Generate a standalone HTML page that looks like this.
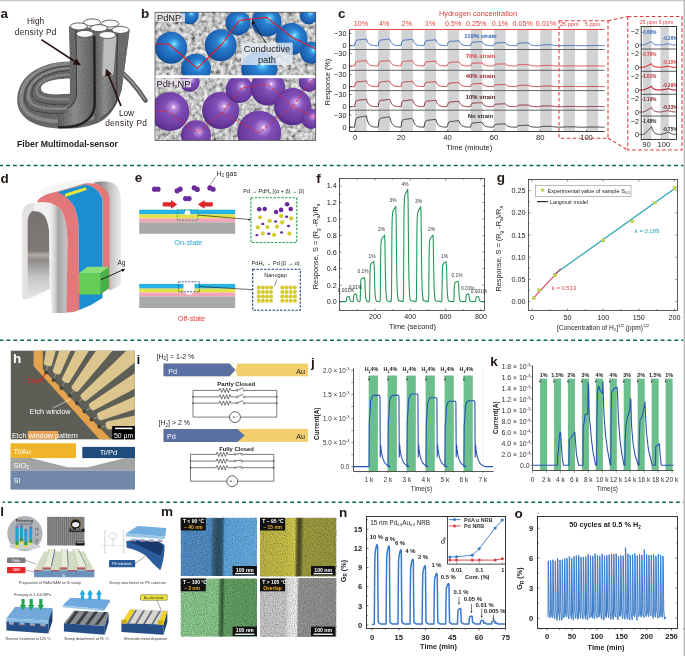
<!DOCTYPE html>
<html><head><meta charset="utf-8"><style>
html,body{margin:0;padding:0;background:#fff;}
svg{display:block;font-family:"Liberation Sans", sans-serif;will-change:transform;}
</style></head><body>
<svg width="685" height="656" viewBox="0 0 685 656" font-family='"Liberation Sans", sans-serif'>
<defs><linearGradient id="gfib" x1="0" y1="0" x2="1" y2="0">
<stop offset="0" stop-color="#5a5a5a"/><stop offset="0.45" stop-color="#8e8e8e"/><stop offset="1" stop-color="#5e5e5e"/></linearGradient>
<linearGradient id="gloop" x1="0" y1="0" x2="0" y2="1">
<stop offset="0" stop-color="#6a6a6a"/><stop offset="0.6" stop-color="#7c7c7c"/><stop offset="1" stop-color="#8a8a8a"/></linearGradient>
<marker id="ahA" viewBox="0 0 10 10" refX="8" refY="5" markerWidth="4.2" markerHeight="4.2" orient="auto"><path d="M0,0 L10,5 L0,10 z" fill="#2a1011"/></marker>
<clipPath id="csil"><path d="M70,61.4 C45,61.4 20,72 17.3,97 C15.5,118 35,128 60,128.5 C80,129 98,126 108,116 C114,110 118,102 121.7,90 L129.7,30 L120,24 L100,19 L84,22 L69.1,26 Z"/></clipPath><radialGradient id="gblue" cx="0.55" cy="0.42" r="0.6" fx="0.6" fy="0.38">
<stop offset="0" stop-color="#c8f4ff"/><stop offset="0.1" stop-color="#50c0f0"/><stop offset="0.35" stop-color="#2a7ed0"/><stop offset="0.8" stop-color="#1a60b0"/><stop offset="1" stop-color="#154a8c"/></radialGradient>
<radialGradient id="gpur" cx="0.55" cy="0.42" r="0.6" fx="0.6" fy="0.38">
<stop offset="0" stop-color="#fff4ff"/><stop offset="0.1" stop-color="#c090e0"/><stop offset="0.35" stop-color="#8050b8"/><stop offset="0.8" stop-color="#6a3aa0"/><stop offset="1" stop-color="#4e2a82"/></radialGradient>
<clipPath id="cbt"><rect x="155" y="12.2" width="160.8" height="63"/></clipPath>
<clipPath id="cbb"><rect x="155" y="78.2" width="160.8" height="62.1"/></clipPath>
<filter id="tex" x="0" y="0" width="1" height="1"><feTurbulence type="fractalNoise" baseFrequency="0.24" numOctaves="3" seed="4"/><feColorMatrix type="matrix" values="1.5 0 0 0 -0.16  1.5 0 0 0 -0.16  1.5 0 0 0 -0.16  0 0 0 0 1"/></filter>
<marker id="ahB" viewBox="0 0 10 10" refX="8" refY="5" markerWidth="5" markerHeight="5" orient="auto"><path d="M0,0 L10,5 L0,10 z" fill="#111"/></marker><linearGradient id="gsilL" x1="50" y1="0" x2="67" y2="0" gradientUnits="userSpaceOnUse">
<stop offset="0" stop-color="#f0f0f0"/><stop offset="0.25" stop-color="#d8d8d8"/><stop offset="0.5" stop-color="#a4a4a4"/><stop offset="0.75" stop-color="#b8b8b8"/><stop offset="1" stop-color="#c4c4c4"/></linearGradient>
<linearGradient id="gint" x1="0" y1="212" x2="0" y2="298" gradientUnits="userSpaceOnUse">
<stop offset="0" stop-color="#787270"/><stop offset="0.45" stop-color="#7e7876"/><stop offset="0.5" stop-color="#b4aaa6"/><stop offset="0.56" stop-color="#8e8a88"/><stop offset="0.75" stop-color="#c4c4c4"/><stop offset="1" stop-color="#e6e6e6"/></linearGradient>
<linearGradient id="gsilR" x1="100" y1="0" x2="121" y2="0" gradientUnits="userSpaceOnUse">
<stop offset="0" stop-color="#8a8a8a"/><stop offset="0.5" stop-color="#c4c4c4"/><stop offset="1" stop-color="#ececec"/></linearGradient>
<marker id="ahK" viewBox="0 0 10 10" refX="8" refY="5" markerWidth="4" markerHeight="4" orient="auto"><path d="M0,0 L10,5 L0,10 z" fill="#111"/></marker>
<clipPath id="chh"><rect x="10.8" y="350.7" width="124" height="88.6"/></clipPath>
<filter id="blur05"><feGaussianBlur stdDeviation="0.35"/></filter><filter id="noise" x="0" y="0" width="1" height="1"><feTurbulence type="fractalNoise" baseFrequency="0.9" numOctaves="1" seed="2"/><feColorMatrix type="matrix" values="0 0 0 0 0  0 0 0 0 0  0 0 0 0 0  0 0 0 -2.2 1.25"/></filter>
<filter id="noiseW" x="0" y="0" width="1" height="1"><feTurbulence type="fractalNoise" baseFrequency="0.9" numOctaves="1" seed="5"/><feColorMatrix type="matrix" values="0 0 0 0 1  0 0 0 0 1  0 0 0 0 1  0 0 0 -2.2 1.25"/></filter><linearGradient id="gm1" x1="0" y1="0" x2="1" y2="0.012"><stop offset="0" stop-color="#4c8cc6"/><stop offset="0.4" stop-color="#4a88c0"/><stop offset="0.43" stop-color="#33607e"/><stop offset="0.49" stop-color="#264a60"/><stop offset="0.55" stop-color="#2c5670"/><stop offset="0.58" stop-color="#5aa2da"/><stop offset="1" stop-color="#62aae0"/></linearGradient><linearGradient id="gm2" x1="0" y1="0" x2="1" y2="0.012"><stop offset="0" stop-color="#bcb43e"/><stop offset="0.33" stop-color="#c4bc42"/><stop offset="0.46" stop-color="#d2ca48"/><stop offset="0.49" stop-color="#6a6826"/><stop offset="0.52" stop-color="#3e3e1a"/><stop offset="0.55" stop-color="#6a6a2a"/><stop offset="0.58" stop-color="#9c9a3a"/><stop offset="1" stop-color="#969438"/></linearGradient><linearGradient id="gm3" x1="0" y1="0" x2="1" y2="0.012"><stop offset="0" stop-color="#86c888"/><stop offset="0.49" stop-color="#86c686"/><stop offset="0.52" stop-color="#4a7a4c"/><stop offset="0.55" stop-color="#2e5a32"/><stop offset="0.58" stop-color="#5e9e60"/><stop offset="1" stop-color="#5a9a5c"/></linearGradient><linearGradient id="gm4" x1="0" y1="0" x2="1" y2="0.012"><stop offset="0" stop-color="#c4c4c4"/><stop offset="0.34" stop-color="#c8c8c8"/><stop offset="0.38" stop-color="#e2e2e2"/><stop offset="0.45" stop-color="#f0f0f0"/><stop offset="0.49" stop-color="#e6e6e6"/><stop offset="0.51" stop-color="#909090"/><stop offset="1" stop-color="#8c8c8c"/></linearGradient></defs>
<rect x="0" y="0" width="685" height="1.2" fill="#c9c9c9" stroke="none" stroke-width="1" />
<rect x="683.6" y="0" width="1.4" height="656" fill="#b9b9b9" stroke="none" stroke-width="1" />
<line x1="0" y1="165.5" x2="683.4" y2="165.5" stroke="#0b6b3c" stroke-width="1.6" stroke-dasharray="3.85 3.037" stroke-dashoffset="0.787"/>
<line x1="0" y1="340.2" x2="683.4" y2="340.2" stroke="#0b6b3c" stroke-width="1.6" stroke-dasharray="3.85 3.037" stroke-dashoffset="0.487"/>
<line x1="2.5" y1="502.3" x2="683.4" y2="502.3" stroke="#0b6b3c" stroke-width="1.6" stroke-dasharray="3.85 3.037" stroke-dashoffset="1.487"/>
<text x="0.6" y="17.6" font-size="13.5" fill="#231815" font-weight="bold" text-anchor="start" >a</text>
<path d="M117,69 C126,75 134,83 145.5,100.5" fill="none" stroke="#5e5e5e" stroke-width="4.6" stroke-linecap="round"/>
<path d="M117,68.5 C126,74.5 134,82.5 145,100" fill="none" stroke="#a2a2a2" stroke-width="1.3" />
<path d="M70,61.4 C45,61.4 20,72 17.3,97 C15.5,118 35,128 60,128.5 C80,129 98,126 108,116 C114,110 118,102 121.7,90 L129.7,30 L69.1,26.4 Z" fill="#686868" stroke="none" stroke-width="1" />
<path d="M70,63.8 C47,63.8 23,74 21,97 C19.5,114 37,121 60,121.5 C80,122 97,119 106,111" fill="none" stroke="#8c8c8c" stroke-width="3.6" />
<path d="M70,68.3 C52,68.3 30,77 28.3,93.5 C27,106 40,108.8 58,108.8 C75,108.8 90,107 102,102" fill="none" stroke="#8a8a8a" stroke-width="2.6" />
<path d="M70,74.6 C56,74.6 38,79.5 36.5,90 C35.8,97 45,99.2 58,99.2 C72,99.2 86,98.5 97,95" fill="none" stroke="#888888" stroke-width="2.4" />
<path d="M70,66 C50,66 27,75 24.6,95 C23,110 38,113.4 58,113.4 C75,113.4 92,112 104,106" fill="none" stroke="#3a3a3a" stroke-width="0.9" />
<path d="M70,70.5 C54,70.5 33,78 31.9,92 C31,101 42,104.3 58,104.3 C74,104.3 90,103 100,98" fill="none" stroke="#3a3a3a" stroke-width="0.9" />
<path d="M70,78.7 C58,78.7 42,81 41,88 C40.5,93 48,94.2 58,94.2 L70,93.5 Z" fill="#fff" stroke="none" stroke-width="1" />
<g clip-path="url(#csil)">
<path d="M69.1,26.4 L76,27 L76.6,96 C74,102 71,106 67,109 L69.8,93.5 Z" fill="#6a6a6a" stroke="none" stroke-width="1" />
<path d="M76.6,33.9 L94.3,33.9 L94.6,104 C94,113 89,120 80,124 C74,126 66,127 58,127 L58,116 C66,113 73,109 76.6,98 Z" fill="url(#gfib)" stroke="none" stroke-width="1" />
<path d="M97.7,35 L117.2,35 L116,100 C113,108 106,116 97.7,121 C96,122 95,122.5 94.6,123 L94.6,104 Z" fill="url(#gfib)" stroke="none" stroke-width="1" />
<path d="M117.2,30 L129.7,30 L121.7,90 C120,96 118,100 116,103 Z" fill="#6c6c6c" stroke="none" stroke-width="1" />
<path d="M94.3,36 L94.7,104 C94.3,113 90,120 80,124.5 C74,126.5 66,127.5 58,127.5" fill="none" stroke="#1e1e1e" stroke-width="2.4" />
<path d="M76,30 L76.6,96 C75,102 72,106 67,109.5" fill="none" stroke="#3a3a3a" stroke-width="1.0" />
<path d="M117.5,33 L116.5,101 C114,108 108,114 100,119" fill="none" stroke="#3a3a3a" stroke-width="1.0" />
</g>
<g clip-path="url(#csil)">
<rect x="15" y="18" width="120" height="114" fill="#000" stroke="none" stroke-width="1" filter="url(#noise)" opacity="0.22"/>
<rect x="15" y="18" width="120" height="114" fill="#fff" stroke="none" stroke-width="1" filter="url(#noiseW)" opacity="0.12"/>
</g>
<path d="M70,78.7 C58,78.7 42,81 41,88 C40.5,93 48,94.2 58,94.2 L69.8,93.5 C69.5,88 69.5,83 70,78.7 Z" fill="#fff" stroke="none" stroke-width="1" />
<path d="M103.5,36.2 L116.5,36.2 L113.5,74.5 L102,75.8 Z" fill="#bdbdbd" stroke="none" stroke-width="1" />
<path d="M103.5,36.2 L102,75.8" fill="none" stroke="#8a8a8a" stroke-width="0.8" />
<ellipse cx="92" cy="22.4" rx="8.6" ry="3.5" fill="#fbfbfb" stroke="#555" stroke-width="0.9"/>
<ellipse cx="110.3" cy="23.6" rx="8.6" ry="3.5" fill="#fbfbfb" stroke="#555" stroke-width="0.9"/>
<ellipse cx="78.9" cy="26.4" rx="8.6" ry="3.5" fill="#fbfbfb" stroke="#555" stroke-width="0.9"/>
<ellipse cx="98.9" cy="28.1" rx="8.6" ry="3.5" fill="#fbfbfb" stroke="#555" stroke-width="0.9"/>
<ellipse cx="120.5" cy="29.9" rx="8.6" ry="3.5" fill="#fbfbfb" stroke="#555" stroke-width="0.9"/>
<ellipse cx="84.8" cy="33.9" rx="8.6" ry="3.5" fill="#fbfbfb" stroke="#555" stroke-width="0.9"/>
<ellipse cx="107.4" cy="35" rx="8.6" ry="3.5" fill="#fbfbfb" stroke="#555" stroke-width="0.9"/>
<text x="35.6" y="24.4" font-size="8.3" fill="#2e2020" font-weight="normal" text-anchor="middle" >High</text>
<text x="35.8" y="34.8" font-size="8.3" fill="#2e2020" font-weight="normal" text-anchor="middle" letter-spacing="0.33">density Pd</text>
<line x1="41.4" y1="39.6" x2="79.5" y2="64.5" stroke="#2a1011" stroke-width="1.7" marker-end="url(#ahA)"/>
<text x="126.5" y="116.2" font-size="8.3" fill="#2e2020" font-weight="normal" text-anchor="middle" >Low</text>
<text x="126.2" y="126.2" font-size="8.3" fill="#2e2020" font-weight="normal" text-anchor="middle" letter-spacing="0.33">density Pd</text>
<line x1="121" y1="106" x2="106.5" y2="70" stroke="#2a1011" stroke-width="1.7" marker-end="url(#ahA)"/>
<text x="67.5" y="146.6" font-size="8.7" fill="#231815" font-weight="bold" text-anchor="middle" >Fiber Multimodal-sensor</text>
<text x="141" y="17.6" font-size="13.5" fill="#231815" font-weight="bold" text-anchor="start" >b</text>
<rect x="155" y="12.2" width="160.8" height="128.1" fill="#9a9a9a" stroke="none" stroke-width="1" />
<rect x="155" y="12.2" width="160.8" height="128.1" fill="#000" stroke="none" stroke-width="1" filter="url(#tex)" opacity="0.85"/>
<rect x="155" y="75.2" width="160.8" height="3" fill="#fff" stroke="none" stroke-width="1" />
<g clip-path="url(#cbt)">
<circle cx="171.1" cy="47.7" r="16" fill="url(#gblue)" stroke="none" stroke-width="1" />
<circle cx="196" cy="68.8" r="15" fill="url(#gblue)" stroke="none" stroke-width="1" />
<circle cx="220.7" cy="45.2" r="16" fill="url(#gblue)" stroke="none" stroke-width="1" />
<circle cx="238" cy="22.9" r="12.5" fill="url(#gblue)" stroke="none" stroke-width="1" />
<circle cx="266.6" cy="21.7" r="15" fill="url(#gblue)" stroke="none" stroke-width="1" />
<circle cx="291.5" cy="39" r="16" fill="url(#gblue)" stroke="none" stroke-width="1" />
<circle cx="311.3" cy="52.7" r="11" fill="url(#gblue)" stroke="none" stroke-width="1" />
<circle cx="259.2" cy="68.8" r="18" fill="url(#gblue)" stroke="none" stroke-width="1" />
<circle cx="189.7" cy="15.4" r="9" fill="url(#gblue)" stroke="none" stroke-width="1" />
<circle cx="308.8" cy="15.4" r="9" fill="url(#gblue)" stroke="none" stroke-width="1" />
<polyline points="155,44 168.6,44 197.2,68.3 222,44 239.4,20.4 266.6,17.4 292.7,37.8 316,49" fill="none" stroke="#e01c2c" stroke-width="1.1" stroke-linejoin="round" />
</g>
<g clip-path="url(#cbb)">
<circle cx="169.9" cy="111.7" r="19.4" fill="url(#gpur)" stroke="none" stroke-width="1" />
<circle cx="196" cy="135.3" r="15" fill="url(#gpur)" stroke="none" stroke-width="1" />
<circle cx="220.7" cy="110.5" r="18.6" fill="url(#gpur)" stroke="none" stroke-width="1" />
<circle cx="239.4" cy="89.4" r="13.6" fill="url(#gpur)" stroke="none" stroke-width="1" />
<circle cx="267.9" cy="88.1" r="17.4" fill="url(#gpur)" stroke="none" stroke-width="1" />
<circle cx="292.7" cy="106.7" r="18.6" fill="url(#gpur)" stroke="none" stroke-width="1" />
<circle cx="259.2" cy="132.8" r="22" fill="url(#gpur)" stroke="none" stroke-width="1" />
<circle cx="311.3" cy="119" r="10" fill="url(#gpur)" stroke="none" stroke-width="1" />
<circle cx="308.8" cy="82" r="10" fill="url(#gpur)" stroke="none" stroke-width="1" />
<circle cx="189.7" cy="82" r="10" fill="url(#gpur)" stroke="none" stroke-width="1" />
<polyline points="155,111.7 168.6,111.2 197.2,132.8 222,113 241.8,88 267.9,84.4 292.7,106.7 316,118" fill="none" stroke="#e0283a" stroke-width="1.0" stroke-linejoin="round" stroke-dasharray="3 2"/>
<polyline points="222,113 259.2,132.8 292.7,106.7 313.8,78.2" fill="none" stroke="#e0283a" stroke-width="1.0" stroke-linejoin="round" stroke-dasharray="3 2"/>
</g>
<rect x="155" y="12.2" width="160.8" height="128.1" fill="none" stroke="#333" stroke-width="0.6" />
<rect x="155.5" y="13.3" width="29.5" height="8.8" fill="#e8e8e8" stroke="none" stroke-width="1" opacity="0.85"/>
<text x="157" y="21.2" font-size="9.3" fill="#222" font-weight="normal" text-anchor="start" >PdNP</text>
<rect x="155.5" y="79" width="35.5" height="8.3" fill="#e8e0ec" stroke="none" stroke-width="1" opacity="0.85"/>
<text x="156.5" y="86.9" font-size="9.3" fill="#222" font-weight="normal" text-anchor="start" >PdH<tspan font-size="6" dy="1.5">x</tspan><tspan dy="-1.5">NP</tspan></text>
<rect x="241.3" y="42.7" width="51.4" height="22.3" fill="#e6eef6" stroke="none" stroke-width="1" opacity="0.8"/>
<text x="267" y="52.4" font-size="9.3" fill="#222" font-weight="normal" text-anchor="middle" >Conductive</text>
<text x="267" y="63.1" font-size="9.3" fill="#222" font-weight="normal" text-anchor="middle" >path</text>
<line x1="266" y1="43" x2="252.3" y2="21.2" stroke="#111" stroke-width="0.8" marker-end="url(#ahB)"/>
<text x="338" y="17.6" font-size="13.5" fill="#231815" font-weight="bold" text-anchor="start" >c</text>
<text x="478" y="16" font-size="7.35" fill="#e23a3a" font-weight="normal" text-anchor="middle" >Hydrogen concentration</text>
<text x="361" y="25.6" font-size="7.2" fill="#e23a3a" font-weight="normal" text-anchor="middle" >10%</text>
<text x="384.3" y="25.6" font-size="7.2" fill="#e23a3a" font-weight="normal" text-anchor="middle" >4%</text>
<text x="407" y="25.6" font-size="7.2" fill="#e23a3a" font-weight="normal" text-anchor="middle" >2%</text>
<text x="430.3" y="25.6" font-size="7.2" fill="#e23a3a" font-weight="normal" text-anchor="middle" >1%</text>
<text x="453.3" y="25.6" font-size="7.2" fill="#e23a3a" font-weight="normal" text-anchor="middle" >0.5%</text>
<text x="476.3" y="25.6" font-size="7.2" fill="#e23a3a" font-weight="normal" text-anchor="middle" >0.25%</text>
<text x="500" y="25.6" font-size="7.2" fill="#e23a3a" font-weight="normal" text-anchor="middle" >0.1%</text>
<text x="522.8" y="25.6" font-size="7.2" fill="#e23a3a" font-weight="normal" text-anchor="middle" >0.05%</text>
<text x="546" y="25.6" font-size="7.2" fill="#e23a3a" font-weight="normal" text-anchor="middle" >0.01%</text>
<text x="569.3" y="25.9" font-size="5.6" fill="#e23a3a" font-weight="normal" text-anchor="middle" >25 ppm</text>
<text x="592.5" y="25.9" font-size="5.6" fill="#e23a3a" font-weight="normal" text-anchor="middle" >5 ppm</text>
<rect x="355" y="29.5" width="11.57" height="102" fill="#d1d3d4" stroke="none" stroke-width="1" />
<rect x="378.15" y="29.5" width="11.57" height="102" fill="#d1d3d4" stroke="none" stroke-width="1" />
<rect x="401.3" y="29.5" width="11.57" height="102" fill="#d1d3d4" stroke="none" stroke-width="1" />
<rect x="424.45" y="29.5" width="11.57" height="102" fill="#d1d3d4" stroke="none" stroke-width="1" />
<rect x="447.6" y="29.5" width="11.57" height="102" fill="#d1d3d4" stroke="none" stroke-width="1" />
<rect x="470.75" y="29.5" width="11.57" height="102" fill="#d1d3d4" stroke="none" stroke-width="1" />
<rect x="493.9" y="29.5" width="11.57" height="102" fill="#d1d3d4" stroke="none" stroke-width="1" />
<rect x="517.05" y="29.5" width="11.57" height="102" fill="#d1d3d4" stroke="none" stroke-width="1" />
<rect x="540.2" y="29.5" width="11.57" height="102" fill="#d1d3d4" stroke="none" stroke-width="1" />
<rect x="563.35" y="29.5" width="11.57" height="102" fill="#d1d3d4" stroke="none" stroke-width="1" />
<rect x="586.5" y="29.5" width="11.57" height="102" fill="#d1d3d4" stroke="none" stroke-width="1" />
<polyline points="348.98,45.7 349.68,45.7 350.37,45.7 351.06,45.7 351.76,45.7 352.45,45.7 353.15,45.7 353.84,45.7 354.54,45.7 355.23,42.67 355.93,40.89 356.62,40.31 357.31,40.08 358.01,39.96 358.7,39.88 359.4,39.8 360.09,39.72 360.79,39.65 361.48,39.58 362.18,39.51 362.87,39.43 363.57,39.36 364.26,39.29 364.95,39.22 365.65,39.15 366.34,39.07 367.04,40.95 367.73,42.3 368.43,43.26 369.12,43.95 369.82,44.45 370.51,44.8 371.2,45.06 371.9,45.24 372.59,45.37 373.29,45.46 373.98,45.53 374.68,45.58 375.37,45.61 376.07,45.64 376.76,45.66 377.46,45.67 378.15,45.68 378.84,41.82 379.54,40.6 380.23,40.19 380.93,40.01 381.62,39.91 382.32,39.82 383.01,39.75 383.71,39.68 384.4,39.6 385.09,39.53 385.79,39.46 386.48,39.39 387.18,39.31 387.87,39.24 388.57,39.17 389.26,39.1 389.96,39.75 390.65,41.44 391.35,42.64 392.04,43.51 392.73,44.13 393.43,44.58 394.12,44.89 394.82,45.12 395.51,45.29 396.21,45.4 396.9,45.49 397.6,45.55 398.29,45.59 398.99,45.62 399.68,45.64 400.37,45.66 401.07,45.67 401.76,41.95 402.46,40.78 403.15,40.37 403.85,40.2 404.54,40.1 405.24,40.02 405.93,39.95 406.62,39.88 407.32,39.81 408.01,39.74 408.71,39.67 409.4,39.6 410.1,39.53 410.79,39.46 411.49,39.39 412.18,39.32 412.88,39.95 413.57,41.58 414.26,42.75 414.96,43.58 415.65,44.18 416.35,44.61 417.04,44.92 417.74,45.14 418.43,45.3 419.13,45.41 419.82,45.49 420.51,45.55 421.21,45.59 421.9,45.62 422.6,45.65 423.29,45.66 423.99,45.67 424.68,42.97 425.38,41.39 426.07,40.87 426.77,40.67 427.46,40.56 428.15,40.48 428.85,40.42 429.54,40.35 430.24,40.28 430.93,40.22 431.63,40.15 432.32,40.09 433.02,40.02 433.71,39.96 434.4,39.9 435.1,39.83 435.79,39.77 436.49,41.45 437.18,42.65 437.88,43.52 438.57,44.14 439.27,44.58 439.96,44.9 440.66,45.12 441.35,45.29 442.04,45.4 442.74,45.49 443.43,45.55 444.13,45.59 444.82,45.62 445.52,45.64 446.21,45.66 446.91,45.67 447.6,44.33 448.29,42.39 448.99,41.77 449.68,41.55 450.38,41.44 451.07,41.37 451.77,41.31 452.46,41.26 453.16,41.2 453.85,41.15 454.55,41.1 455.24,41.04 455.93,40.99 456.63,40.93 457.32,40.88 458.02,40.83 458.71,40.77 459.41,41.74 460.1,42.86 460.8,43.67 461.49,44.24 462.18,44.66 462.88,44.95 463.57,45.16 464.27,45.32 464.96,45.42 465.66,45.5 466.35,45.56 467.05,45.6 467.74,45.63 468.44,45.65 469.13,45.66 469.82,45.67 470.52,45.68 471.21,43.27 471.91,42.52 472.6,42.26 473.3,42.15 473.99,42.08 474.69,42.03 475.38,41.99 476.07,41.94 476.77,41.89 477.46,41.85 478.16,41.8 478.85,41.76 479.55,41.71 480.24,41.67 480.94,41.62 481.63,41.58 482.33,41.98 483.02,43.04 483.71,43.79 484.41,44.33 485.1,44.72 485.8,45 486.49,45.2 487.19,45.34 487.88,45.44 488.58,45.51 489.27,45.57 489.96,45.6 490.66,45.63 491.35,45.65 492.05,45.67 492.74,45.67 493.44,45.68 494.13,44.24 494.83,43.4 495.52,43.12 496.22,43.02 496.91,42.96 497.6,42.92 498.3,42.88 498.99,42.85 499.69,42.81 500.38,42.78 501.08,42.74 501.77,42.71 502.47,42.67 503.16,42.64 503.85,42.6 504.55,42.57 505.24,42.53 505.94,43.43 506.63,44.08 507.33,44.54 508.02,44.87 508.72,45.1 509.41,45.27 510.11,45.39 510.8,45.48 511.49,45.54 512.19,45.59 512.88,45.62 513.58,45.64 514.27,45.66 514.97,45.67 515.66,45.68 516.36,45.68 517.05,44.88 517.74,43.72 518.44,43.34 519.13,43.21 519.83,43.15 520.52,43.1 521.22,43.07 521.91,43.04 522.61,43 523.3,42.97 524,42.94 524.69,42.91 525.38,42.87 526.08,42.84 526.77,42.81 527.47,42.78 528.16,42.74 528.86,43.32 529.55,44 530.25,44.48 530.94,44.83 531.63,45.07 532.33,45.25 533.02,45.38 533.72,45.47 534.41,45.53 535.11,45.58 535.8,45.62 536.5,45.64 537.19,45.66 537.88,45.67 538.58,45.68 539.27,45.68 539.97,45.69 540.66,45.24 541.36,44.98 542.05,44.89 542.75,44.86 543.44,44.84 544.14,44.83 544.83,44.82 545.52,44.8 546.22,44.79 546.91,44.78 547.61,44.77 548.3,44.76 549,44.75 549.69,44.74 550.39,44.73 551.08,44.72 551.77,44.71 552.47,44.99 553.16,45.19 553.86,45.33 554.55,45.44 555.25,45.51 555.94,45.57 556.64,45.6 557.33,45.63 558.03,45.65 558.72,45.66 559.41,45.67 560.11,45.68 560.8,45.69 561.5,45.69 562.19,45.69 562.89,45.7 563.58,45.63 564.28,45.53 564.97,45.5 565.66,45.49 566.36,45.49 567.05,45.48 567.75,45.48 568.44,45.48 569.14,45.47 569.83,45.47 570.53,45.47 571.22,45.47 571.92,45.46 572.61,45.46 573.3,45.46 574,45.46 574.69,45.45 575.39,45.5 576.08,45.56 576.78,45.6 577.47,45.63 578.17,45.65 578.86,45.66 579.55,45.67 580.25,45.68 580.94,45.69 581.64,45.69 582.33,45.69 583.03,45.69 583.72,45.7 584.42,45.7 585.11,45.7 585.81,45.7 586.5,45.7 587.19,45.58 587.89,45.55 588.58,45.54 589.28,45.53 589.97,45.53 590.67,45.52 591.36,45.52 592.06,45.52 592.75,45.52 593.44,45.52 594.14,45.51 594.83,45.51 595.53,45.51 596.22,45.51 596.92,45.51 597.61,45.5 598.31,45.52 599,45.57 599.7,45.61 600.39,45.63 601.08,45.65 601.78,45.67 602.47,45.68 603.17,45.68 603.86,45.69 604.56,45.69" fill="none" stroke="#3060b8" stroke-width="0.9" stroke-linejoin="round" />
<text x="346.5" y="48.3" font-size="7.3" fill="#222" font-weight="normal" text-anchor="end" >0</text>
<text x="346.5" y="36.1" font-size="7.3" fill="#222" font-weight="normal" text-anchor="end" >−30</text>
<line x1="349.5" y1="45.7" x2="351.5" y2="45.7" stroke="#222" stroke-width="0.6" />
<line x1="349.5" y1="33.5" x2="351.5" y2="33.5" stroke="#222" stroke-width="0.6" />
<text x="480.5" y="37.5" font-size="5.9" fill="#3060b8" font-weight="bold" text-anchor="middle" >110% strain</text>
<line x1="349.5" y1="49.5" x2="604.5" y2="49.5" stroke="#555" stroke-width="0.9" />
<polyline points="348.98,66 349.68,66 350.37,66 351.06,66 351.76,66 352.45,66 353.15,66 353.84,66 354.54,66 355.23,63.51 355.93,62.05 356.62,61.57 357.31,61.39 358.01,61.29 358.7,61.22 359.4,61.16 360.09,61.1 360.79,61.04 361.48,60.98 362.18,60.92 362.87,60.86 363.57,60.8 364.26,60.74 364.95,60.68 365.65,60.62 366.34,60.56 367.04,62.1 367.73,63.21 368.43,64 369.12,64.57 369.82,64.97 370.51,65.26 371.2,65.47 371.9,65.62 372.59,65.73 373.29,65.81 373.98,65.86 374.68,65.9 375.37,65.93 376.07,65.95 376.76,65.96 377.46,65.97 378.15,65.98 378.84,62.81 379.54,61.82 380.23,61.47 380.93,61.33 381.62,61.24 382.32,61.18 383.01,61.12 383.71,61.06 384.4,61 385.09,60.94 385.79,60.88 386.48,60.82 387.18,60.76 387.87,60.7 388.57,60.64 389.26,60.58 389.96,61.11 390.65,62.5 391.35,63.49 392.04,64.2 392.73,64.71 393.43,65.08 394.12,65.34 394.82,65.53 395.51,65.66 396.21,65.76 396.9,65.83 397.6,65.88 398.29,65.91 398.99,65.94 399.68,65.95 400.37,65.97 401.07,65.98 401.76,62.88 402.46,61.91 403.15,61.57 403.85,61.43 404.54,61.35 405.24,61.28 405.93,61.22 406.62,61.16 407.32,61.11 408.01,61.05 408.71,60.99 409.4,60.93 410.1,60.87 410.79,60.81 411.49,60.76 412.18,60.7 412.88,61.22 413.57,62.58 414.26,63.55 414.96,64.24 415.65,64.74 416.35,65.1 417.04,65.35 417.74,65.54 418.43,65.67 419.13,65.76 419.82,65.83 420.51,65.88 421.21,65.91 421.9,65.94 422.6,65.96 423.29,65.97 423.99,65.98 424.68,63.73 425.38,62.41 426.07,61.97 426.77,61.81 427.46,61.72 428.15,61.65 428.85,61.6 429.54,61.54 430.24,61.49 430.93,61.43 431.63,61.38 432.32,61.32 433.02,61.27 433.71,61.22 434.4,61.16 435.1,61.11 435.79,61.05 436.49,62.46 437.18,63.46 437.88,64.18 438.57,64.7 439.27,65.07 439.96,65.33 440.66,65.52 441.35,65.66 442.04,65.75 442.74,65.82 443.43,65.87 444.13,65.91 444.82,65.94 445.52,65.95 446.21,65.97 446.91,65.98 447.6,64.85 448.29,63.22 448.99,62.7 449.68,62.51 450.38,62.42 451.07,62.37 451.77,62.32 452.46,62.27 453.16,62.22 453.85,62.18 454.55,62.13 455.24,62.09 455.93,62.04 456.63,62 457.32,61.95 458.02,61.91 458.71,61.86 459.41,62.67 460.1,63.62 460.8,64.29 461.49,64.78 462.18,65.12 462.88,65.37 463.57,65.55 464.27,65.68 464.96,65.77 465.66,65.83 466.35,65.88 467.05,65.91 467.74,65.94 468.44,65.96 469.13,65.97 469.82,65.98 470.52,65.98 471.21,64.15 471.91,63.58 472.6,63.38 473.3,63.29 473.99,63.24 474.69,63.21 475.38,63.17 476.07,63.13 476.77,63.1 477.46,63.07 478.16,63.03 478.85,63 479.55,62.96 480.24,62.93 480.94,62.89 481.63,62.86 482.33,63.17 483.02,63.97 483.71,64.55 484.41,64.96 485.1,65.25 485.8,65.47 486.49,65.62 487.19,65.73 487.88,65.8 488.58,65.86 489.27,65.9 489.96,65.93 490.66,65.95 491.35,65.96 492.05,65.97 492.74,65.98 493.44,65.99 494.13,65 494.83,64.42 495.52,64.23 496.22,64.15 496.91,64.12 497.6,64.09 498.3,64.06 498.99,64.04 499.69,64.01 500.38,63.99 501.08,63.97 501.77,63.94 502.47,63.92 503.16,63.9 503.85,63.87 504.55,63.85 505.24,63.82 505.94,64.44 506.63,64.88 507.33,65.2 508.02,65.43 508.72,65.59 509.41,65.71 510.11,65.79 510.8,65.85 511.49,65.89 512.19,65.92 512.88,65.94 513.58,65.96 514.27,65.97 514.97,65.98 515.66,65.99 516.36,65.99 517.05,65.59 517.74,65.01 518.44,64.82 519.13,64.75 519.83,64.72 520.52,64.7 521.22,64.68 521.91,64.67 522.61,64.65 523.3,64.64 524,64.62 524.69,64.6 525.38,64.59 526.08,64.57 526.77,64.55 527.47,64.54 528.16,64.52 528.86,64.81 529.55,65.15 530.25,65.39 530.94,65.56 531.63,65.69 532.33,65.78 533.02,65.84 533.72,65.88 534.41,65.92 535.11,65.94 535.8,65.96 536.5,65.97 537.19,65.98 537.88,65.98 538.58,65.99 539.27,65.99 539.97,65.99 540.66,65.72 541.36,65.57 542.05,65.51 542.75,65.49 543.44,65.48 544.14,65.48 544.83,65.47 545.52,65.46 546.22,65.46 546.91,65.45 547.61,65.44 548.3,65.44 549,65.43 549.69,65.42 550.39,65.42 551.08,65.41 551.77,65.4 552.47,65.57 553.16,65.69 553.86,65.78 554.55,65.84 555.25,65.89 555.94,65.92 556.64,65.94 557.33,65.96 558.03,65.97 558.72,65.98 559.41,65.98 560.11,65.99 560.8,65.99 561.5,65.99 562.19,66 562.89,66 563.58,65.94 564.28,65.87 564.97,65.84 565.66,65.83 566.36,65.83 567.05,65.83 567.75,65.82 568.44,65.82 569.14,65.82 569.83,65.82 570.53,65.82 571.22,65.81 571.92,65.81 572.61,65.81 573.3,65.81 574,65.8 574.69,65.8 575.39,65.84 576.08,65.89 576.78,65.92 577.47,65.94 578.17,65.96 578.86,65.97 579.55,65.98 580.25,65.98 580.94,65.99 581.64,65.99 582.33,65.99 583.03,66 583.72,66 584.42,66 585.11,66 585.81,66 586.5,66 587.19,65.91 587.89,65.89 588.58,65.88 589.28,65.87 589.97,65.87 590.67,65.87 591.36,65.87 592.06,65.87 592.75,65.86 593.44,65.86 594.14,65.86 594.83,65.86 595.53,65.86 596.22,65.86 596.92,65.85 597.61,65.85 598.31,65.87 599,65.9 599.7,65.93 600.39,65.95 601.08,65.96 601.78,65.97 602.47,65.98 603.17,65.99 603.86,65.99 604.56,65.99" fill="none" stroke="#e03a3a" stroke-width="0.9" stroke-linejoin="round" />
<text x="346.5" y="68.6" font-size="7.3" fill="#222" font-weight="normal" text-anchor="end" >0</text>
<text x="346.5" y="56.4" font-size="7.3" fill="#222" font-weight="normal" text-anchor="end" >−30</text>
<line x1="349.5" y1="66" x2="351.5" y2="66" stroke="#222" stroke-width="0.6" />
<line x1="349.5" y1="53.8" x2="351.5" y2="53.8" stroke="#222" stroke-width="0.6" />
<text x="480.5" y="57.8" font-size="5.9" fill="#e03a3a" font-weight="bold" text-anchor="middle" >70% strain</text>
<line x1="349.5" y1="70.3" x2="604.5" y2="70.3" stroke="#555" stroke-width="0.9" />
<polyline points="348.98,86.6 349.68,86.6 350.37,86.6 351.06,86.6 351.76,86.6 352.45,86.6 353.15,86.6 353.84,86.6 354.54,86.6 355.23,84.06 355.93,82.58 356.62,82.09 357.31,81.9 358.01,81.8 358.7,81.73 359.4,81.67 360.09,81.61 360.79,81.55 361.48,81.48 362.18,81.42 362.87,81.36 363.57,81.3 364.26,81.24 364.95,81.18 365.65,81.12 366.34,81.06 367.04,82.63 367.73,83.76 368.43,84.56 369.12,85.14 369.82,85.55 370.51,85.85 371.2,86.06 371.9,86.22 372.59,86.32 373.29,86.4 373.98,86.46 374.68,86.5 375.37,86.53 376.07,86.55 376.76,86.56 377.46,86.57 378.15,86.58 378.84,83.35 379.54,82.34 380.23,81.99 380.93,81.84 381.62,81.76 382.32,81.69 383.01,81.63 383.71,81.57 384.4,81.5 385.09,81.44 385.79,81.38 386.48,81.32 387.18,81.26 387.87,81.2 388.57,81.14 389.26,81.08 389.96,81.63 390.65,83.04 391.35,84.05 392.04,84.77 392.73,85.29 393.43,85.66 394.12,85.93 394.82,86.12 395.51,86.25 396.21,86.35 396.9,86.42 397.6,86.47 398.29,86.51 398.99,86.53 399.68,86.55 400.37,86.57 401.07,86.58 401.76,83.48 402.46,82.51 403.15,82.17 403.85,82.03 404.54,81.95 405.24,81.88 405.93,81.82 406.62,81.76 407.32,81.71 408.01,81.65 408.71,81.59 409.4,81.53 410.1,81.47 410.79,81.41 411.49,81.36 412.18,81.3 412.88,81.82 413.57,83.18 414.26,84.15 414.96,84.84 415.65,85.34 416.35,85.7 417.04,85.95 417.74,86.14 418.43,86.27 419.13,86.36 419.82,86.43 420.51,86.48 421.21,86.51 421.9,86.54 422.6,86.56 423.29,86.57 423.99,86.58 424.68,84.33 425.38,83.01 426.07,82.57 426.77,82.41 427.46,82.32 428.15,82.25 428.85,82.2 429.54,82.14 430.24,82.09 430.93,82.03 431.63,81.98 432.32,81.92 433.02,81.87 433.71,81.82 434.4,81.76 435.1,81.71 435.79,81.65 436.49,83.06 437.18,84.06 437.88,84.78 438.57,85.3 439.27,85.67 439.96,85.93 440.66,86.12 441.35,86.26 442.04,86.35 442.74,86.42 443.43,86.47 444.13,86.51 444.82,86.54 445.52,86.55 446.21,86.57 446.91,86.58 447.6,85.45 448.29,83.82 448.99,83.3 449.68,83.11 450.38,83.02 451.07,82.97 451.77,82.92 452.46,82.87 453.16,82.82 453.85,82.78 454.55,82.73 455.24,82.69 455.93,82.64 456.63,82.6 457.32,82.55 458.02,82.51 458.71,82.46 459.41,83.27 460.1,84.22 460.8,84.89 461.49,85.38 462.18,85.72 462.88,85.97 463.57,86.15 464.27,86.28 464.96,86.37 465.66,86.43 466.35,86.48 467.05,86.51 467.74,86.54 468.44,86.56 469.13,86.57 469.82,86.58 470.52,86.58 471.21,84.75 471.91,84.18 472.6,83.98 473.3,83.89 473.99,83.84 474.69,83.81 475.38,83.77 476.07,83.73 476.77,83.7 477.46,83.67 478.16,83.63 478.85,83.6 479.55,83.56 480.24,83.53 480.94,83.49 481.63,83.46 482.33,83.77 483.02,84.57 483.71,85.15 484.41,85.56 485.1,85.85 485.8,86.07 486.49,86.22 487.19,86.33 487.88,86.4 488.58,86.46 489.27,86.5 489.96,86.53 490.66,86.55 491.35,86.56 492.05,86.57 492.74,86.58 493.44,86.59 494.13,85.6 494.83,85.02 495.52,84.83 496.22,84.75 496.91,84.72 497.6,84.69 498.3,84.66 498.99,84.64 499.69,84.61 500.38,84.59 501.08,84.57 501.77,84.54 502.47,84.52 503.16,84.5 503.85,84.47 504.55,84.45 505.24,84.42 505.94,85.04 506.63,85.48 507.33,85.8 508.02,86.03 508.72,86.19 509.41,86.31 510.11,86.39 510.8,86.45 511.49,86.49 512.19,86.52 512.88,86.54 513.58,86.56 514.27,86.57 514.97,86.58 515.66,86.59 516.36,86.59 517.05,86.22 517.74,85.67 518.44,85.5 519.13,85.44 519.83,85.41 520.52,85.39 521.22,85.37 521.91,85.36 522.61,85.34 523.3,85.33 524,85.31 524.69,85.3 525.38,85.28 526.08,85.27 526.77,85.25 527.47,85.24 528.16,85.22 528.86,85.49 529.55,85.81 530.25,86.03 530.94,86.19 531.63,86.31 532.33,86.39 533.02,86.45 533.72,86.49 534.41,86.52 535.11,86.54 535.8,86.56 536.5,86.57 537.19,86.58 537.88,86.59 538.58,86.59 539.27,86.59 539.97,86.59 540.66,86.33 541.36,86.17 542.05,86.11 542.75,86.09 543.44,86.08 544.14,86.08 544.83,86.07 545.52,86.06 546.22,86.06 546.91,86.05 547.61,86.04 548.3,86.04 549,86.03 549.69,86.02 550.39,86.02 551.08,86.01 551.77,86 552.47,86.17 553.16,86.29 553.86,86.38 554.55,86.44 555.25,86.49 555.94,86.52 556.64,86.54 557.33,86.56 558.03,86.57 558.72,86.58 559.41,86.58 560.11,86.59 560.8,86.59 561.5,86.59 562.19,86.6 562.89,86.6 563.58,86.54 564.28,86.47 564.97,86.44 565.66,86.43 566.36,86.43 567.05,86.43 567.75,86.42 568.44,86.42 569.14,86.42 569.83,86.42 570.53,86.42 571.22,86.41 571.92,86.41 572.61,86.41 573.3,86.41 574,86.4 574.69,86.4 575.39,86.44 576.08,86.49 576.78,86.52 577.47,86.54 578.17,86.56 578.86,86.57 579.55,86.58 580.25,86.58 580.94,86.59 581.64,86.59 582.33,86.59 583.03,86.6 583.72,86.6 584.42,86.6 585.11,86.6 585.81,86.6 586.5,86.6 587.19,86.51 587.89,86.49 588.58,86.48 589.28,86.47 589.97,86.47 590.67,86.47 591.36,86.47 592.06,86.47 592.75,86.46 593.44,86.46 594.14,86.46 594.83,86.46 595.53,86.46 596.22,86.46 596.92,86.45 597.61,86.45 598.31,86.47 599,86.5 599.7,86.53 600.39,86.55 601.08,86.56 601.78,86.57 602.47,86.58 603.17,86.59 603.86,86.59 604.56,86.59" fill="none" stroke="#c82a30" stroke-width="0.9" stroke-linejoin="round" />
<text x="346.5" y="89.2" font-size="7.3" fill="#222" font-weight="normal" text-anchor="end" >0</text>
<text x="346.5" y="77" font-size="7.3" fill="#222" font-weight="normal" text-anchor="end" >−30</text>
<line x1="349.5" y1="86.6" x2="351.5" y2="86.6" stroke="#222" stroke-width="0.6" />
<line x1="349.5" y1="74.4" x2="351.5" y2="74.4" stroke="#222" stroke-width="0.6" />
<text x="480.5" y="78.4" font-size="5.9" fill="#a02030" font-weight="bold" text-anchor="middle" >40% strain</text>
<line x1="349.5" y1="90.6" x2="604.5" y2="90.6" stroke="#555" stroke-width="0.9" />
<polyline points="348.98,106.7 349.68,106.7 350.37,106.7 351.06,106.7 351.76,106.7 352.45,106.7 353.15,106.7 353.84,106.7 354.54,106.7 355.23,103.3 355.93,101.32 356.62,100.66 357.31,100.41 358.01,100.28 358.7,100.18 359.4,100.09 360.09,100.01 360.79,99.93 361.48,99.85 362.18,99.77 362.87,99.69 363.57,99.61 364.26,99.52 364.95,99.44 365.65,99.36 366.34,99.28 367.04,101.38 367.73,102.89 368.43,103.97 369.12,104.74 369.82,105.3 370.51,105.7 371.2,105.98 371.9,106.18 372.59,106.33 373.29,106.44 373.98,106.51 374.68,106.56 375.37,106.6 376.07,106.63 376.76,106.65 377.46,106.66 378.15,106.67 378.84,102.41 379.54,101.07 380.23,100.61 380.93,100.42 381.62,100.3 382.32,100.21 383.01,100.13 383.71,100.05 384.4,99.97 385.09,99.89 385.79,99.81 386.48,99.73 387.18,99.65 387.87,99.57 388.57,99.49 389.26,99.41 389.96,100.13 390.65,101.99 391.35,103.33 392.04,104.28 392.73,104.97 393.43,105.46 394.12,105.81 394.82,106.06 395.51,106.24 396.21,106.37 396.9,106.47 397.6,106.53 398.29,106.58 398.99,106.61 399.68,106.64 400.37,106.66 401.07,106.67 401.76,102.66 402.46,101.4 403.15,100.96 403.85,100.78 404.54,100.67 405.24,100.59 405.93,100.51 406.62,100.43 407.32,100.36 408.01,100.28 408.71,100.2 409.4,100.13 410.1,100.05 410.79,99.98 411.49,99.9 412.18,99.83 412.88,100.5 413.57,102.26 414.26,103.52 414.96,104.42 415.65,105.07 416.35,105.53 417.04,105.86 417.74,106.1 418.43,106.27 419.13,106.39 419.82,106.48 420.51,106.54 421.21,106.59 421.9,106.62 422.6,106.64 423.29,106.66 423.99,106.67 424.68,103.75 425.38,102.03 426.07,101.47 426.77,101.25 427.46,101.13 428.15,101.05 428.85,100.97 429.54,100.9 430.24,100.83 430.93,100.76 431.63,100.69 432.32,100.62 433.02,100.55 433.71,100.48 434.4,100.41 435.1,100.34 435.79,100.27 436.49,102.09 437.18,103.4 437.88,104.33 438.57,105.01 439.27,105.49 439.96,105.83 440.66,106.08 441.35,106.25 442.04,106.38 442.74,106.47 443.43,106.54 444.13,106.58 444.82,106.62 445.52,106.64 446.21,106.66 446.91,106.67 447.6,105.2 448.29,103.06 448.99,102.38 449.68,102.13 450.38,102.02 451.07,101.94 451.77,101.88 452.46,101.82 453.16,101.76 453.85,101.7 454.55,101.64 455.24,101.58 455.93,101.52 456.63,101.46 457.32,101.4 458.02,101.34 458.71,101.28 459.41,102.34 460.1,103.58 460.8,104.46 461.49,105.1 462.18,105.55 462.88,105.88 463.57,106.11 464.27,106.28 464.96,106.4 465.66,106.48 466.35,106.54 467.05,106.59 467.74,106.62 468.44,106.64 469.13,106.66 469.82,106.67 470.52,106.68 471.21,104.27 471.91,103.52 472.6,103.26 473.3,103.15 473.99,103.08 474.69,103.03 475.38,102.99 476.07,102.94 476.77,102.89 477.46,102.85 478.16,102.8 478.85,102.76 479.55,102.71 480.24,102.67 480.94,102.62 481.63,102.58 482.33,102.98 483.02,104.04 483.71,104.79 484.41,105.33 485.1,105.72 485.8,106 486.49,106.2 487.19,106.34 487.88,106.44 488.58,106.51 489.27,106.57 489.96,106.6 490.66,106.63 491.35,106.65 492.05,106.67 492.74,106.67 493.44,106.68 494.13,105.33 494.83,104.55 495.52,104.28 496.22,104.18 496.91,104.13 497.6,104.09 498.3,104.06 498.99,104.02 499.69,103.99 500.38,103.96 501.08,103.93 501.77,103.89 502.47,103.86 503.16,103.83 503.85,103.8 504.55,103.77 505.24,103.73 505.94,104.57 506.63,105.18 507.33,105.61 508.02,105.92 508.72,106.14 509.41,106.3 510.11,106.41 510.8,106.49 511.49,106.55 512.19,106.59 512.88,106.62 513.58,106.65 514.27,106.66 514.97,106.67 515.66,106.68 516.36,106.69 517.05,106.21 517.74,105.51 518.44,105.29 519.13,105.21 519.83,105.17 520.52,105.14 521.22,105.12 521.91,105.1 522.61,105.08 523.3,105.06 524,105.04 524.69,105.02 525.38,105 526.08,104.98 526.77,104.97 527.47,104.95 528.16,104.93 528.86,105.27 529.55,105.68 530.25,105.97 530.94,106.18 531.63,106.32 532.33,106.43 533.02,106.51 533.72,106.56 534.41,106.6 535.11,106.63 535.8,106.65 536.5,106.66 537.19,106.67 537.88,106.68 538.58,106.69 539.27,106.69 539.97,106.69 540.66,106.33 541.36,106.12 542.05,106.05 542.75,106.03 543.44,106.01 544.14,106 544.83,105.99 545.52,105.98 546.22,105.97 546.91,105.97 547.61,105.96 548.3,105.95 549,105.94 549.69,105.93 550.39,105.92 551.08,105.91 551.77,105.91 552.47,106.13 553.16,106.29 553.86,106.41 554.55,106.49 555.25,106.55 555.94,106.59 556.64,106.62 557.33,106.64 558.03,106.66 558.72,106.67 559.41,106.68 560.11,106.69 560.8,106.69 561.5,106.69 562.19,106.69 562.89,106.7 563.58,106.62 564.28,106.5 564.97,106.46 565.66,106.45 566.36,106.44 567.05,106.44 567.75,106.44 568.44,106.43 569.14,106.43 569.83,106.43 570.53,106.42 571.22,106.42 571.92,106.42 572.61,106.41 573.3,106.41 574,106.41 574.69,106.4 575.39,106.46 576.08,106.53 576.78,106.58 577.47,106.61 578.17,106.64 578.86,106.65 579.55,106.67 580.25,106.68 580.94,106.68 581.64,106.69 582.33,106.69 583.03,106.69 583.72,106.7 584.42,106.7 585.11,106.7 585.81,106.7 586.5,106.7 587.19,106.58 587.89,106.55 588.58,106.54 589.28,106.53 589.97,106.53 590.67,106.52 591.36,106.52 592.06,106.52 592.75,106.52 593.44,106.52 594.14,106.51 594.83,106.51 595.53,106.51 596.22,106.51 596.92,106.51 597.61,106.5 598.31,106.52 599,106.57 599.7,106.61 600.39,106.63 601.08,106.65 601.78,106.67 602.47,106.68 603.17,106.68 603.86,106.69 604.56,106.69" fill="none" stroke="#8a1a22" stroke-width="0.9" stroke-linejoin="round" />
<text x="346.5" y="109.3" font-size="7.3" fill="#222" font-weight="normal" text-anchor="end" >0</text>
<text x="346.5" y="97.1" font-size="7.3" fill="#222" font-weight="normal" text-anchor="end" >−30</text>
<line x1="349.5" y1="106.7" x2="351.5" y2="106.7" stroke="#222" stroke-width="0.6" />
<line x1="349.5" y1="94.5" x2="351.5" y2="94.5" stroke="#222" stroke-width="0.6" />
<text x="480.5" y="98.5" font-size="5.9" fill="#4a1a1a" font-weight="bold" text-anchor="middle" >10% strain</text>
<line x1="349.5" y1="110.2" x2="604.5" y2="110.2" stroke="#555" stroke-width="0.9" />
<polyline points="348.98,127.2 349.68,127.2 350.37,127.2 351.06,127.2 351.76,127.2 352.45,127.2 353.15,127.2 353.84,127.2 354.54,127.2 355.23,122.04 355.93,119.02 356.62,118.02 357.31,117.64 358.01,117.44 358.7,117.29 359.4,117.16 360.09,117.03 360.79,116.91 361.48,116.79 362.18,116.66 362.87,116.54 363.57,116.42 364.26,116.29 364.95,116.17 365.65,116.05 366.34,115.92 367.04,119.12 367.73,121.41 368.43,123.05 369.12,124.23 369.82,125.07 370.51,125.67 371.2,126.11 371.9,126.42 372.59,126.64 373.29,126.8 373.98,126.91 374.68,126.99 375.37,127.05 376.07,127.09 376.76,127.12 377.46,127.15 378.15,127.16 378.84,121.05 379.54,119.13 380.23,118.48 380.93,118.2 381.62,118.03 382.32,117.91 383.01,117.79 383.71,117.67 384.4,117.56 385.09,117.44 385.79,117.33 386.48,117.21 387.18,117.1 387.87,116.98 388.57,116.87 389.26,116.75 389.96,117.78 390.65,120.45 391.35,122.37 392.04,123.74 392.73,124.72 393.43,125.42 394.12,125.93 394.82,126.29 395.51,126.55 396.21,126.73 396.9,126.86 397.6,126.96 398.29,127.03 398.99,127.08 399.68,127.11 400.37,127.14 401.07,127.15 401.76,122 402.46,120.38 403.15,119.82 403.85,119.59 404.54,119.45 405.24,119.34 405.93,119.24 406.62,119.14 407.32,119.04 408.01,118.95 408.71,118.85 409.4,118.75 410.1,118.65 410.79,118.56 411.49,118.46 412.18,118.36 412.88,119.23 413.57,121.49 414.26,123.11 414.96,124.27 415.65,125.1 416.35,125.7 417.04,126.12 417.74,126.43 418.43,126.65 419.13,126.8 419.82,126.92 420.51,127 421.21,127.05 421.9,127.1 422.6,127.13 423.29,127.15 423.99,127.16 424.68,123.56 425.38,121.45 426.07,120.76 426.77,120.49 427.46,120.35 428.15,120.24 428.85,120.15 429.54,120.07 430.24,119.98 430.93,119.89 431.63,119.81 432.32,119.72 433.02,119.63 433.71,119.55 434.4,119.46 435.1,119.37 435.79,119.29 436.49,121.53 437.18,123.14 437.88,124.29 438.57,125.11 439.27,125.71 439.96,126.13 440.66,126.43 441.35,126.65 442.04,126.81 442.74,126.92 443.43,127 444.13,127.06 444.82,127.1 445.52,127.13 446.21,127.15 446.91,127.16 447.6,125.4 448.29,122.84 448.99,122.02 449.68,121.72 450.38,121.58 451.07,121.49 451.77,121.41 452.46,121.34 453.16,121.27 453.85,121.19 454.55,121.12 455.24,121.05 455.93,120.98 456.63,120.91 457.32,120.84 458.02,120.77 458.71,120.7 459.41,121.97 460.1,123.45 460.8,124.52 461.49,125.28 462.18,125.82 462.88,126.21 463.57,126.49 464.27,126.69 464.96,126.84 465.66,126.94 466.35,127.01 467.05,127.07 467.74,127.1 468.44,127.13 469.13,127.15 469.82,127.16 470.52,127.17 471.21,124.31 471.91,123.41 472.6,123.1 473.3,122.97 473.99,122.89 474.69,122.83 475.38,122.78 476.07,122.72 476.77,122.67 477.46,122.61 478.16,122.56 478.85,122.51 479.55,122.45 480.24,122.4 480.94,122.34 481.63,122.29 482.33,122.77 483.02,124.03 483.71,124.93 484.41,125.57 485.1,126.03 485.8,126.36 486.49,126.6 487.19,126.77 487.88,126.89 488.58,126.98 489.27,127.04 489.96,127.09 490.66,127.12 491.35,127.14 492.05,127.16 492.74,127.17 493.44,127.18 494.13,125.65 494.83,124.76 495.52,124.46 496.22,124.35 496.91,124.29 497.6,124.24 498.3,124.21 498.99,124.17 499.69,124.13 500.38,124.09 501.08,124.06 501.77,124.02 502.47,123.98 503.16,123.95 503.85,123.91 504.55,123.87 505.24,123.84 505.94,124.79 506.63,125.47 507.33,125.96 508.02,126.31 508.72,126.56 509.41,126.74 510.11,126.87 510.8,126.97 511.49,127.03 512.19,127.08 512.88,127.11 513.58,127.14 514.27,127.16 514.97,127.17 515.66,127.18 516.36,127.18 517.05,126.65 517.74,125.88 518.44,125.63 519.13,125.54 519.83,125.5 520.52,125.47 521.22,125.45 521.91,125.42 522.61,125.4 523.3,125.38 524,125.36 524.69,125.34 525.38,125.32 526.08,125.29 526.77,125.27 527.47,125.25 528.16,125.23 528.86,125.62 529.55,126.07 530.25,126.39 530.94,126.62 531.63,126.78 532.33,126.9 533.02,126.99 533.72,127.05 534.41,127.09 535.11,127.12 535.8,127.14 536.5,127.16 537.19,127.17 537.88,127.18 538.58,127.19 539.27,127.19 539.97,127.19 540.66,126.79 541.36,126.55 542.05,126.47 542.75,126.44 543.44,126.43 544.14,126.41 544.83,126.4 545.52,126.39 546.22,126.38 546.91,126.37 547.61,126.36 548.3,126.36 549,126.35 549.69,126.34 550.39,126.33 551.08,126.32 551.77,126.31 552.47,126.56 553.16,126.74 553.86,126.87 554.55,126.96 555.25,127.03 555.94,127.08 556.64,127.11 557.33,127.14 558.03,127.16 558.72,127.17 559.41,127.18 560.11,127.18 560.8,127.19 561.5,127.19 562.19,127.19 562.89,127.2 563.58,127.09 564.28,126.93 564.97,126.88 565.66,126.87 566.36,126.86 567.05,126.85 567.75,126.85 568.44,126.84 569.14,126.84 569.83,126.83 570.53,126.83 571.22,126.83 571.92,126.82 572.61,126.82 573.3,126.81 574,126.81 574.69,126.8 575.39,126.88 576.08,126.97 576.78,127.04 577.47,127.08 578.17,127.12 578.86,127.14 579.55,127.16 580.25,127.17 580.94,127.18 581.64,127.18 582.33,127.19 583.03,127.19 583.72,127.19 584.42,127.2 585.11,127.2 585.81,127.2 586.5,127.2 587.19,127.08 587.89,127.05 588.58,127.04 589.28,127.03 589.97,127.03 590.67,127.02 591.36,127.02 592.06,127.02 592.75,127.02 593.44,127.02 594.14,127.01 594.83,127.01 595.53,127.01 596.22,127.01 596.92,127.01 597.61,127 598.31,127.02 599,127.07 599.7,127.11 600.39,127.13 601.08,127.15 601.78,127.17 602.47,127.18 603.17,127.18 603.86,127.19 604.56,127.19" fill="none" stroke="#2a2a2a" stroke-width="0.9" stroke-linejoin="round" />
<text x="346.5" y="129.8" font-size="7.3" fill="#222" font-weight="normal" text-anchor="end" >0</text>
<text x="346.5" y="117.6" font-size="7.3" fill="#222" font-weight="normal" text-anchor="end" >−30</text>
<line x1="349.5" y1="127.2" x2="351.5" y2="127.2" stroke="#222" stroke-width="0.6" />
<line x1="349.5" y1="115" x2="351.5" y2="115" stroke="#222" stroke-width="0.6" />
<text x="480.5" y="118.2" font-size="5.9" fill="#2a2a2a" font-weight="bold" text-anchor="middle" >No strain</text>
<line x1="349.5" y1="29.5" x2="604.5" y2="29.5" stroke="#e23a3a" stroke-width="0.9" />
<line x1="349.5" y1="29.5" x2="349.5" y2="131.5" stroke="#222" stroke-width="0.9" />
<line x1="349.5" y1="131.5" x2="604.5" y2="131.5" stroke="#222" stroke-width="0.9" />
<text x="355" y="140.3" font-size="7.6" fill="#222" font-weight="normal" text-anchor="middle" >0</text>
<line x1="355" y1="131.5" x2="355" y2="129.7" stroke="#222" stroke-width="0.6" />
<text x="401.3" y="140.3" font-size="7.6" fill="#222" font-weight="normal" text-anchor="middle" >20</text>
<line x1="401.3" y1="131.5" x2="401.3" y2="129.7" stroke="#222" stroke-width="0.6" />
<text x="447.6" y="140.3" font-size="7.6" fill="#222" font-weight="normal" text-anchor="middle" >40</text>
<line x1="447.6" y1="131.5" x2="447.6" y2="129.7" stroke="#222" stroke-width="0.6" />
<text x="493.9" y="140.3" font-size="7.6" fill="#222" font-weight="normal" text-anchor="middle" >60</text>
<line x1="493.9" y1="131.5" x2="493.9" y2="129.7" stroke="#222" stroke-width="0.6" />
<text x="540.2" y="140.3" font-size="7.6" fill="#222" font-weight="normal" text-anchor="middle" >80</text>
<line x1="540.2" y1="131.5" x2="540.2" y2="129.7" stroke="#222" stroke-width="0.6" />
<text x="586.5" y="140.3" font-size="7.6" fill="#222" font-weight="normal" text-anchor="middle" >100</text>
<line x1="586.5" y1="131.5" x2="586.5" y2="129.7" stroke="#222" stroke-width="0.6" />
<text x="446.3" y="149.6" font-size="7.5" fill="#222" font-weight="normal" text-anchor="start" >Time (minute)</text>
<text x="329.6" y="82" font-size="7.3" fill="#222" font-weight="normal" text-anchor="middle" transform="rotate(-90 329.6 82)">Response (%)</text>
<rect x="559" y="20.8" width="49" height="117.4" fill="none" stroke="#e23a3a" stroke-width="1.1" stroke-dasharray="3.6 2.4"/>
<rect x="627.8" y="16.5" width="54.2" height="133.5" fill="none" stroke="#e23a3a" stroke-width="1.1" stroke-dasharray="3.6 2.4"/>
<line x1="608" y1="20.8" x2="627.8" y2="16.5" stroke="#e23a3a" stroke-width="1.1" stroke-dasharray="3.6 2.4"/>
<line x1="608" y1="138.2" x2="627.8" y2="150" stroke="#e23a3a" stroke-width="1.1" stroke-dasharray="3.6 2.4"/>
<text x="656.5" y="23.8" font-size="5.3" fill="#e23a3a" font-weight="normal" text-anchor="middle" >25 ppm 5 ppm</text>
<rect x="643.09" y="26.5" width="8.35" height="112.9" fill="#d1d3d4" stroke="none" stroke-width="1" />
<rect x="660.49" y="26.5" width="8.35" height="112.9" fill="#d1d3d4" stroke="none" stroke-width="1" />
<polyline points="639.09,45 639.27,45 639.44,45 639.61,45 639.79,45 639.96,45 640.14,45 640.31,45 640.48,45 640.66,45 640.83,45 641.01,45 641.18,45 641.35,45 641.53,45 641.7,45 641.88,45 642.05,45 642.22,45 642.4,45 642.57,45 642.75,45 642.92,45 643.09,45 643.27,44.98 643.44,44.94 643.62,44.9 643.79,44.86 643.96,44.82 644.14,44.77 644.31,44.71 644.49,44.66 644.66,44.6 644.83,44.54 645.01,44.48 645.18,44.42 645.36,44.36 645.53,44.29 645.7,44.23 645.88,44.16 646.05,44.09 646.23,44.02 646.4,43.95 646.57,43.88 646.75,43.81 646.92,43.73 647.1,43.66 647.27,43.58 647.44,43.5 647.62,43.42 647.79,43.34 647.97,43.26 648.14,43.18 648.31,43.1 648.49,43.02 648.66,42.93 648.84,42.85 649.01,42.76 649.18,42.68 649.36,42.59 649.53,42.5 649.71,42.42 649.88,42.33 650.05,42.24 650.23,42.15 650.4,42.06 650.58,41.97 650.75,41.87 650.92,41.78 651.1,41.69 651.27,41.59 651.45,41.5 651.62,41.8 651.79,42.08 651.97,42.34 652.14,42.57 652.32,42.78 652.49,42.97 652.66,43.15 652.84,43.31 653.01,43.46 653.19,43.59 653.36,43.71 653.53,43.82 653.71,43.93 653.88,44.02 654.06,44.1 654.23,44.18 654.4,44.25 654.58,44.32 654.75,44.38 654.93,44.43 655.1,44.48 655.27,44.53 655.45,44.57 655.62,44.61 655.8,44.64 655.97,44.67 656.14,44.7 656.32,44.73 656.49,44.75 656.67,44.77 656.84,44.79 657.01,44.81 657.19,44.83 657.36,44.84 657.54,44.85 657.71,44.87 657.88,44.88 658.06,44.89 658.23,44.9 658.41,44.91 658.58,44.92 658.75,44.92 658.93,44.93 659.1,44.94 659.28,44.94 659.45,44.95 659.62,44.95 659.8,44.96 659.97,44.96 660.15,44.96 660.32,44.97 660.49,44.97 660.67,44.98 660.84,44.96 661.02,44.94 661.19,44.92 661.36,44.89 661.54,44.87 661.71,44.84 661.89,44.82 662.06,44.79 662.23,44.77 662.41,44.74 662.58,44.72 662.76,44.69 662.93,44.66 663.1,44.64 663.28,44.61 663.45,44.58 663.63,44.56 663.8,44.53 663.97,44.5 664.15,44.48 664.32,44.45 664.5,44.42 664.67,44.39 664.84,44.37 665.02,44.34 665.19,44.31 665.37,44.28 665.54,44.25 665.71,44.22 665.89,44.2 666.06,44.17 666.24,44.14 666.41,44.11 666.58,44.08 666.76,44.05 666.93,44.02 667.11,43.99 667.28,43.97 667.45,43.94 667.63,43.91 667.8,43.88 667.98,43.85 668.15,43.82 668.32,43.79 668.5,43.76 668.67,43.73 668.85,43.7 669.02,43.81 669.19,43.92 669.37,44.01 669.54,44.1 669.72,44.17 669.89,44.25 670.06,44.31 670.24,44.37 670.41,44.43 670.59,44.48 670.76,44.52 670.93,44.56 671.11,44.6 671.28,44.64 671.46,44.67 671.63,44.7 671.8,44.72 671.98,44.75 672.15,44.77 672.33,44.79 672.5,44.81 672.67,44.82 672.85,44.84 673.02,44.85 673.2,44.87 673.37,44.88 673.54,44.89 673.72,44.9 673.89,44.91 674.07,44.91 674.24,44.92 674.41,44.93 674.59,44.94 674.76,44.94 674.94,44.95 675.11,44.95 675.28,44.96 675.46,44.96 675.63,44.96 675.81,44.97 675.98,44.97 676.15,44.97 676.33,44.97 676.5,44.98" fill="none" stroke="#3060b8" stroke-width="0.9" stroke-linejoin="round" />
<text x="639" y="47.6" font-size="7.3" fill="#222" font-weight="normal" text-anchor="end" >0</text>
<text x="639" y="34" font-size="7.3" fill="#222" font-weight="normal" text-anchor="end" >−2</text>
<text x="649" y="33.5" font-size="4.6" fill="#3060b8" font-weight="bold" text-anchor="middle" >-0.68%</text>
<text x="670" y="39.5" font-size="4.6" fill="#3060b8" font-weight="bold" text-anchor="middle" >-0.26%</text>
<line x1="641.2" y1="49" x2="676.5" y2="49" stroke="#333" stroke-width="0.8" />
<polyline points="639.09,67.3 639.27,67.3 639.44,67.3 639.61,67.3 639.79,67.3 639.96,67.3 640.14,67.3 640.31,67.3 640.48,67.3 640.66,67.3 640.83,67.3 641.01,67.3 641.18,67.3 641.35,67.3 641.53,67.3 641.7,67.3 641.88,67.3 642.05,67.3 642.22,67.3 642.4,67.3 642.57,67.3 642.75,67.3 642.92,67.3 643.09,67.3 643.27,67.28 643.44,67.24 643.62,67.2 643.79,67.16 643.96,67.11 644.14,67.06 644.31,67.01 644.49,66.95 644.66,66.89 644.83,66.83 645.01,66.77 645.18,66.71 645.36,66.64 645.53,66.57 645.7,66.51 645.88,66.44 646.05,66.37 646.23,66.29 646.4,66.22 646.57,66.15 646.75,66.07 646.92,65.99 647.1,65.92 647.27,65.84 647.44,65.76 647.62,65.68 647.79,65.6 647.97,65.51 648.14,65.43 648.31,65.35 648.49,65.26 648.66,65.17 648.84,65.09 649.01,65 649.18,64.91 649.36,64.82 649.53,64.73 649.71,64.64 649.88,64.55 650.05,64.46 650.23,64.37 650.4,64.27 650.58,64.18 650.75,64.09 650.92,63.99 651.1,63.89 651.27,63.8 651.45,63.7 651.62,64.01 651.79,64.3 651.97,64.56 652.14,64.8 652.32,65.01 652.49,65.21 652.66,65.39 652.84,65.56 653.01,65.71 653.19,65.85 653.36,65.98 653.53,66.09 653.71,66.2 653.88,66.29 654.06,66.38 654.23,66.46 654.4,66.53 654.58,66.6 654.75,66.66 654.93,66.72 655.1,66.77 655.27,66.81 655.45,66.86 655.62,66.89 655.8,66.93 655.97,66.96 656.14,66.99 656.32,67.02 656.49,67.04 656.67,67.06 656.84,67.09 657.01,67.1 657.19,67.12 657.36,67.14 657.54,67.15 657.71,67.16 657.88,67.18 658.06,67.19 658.23,67.2 658.41,67.21 658.58,67.21 658.75,67.22 658.93,67.23 659.1,67.23 659.28,67.24 659.45,67.25 659.62,67.25 659.8,67.25 659.97,67.26 660.15,67.26 660.32,67.27 660.49,67.27 660.67,67.28 660.84,67.27 661.02,67.25 661.19,67.23 661.36,67.21 661.54,67.19 661.71,67.17 661.89,67.15 662.06,67.13 662.23,67.1 662.41,67.08 662.58,67.06 662.76,67.04 662.93,67.02 663.1,66.99 663.28,66.97 663.45,66.95 663.63,66.93 663.8,66.9 663.97,66.88 664.15,66.86 664.32,66.83 664.5,66.81 664.67,66.79 664.84,66.76 665.02,66.74 665.19,66.72 665.37,66.69 665.54,66.67 665.71,66.64 665.89,66.62 666.06,66.6 666.24,66.57 666.41,66.55 666.58,66.52 666.76,66.5 666.93,66.47 667.11,66.45 667.28,66.42 667.45,66.4 667.63,66.38 667.8,66.35 667.98,66.33 668.15,66.3 668.32,66.28 668.5,66.25 668.67,66.23 668.85,66.2 669.02,66.3 669.19,66.38 669.37,66.46 669.54,66.54 669.72,66.6 669.89,66.66 670.06,66.72 670.24,66.77 670.41,66.81 670.59,66.86 670.76,66.9 670.93,66.93 671.11,66.96 671.28,66.99 671.46,67.02 671.63,67.04 671.8,67.07 671.98,67.09 672.15,67.1 672.33,67.12 672.5,67.14 672.67,67.15 672.85,67.16 673.02,67.18 673.2,67.19 673.37,67.2 673.54,67.21 673.72,67.21 673.89,67.22 674.07,67.23 674.24,67.23 674.41,67.24 674.59,67.25 674.76,67.25 674.94,67.25 675.11,67.26 675.28,67.26 675.46,67.27 675.63,67.27 675.81,67.27 675.98,67.27 676.15,67.28 676.33,67.28 676.5,67.28" fill="none" stroke="#e03a3a" stroke-width="1.1" stroke-linejoin="round" />
<text x="639" y="69.9" font-size="7.3" fill="#222" font-weight="normal" text-anchor="end" >0</text>
<text x="639" y="56.3" font-size="7.3" fill="#222" font-weight="normal" text-anchor="end" >−2</text>
<text x="649" y="56" font-size="4.6" fill="#e03a3a" font-weight="bold" text-anchor="middle" >-0.78%</text>
<text x="670" y="63.8" font-size="4.6" fill="#e03a3a" font-weight="bold" text-anchor="middle" >-0.15%</text>
<line x1="641.2" y1="71.3" x2="676.5" y2="71.3" stroke="#333" stroke-width="0.8" />
<polyline points="639.09,90 639.27,90 639.44,90 639.61,90 639.79,90 639.96,90 640.14,90 640.31,90 640.48,90 640.66,90 640.83,90 641.01,90 641.18,90 641.35,90 641.53,90 641.7,90 641.88,90 642.05,90 642.22,90 642.4,90 642.57,90 642.75,90 642.92,90 643.09,90 643.27,89.98 643.44,89.94 643.62,89.9 643.79,89.85 643.96,89.8 644.14,89.75 644.31,89.69 644.49,89.63 644.66,89.57 644.83,89.51 645.01,89.44 645.18,89.37 645.36,89.3 645.53,89.23 645.7,89.16 645.88,89.09 646.05,89.01 646.23,88.94 646.4,88.86 646.57,88.78 646.75,88.7 646.92,88.62 647.1,88.54 647.27,88.46 647.44,88.37 647.62,88.29 647.79,88.2 647.97,88.11 648.14,88.03 648.31,87.94 648.49,87.85 648.66,87.76 648.84,87.67 649.01,87.57 649.18,87.48 649.36,87.39 649.53,87.29 649.71,87.2 649.88,87.1 650.05,87 650.23,86.9 650.4,86.81 650.58,86.71 650.75,86.61 650.92,86.51 651.1,86.4 651.27,86.3 651.45,86.2 651.62,86.53 651.79,86.83 651.97,87.11 652.14,87.36 652.32,87.59 652.49,87.8 652.66,87.99 652.84,88.16 653.01,88.32 653.19,88.47 653.36,88.6 653.53,88.72 653.71,88.83 653.88,88.94 654.06,89.03 654.23,89.11 654.4,89.19 654.58,89.26 654.75,89.32 654.93,89.38 655.1,89.44 655.27,89.49 655.45,89.53 655.62,89.57 655.8,89.61 655.97,89.64 656.14,89.67 656.32,89.7 656.49,89.73 656.67,89.75 656.84,89.77 657.01,89.79 657.19,89.81 657.36,89.83 657.54,89.84 657.71,89.86 657.88,89.87 658.06,89.88 658.23,89.89 658.41,89.9 658.58,89.91 658.75,89.92 658.93,89.92 659.1,89.93 659.28,89.94 659.45,89.94 659.62,89.95 659.8,89.95 659.97,89.96 660.15,89.96 660.32,89.96 660.49,89.97 660.67,89.98 660.84,89.96 661.02,89.94 661.19,89.92 661.36,89.89 661.54,89.87 661.71,89.84 661.89,89.82 662.06,89.79 662.23,89.77 662.41,89.74 662.58,89.72 662.76,89.69 662.93,89.66 663.1,89.64 663.28,89.61 663.45,89.58 663.63,89.56 663.8,89.53 663.97,89.5 664.15,89.48 664.32,89.45 664.5,89.42 664.67,89.39 664.84,89.37 665.02,89.34 665.19,89.31 665.37,89.28 665.54,89.25 665.71,89.22 665.89,89.2 666.06,89.17 666.24,89.14 666.41,89.11 666.58,89.08 666.76,89.05 666.93,89.02 667.11,88.99 667.28,88.97 667.45,88.94 667.63,88.91 667.8,88.88 667.98,88.85 668.15,88.82 668.32,88.79 668.5,88.76 668.67,88.73 668.85,88.7 669.02,88.81 669.19,88.92 669.37,89.01 669.54,89.1 669.72,89.17 669.89,89.25 670.06,89.31 670.24,89.37 670.41,89.43 670.59,89.48 670.76,89.52 670.93,89.56 671.11,89.6 671.28,89.64 671.46,89.67 671.63,89.7 671.8,89.72 671.98,89.75 672.15,89.77 672.33,89.79 672.5,89.81 672.67,89.82 672.85,89.84 673.02,89.85 673.2,89.87 673.37,89.88 673.54,89.89 673.72,89.9 673.89,89.91 674.07,89.91 674.24,89.92 674.41,89.93 674.59,89.94 674.76,89.94 674.94,89.95 675.11,89.95 675.28,89.96 675.46,89.96 675.63,89.96 675.81,89.97 675.98,89.97 676.15,89.97 676.33,89.97 676.5,89.98" fill="none" stroke="#b82030" stroke-width="1.1" stroke-linejoin="round" />
<text x="639" y="92.6" font-size="7.3" fill="#222" font-weight="normal" text-anchor="end" >0</text>
<text x="639" y="79" font-size="7.3" fill="#222" font-weight="normal" text-anchor="end" >−2</text>
<text x="649" y="78.3" font-size="4.6" fill="#b82030" font-weight="bold" text-anchor="middle" >-1.01%</text>
<text x="670" y="86.5" font-size="4.6" fill="#b82030" font-weight="bold" text-anchor="middle" >-0.29%</text>
<line x1="641.2" y1="94.3" x2="676.5" y2="94.3" stroke="#333" stroke-width="0.8" />
<polyline points="639.09,112 639.27,112 639.44,112 639.61,112 639.79,112 639.96,112 640.14,112 640.31,112 640.48,112 640.66,112 640.83,112 641.01,112 641.18,112 641.35,112 641.53,112 641.7,112 641.88,112 642.05,112 642.22,112 642.4,112 642.57,112 642.75,112 642.92,112 643.09,112 643.27,111.97 643.44,111.93 643.62,111.88 643.79,111.82 643.96,111.76 644.14,111.7 644.31,111.63 644.49,111.56 644.66,111.49 644.83,111.41 645.01,111.34 645.18,111.26 645.36,111.18 645.53,111.09 645.7,111.01 645.88,110.92 646.05,110.83 646.23,110.74 646.4,110.65 646.57,110.56 646.75,110.46 646.92,110.37 647.1,110.27 647.27,110.17 647.44,110.07 647.62,109.97 647.79,109.87 647.97,109.77 648.14,109.66 648.31,109.56 648.49,109.45 648.66,109.34 648.84,109.24 649.01,109.13 649.18,109.02 649.36,108.9 649.53,108.79 649.71,108.68 649.88,108.56 650.05,108.45 650.23,108.33 650.4,108.22 650.58,108.1 650.75,107.98 650.92,107.86 651.1,107.74 651.27,107.62 651.45,107.5 651.62,107.89 651.79,108.25 651.97,108.57 652.14,108.87 652.32,109.14 652.49,109.39 652.66,109.62 652.84,109.83 653.01,110.01 653.19,110.19 653.36,110.34 653.53,110.49 653.71,110.62 653.88,110.74 654.06,110.85 654.23,110.95 654.4,111.04 654.58,111.12 654.75,111.2 654.93,111.27 655.1,111.33 655.27,111.39 655.45,111.44 655.62,111.49 655.8,111.54 655.97,111.58 656.14,111.61 656.32,111.65 656.49,111.68 656.67,111.71 656.84,111.73 657.01,111.75 657.19,111.78 657.36,111.8 657.54,111.81 657.71,111.83 657.88,111.84 658.06,111.86 658.23,111.87 658.41,111.88 658.58,111.89 658.75,111.9 658.93,111.91 659.1,111.92 659.28,111.92 659.45,111.93 659.62,111.94 659.8,111.94 659.97,111.95 660.15,111.95 660.32,111.96 660.49,111.96 660.67,111.98 660.84,111.95 661.02,111.93 661.19,111.9 661.36,111.88 661.54,111.85 661.71,111.82 661.89,111.79 662.06,111.76 662.23,111.73 662.41,111.7 662.58,111.67 662.76,111.64 662.93,111.61 663.1,111.58 663.28,111.55 663.45,111.52 663.63,111.49 663.8,111.46 663.97,111.43 664.15,111.4 664.32,111.36 664.5,111.33 664.67,111.3 664.84,111.27 665.02,111.24 665.19,111.2 665.37,111.17 665.54,111.14 665.71,111.11 665.89,111.07 666.06,111.04 666.24,111.01 666.41,110.97 666.58,110.94 666.76,110.91 666.93,110.87 667.11,110.84 667.28,110.81 667.45,110.77 667.63,110.74 667.8,110.7 667.98,110.67 668.15,110.64 668.32,110.6 668.5,110.57 668.67,110.53 668.85,110.5 669.02,110.63 669.19,110.75 669.37,110.86 669.54,110.96 669.72,111.05 669.89,111.13 670.06,111.21 670.24,111.28 670.41,111.34 670.59,111.4 670.76,111.45 670.93,111.5 671.11,111.54 671.28,111.58 671.46,111.62 671.63,111.65 671.8,111.68 671.98,111.71 672.15,111.73 672.33,111.76 672.5,111.78 672.67,111.8 672.85,111.81 673.02,111.83 673.2,111.85 673.37,111.86 673.54,111.87 673.72,111.88 673.89,111.89 674.07,111.9 674.24,111.91 674.41,111.92 674.59,111.93 674.76,111.93 674.94,111.94 675.11,111.94 675.28,111.95 675.46,111.95 675.63,111.96 675.81,111.96 675.98,111.96 676.15,111.97 676.33,111.97 676.5,111.97" fill="none" stroke="#7a1a22" stroke-width="0.9" stroke-linejoin="round" />
<text x="639" y="114.6" font-size="7.3" fill="#222" font-weight="normal" text-anchor="end" >0</text>
<text x="639" y="101" font-size="7.3" fill="#222" font-weight="normal" text-anchor="end" >−2</text>
<text x="649" y="101.3" font-size="4.6" fill="#7a1a22" font-weight="bold" text-anchor="middle" >-1.19%</text>
<text x="670" y="108.5" font-size="4.6" fill="#7a1a22" font-weight="bold" text-anchor="middle" >-0.33%</text>
<line x1="641.2" y1="116" x2="676.5" y2="116" stroke="#333" stroke-width="0.8" />
<polyline points="639.09,134.5 639.27,134.5 639.44,134.5 639.61,134.5 639.79,134.5 639.96,134.5 640.14,134.5 640.31,134.5 640.48,134.5 640.66,134.5 640.83,134.5 641.01,134.5 641.18,134.5 641.35,134.5 641.53,134.5 641.7,134.5 641.88,134.5 642.05,134.5 642.22,134.5 642.4,134.5 642.57,134.5 642.75,134.5 642.92,134.5 643.09,134.5 643.27,134.45 643.44,134.37 643.62,134.28 643.79,134.18 643.96,134.08 644.14,133.96 644.31,133.85 644.49,133.72 644.66,133.59 644.83,133.46 645.01,133.32 645.18,133.18 645.36,133.04 645.53,132.89 645.7,132.74 645.88,132.58 646.05,132.42 646.23,132.26 646.4,132.1 646.57,131.94 646.75,131.77 646.92,131.6 647.1,131.43 647.27,131.25 647.44,131.07 647.62,130.89 647.79,130.71 647.97,130.53 648.14,130.34 648.31,130.16 648.49,129.97 648.66,129.78 648.84,129.58 649.01,129.39 649.18,129.19 649.36,129 649.53,128.8 649.71,128.6 649.88,128.39 650.05,128.19 650.23,127.98 650.4,127.77 650.58,127.57 650.75,127.36 650.92,127.14 651.1,126.93 651.27,126.72 651.45,126.5 651.62,127.2 651.79,127.83 651.97,128.41 652.14,128.94 652.32,129.42 652.49,129.86 652.66,130.27 652.84,130.63 653.01,130.97 653.19,131.28 653.36,131.56 653.53,131.81 653.71,132.05 653.88,132.26 654.06,132.45 654.23,132.63 654.4,132.79 654.58,132.94 654.75,133.08 654.93,133.2 655.1,133.31 655.27,133.42 655.45,133.51 655.62,133.6 655.8,133.68 655.97,133.75 656.14,133.81 656.32,133.87 656.49,133.93 656.67,133.98 656.84,134.02 657.01,134.06 657.19,134.1 657.36,134.14 657.54,134.17 657.71,134.2 657.88,134.22 658.06,134.25 658.23,134.27 658.41,134.29 658.58,134.31 658.75,134.32 658.93,134.34 659.1,134.35 659.28,134.37 659.45,134.38 659.62,134.39 659.8,134.4 659.97,134.41 660.15,134.42 660.32,134.42 660.49,134.43 660.67,134.47 660.84,134.43 661.02,134.39 661.19,134.34 661.36,134.3 661.54,134.26 661.71,134.21 661.89,134.17 662.06,134.12 662.23,134.07 662.41,134.03 662.58,133.98 662.76,133.93 662.93,133.88 663.1,133.83 663.28,133.78 663.45,133.73 663.63,133.68 663.8,133.63 663.97,133.58 664.15,133.53 664.32,133.48 664.5,133.43 664.67,133.38 664.84,133.33 665.02,133.28 665.19,133.23 665.37,133.17 665.54,133.12 665.71,133.07 665.89,133.02 666.06,132.96 666.24,132.91 666.41,132.86 666.58,132.8 666.76,132.75 666.93,132.7 667.11,132.64 667.28,132.59 667.45,132.54 667.63,132.48 667.8,132.43 667.98,132.37 668.15,132.32 668.32,132.26 668.5,132.21 668.67,132.15 668.85,132.1 669.02,132.31 669.19,132.5 669.37,132.67 669.54,132.83 669.72,132.98 669.89,133.11 670.06,133.23 670.24,133.34 670.41,133.44 670.59,133.53 670.76,133.62 670.93,133.69 671.11,133.76 671.28,133.83 671.46,133.89 671.63,133.94 671.8,133.99 671.98,134.03 672.15,134.07 672.33,134.11 672.5,134.14 672.67,134.18 672.85,134.2 673.02,134.23 673.2,134.25 673.37,134.27 673.54,134.29 673.72,134.31 673.89,134.33 674.07,134.34 674.24,134.36 674.41,134.37 674.59,134.38 674.76,134.39 674.94,134.4 675.11,134.41 675.28,134.42 675.46,134.42 675.63,134.43 675.81,134.44 675.98,134.44 676.15,134.45 676.33,134.45 676.5,134.46" fill="none" stroke="#222" stroke-width="0.9" stroke-linejoin="round" />
<text x="639" y="137.1" font-size="7.3" fill="#222" font-weight="normal" text-anchor="end" >0</text>
<text x="639" y="123.5" font-size="7.3" fill="#222" font-weight="normal" text-anchor="end" >−2</text>
<text x="649" y="123" font-size="4.6" fill="#222" font-weight="bold" text-anchor="middle" >-1.48%</text>
<text x="670" y="131" font-size="4.6" fill="#222" font-weight="bold" text-anchor="middle" >-0.75%</text>
<rect x="641.2" y="26.5" width="35.3" height="112.9" fill="none" stroke="#222" stroke-width="0.9" />
<text x="646.4" y="147.1" font-size="7.6" fill="#222" font-weight="normal" text-anchor="middle" >90</text>
<text x="663.8" y="147.1" font-size="7.6" fill="#222" font-weight="normal" text-anchor="middle" >100</text>
<text x="0.6" y="182.6" font-size="13.5" fill="#231815" font-weight="bold" text-anchor="start" >d</text>
<path d="M40,190 C55,182 80,179 100,179 C110,180 116,184 118,190 L104,192 C90,186 62,188 46,200 Z" fill="#f5f5f5" stroke="none" stroke-width="1" />
<path d="M93,183 C104,180 113,182 117,186 C120,190 121,195 121,201 L121,285 L109,291 L109,200 C109,192 104,186 93,183 Z" fill="url(#gsilR)" stroke="none" stroke-width="1" />
<path d="M22.3,299 L22.3,214 C22.5,208 26,204.3 31,203.6 L38,202.4 C48,200.5 56,204 61,210 C65,216 67,226 67.5,240 L68,313 L52,313 L50.5,289 L28,299.5 Z" fill="url(#gsilL)" stroke="none" stroke-width="1" />
<path d="M22.3,299 L22.3,214 C22.5,208 26,204.3 31,203.6 L34,203.3 L34,212 C30,213 28,216 27.6,222 L27.6,299.3 Z" fill="#e2e2e2" stroke="none" stroke-width="1" />
<path d="M27.6,299 L27.6,222 C27.9,215.5 30.5,211.2 34,210.7 C38.5,210.2 41.5,212 44.6,215 C47,218.5 48.6,223 49.7,230.3 L50.2,288.6 Z" fill="url(#gint)" stroke="none" stroke-width="1" />
<path d="M34,210.7 C38.5,210.2 41.5,212 44.6,215 C47,218.5 48.6,223 49.7,230.3 L50.2,288.6" fill="none" stroke="#f4f4f4" stroke-width="1.3" />
<path d="M37.3,202.4 C37,199.5 42,196 48.3,193.7 L57.4,191.4 L85.5,183.3 L95,183.5 C104,186 109.5,192 109.5,200 L109.5,288 L102.5,293 L102.5,200 C100,190 92,186 85.5,184.6 L57.4,191.9 C62,194 70,199 73,204.7 C76,209 78,218 78.5,225.7 L79.2,310 L72,312.5 L66.5,312 L67.5,240 C67,226 65,216 61,210 C56,204 48,200.5 37.3,202.4 Z" fill="#e2787a" stroke="none" stroke-width="1" />
<path d="M57.4,191.9 C62,194 70,199 73,204.7" fill="none" stroke="#c65a5e" stroke-width="0.5" />
<path d="M57.4,191.9 L85.5,184.6 C92,186 100,190 102.5,200 L102.5,298 L91,305 L79.2,310 L78.5,225.7 C78,218 76,209 73,204.7 C70,199 62,194 57.4,191.9 Z" fill="#1b8ed0" stroke="none" stroke-width="1" />
<path d="M64.8,193.7 L85.8,187.3 L86.7,190 L65.2,197 Z" fill="#e6e83a" stroke="none" stroke-width="1" />
<path d="M79,273.2 L87.6,266.8 L109,266.8 L100.4,273.2 Z" fill="#8ae07a" stroke="none" stroke-width="1" />
<path d="M100.4,273.2 L109,266.8 L109,288 L100.4,294.6 Z" fill="#4cb048" stroke="none" stroke-width="1" />
<rect x="79" y="273.2" width="21.4" height="21.4" fill="#66cc55" stroke="none" stroke-width="1" />
<line x1="101" y1="279.6" x2="124.5" y2="269.2" stroke="#111" stroke-width="0.9" marker-end="url(#ahK)"/>
<text x="121.5" y="265" font-size="6.6" fill="#222" font-weight="normal" text-anchor="middle" >Ag</text>
<text x="134.7" y="182.3" font-size="13.5" fill="#231815" font-weight="bold" text-anchor="start" >e</text>
<text x="216.5" y="175.5" font-size="6.8" fill="#222" font-weight="normal" text-anchor="start" >H<tspan font-size="4.5" dy="1.5">2</tspan><tspan dy="-1.5"> gas</tspan></text>
<line x1="216" y1="176.5" x2="209" y2="186" stroke="#333" stroke-width="0.5" />
<circle cx="154.6" cy="189.2" r="2.6" fill="#6a2c9c" stroke="none" stroke-width="1" />
<circle cx="158" cy="189.2" r="2.6" fill="#6a2c9c" stroke="none" stroke-width="1" />
<circle cx="177.11" cy="190.82" r="2.6" fill="#6a2c9c" stroke="none" stroke-width="1" />
<circle cx="180.09" cy="189.18" r="2.6" fill="#6a2c9c" stroke="none" stroke-width="1" />
<circle cx="194.21" cy="187.78" r="2.6" fill="#6a2c9c" stroke="none" stroke-width="1" />
<circle cx="197.19" cy="189.42" r="2.6" fill="#6a2c9c" stroke="none" stroke-width="1" />
<circle cx="209.93" cy="187.94" r="2.6" fill="#6a2c9c" stroke="none" stroke-width="1" />
<circle cx="213.07" cy="189.26" r="2.6" fill="#6a2c9c" stroke="none" stroke-width="1" />
<circle cx="185.6" cy="198.6" r="2.6" fill="#6a2c9c" stroke="none" stroke-width="1" />
<circle cx="189" cy="198.6" r="2.6" fill="#6a2c9c" stroke="none" stroke-width="1" />
<path d="M162.8,202.3 L171,202.3 L171,200 L177.3,204.4 L171,208.8 L171,206.5 L162.8,206.5 Z" fill="#e0262a" stroke="none" stroke-width="1" />
<path d="M212.8,202.3 L204.6,202.3 L204.6,200 L197.8,204.4 L204.6,208.8 L204.6,206.5 L212.8,206.5 Z" fill="#e0262a" stroke="none" stroke-width="1" />
<rect x="139.2" y="209.7" width="96" height="4.7" fill="#27b2e6" stroke="none" stroke-width="1" />
<rect x="139.2" y="214.4" width="96" height="3.9" fill="#e4e246" stroke="none" stroke-width="1" />
<rect x="139.2" y="218.3" width="96" height="4" fill="#f0a6b6" stroke="none" stroke-width="1" />
<rect x="139.2" y="222.3" width="96" height="11.5" fill="#a9a9a9" stroke="none" stroke-width="1" />
<path d="M184.5,214.4 C184.5,211 186,209.9 187.5,209.9 C189,209.9 190.5,211 190.5,214.4 Z" fill="#fff" stroke="none" stroke-width="1" />
<rect x="177.3" y="209.7" width="20.5" height="10.5" fill="none" stroke="#22a050" stroke-width="0.8" stroke-dasharray="2 1.2"/>
<line x1="197.8" y1="215" x2="250.4" y2="219.6" stroke="#111" stroke-width="0.6" marker-end="url(#ahK)"/>
<rect x="250.9" y="197.8" width="45.9" height="44.7" fill="none" stroke="#22a050" stroke-width="1.1" stroke-dasharray="2.4 1.4"/>
<text x="273.5" y="193.2" font-size="5.5" fill="#222" font-weight="normal" text-anchor="middle" >Pd → PdH<tspan font-size="3.6" dy="1">x</tspan><tspan dy="-1"> [(α + β) → β]</tspan></text>
<circle cx="259.2" cy="209.2" r="2.3" fill="#6a2c9c" stroke="none" stroke-width="1" />
<circle cx="264.7" cy="209" r="2.3" fill="#6a2c9c" stroke="none" stroke-width="1" />
<circle cx="276.1" cy="212" r="2.3" fill="#6a2c9c" stroke="none" stroke-width="1" />
<circle cx="281.1" cy="209.9" r="2.3" fill="#6a2c9c" stroke="none" stroke-width="1" />
<circle cx="287.1" cy="204.2" r="2.3" fill="#6a2c9c" stroke="none" stroke-width="1" />
<circle cx="290.7" cy="209" r="2.3" fill="#6a2c9c" stroke="none" stroke-width="1" />
<circle cx="260.1" cy="217.5" r="2.1" fill="#d2cc2c" stroke="none" stroke-width="1" />
<circle cx="281.1" cy="215.9" r="2.1" fill="#d2cc2c" stroke="none" stroke-width="1" />
<circle cx="291.2" cy="218.4" r="2.1" fill="#d2cc2c" stroke="none" stroke-width="1" />
<circle cx="269.7" cy="220.9" r="2.1" fill="#d2cc2c" stroke="none" stroke-width="1" />
<circle cx="282.1" cy="222.3" r="2.1" fill="#d2cc2c" stroke="none" stroke-width="1" />
<circle cx="257.8" cy="227.3" r="2.1" fill="#d2cc2c" stroke="none" stroke-width="1" />
<circle cx="267.4" cy="227.1" r="2.1" fill="#d2cc2c" stroke="none" stroke-width="1" />
<circle cx="277" cy="226.6" r="2.1" fill="#d2cc2c" stroke="none" stroke-width="1" />
<circle cx="262.8" cy="233.5" r="2.1" fill="#d2cc2c" stroke="none" stroke-width="1" />
<circle cx="274.1" cy="234.9" r="2.1" fill="#d2cc2c" stroke="none" stroke-width="1" />
<circle cx="289.4" cy="233.7" r="2.1" fill="#d2cc2c" stroke="none" stroke-width="1" />
<ellipse cx="286.6" cy="216.8" rx="1.6" ry="1.2" fill="#6a2c9c"/>
<ellipse cx="275.6" cy="221.4" rx="1.6" ry="1.2" fill="#6a2c9c"/>
<ellipse cx="262.8" cy="223.9" rx="1.6" ry="1.2" fill="#6a2c9c"/>
<ellipse cx="288.5" cy="226" rx="1.6" ry="1.2" fill="#6a2c9c"/>
<ellipse cx="256.9" cy="235.1" rx="1.6" ry="1.2" fill="#6a2c9c"/>
<ellipse cx="268.8" cy="233.7" rx="1.6" ry="1.2" fill="#6a2c9c"/>
<ellipse cx="281.6" cy="232.4" rx="1.6" ry="1.2" fill="#6a2c9c"/>
<text x="188.3" y="245.1" font-size="7.3" fill="#2aa2d6" font-weight="normal" text-anchor="middle" >On-state</text>
<text x="275.6" y="264.6" font-size="5.6" fill="#222" font-weight="normal" text-anchor="middle" >PdH<tspan font-size="3.6" dy="1">x</tspan><tspan dy="-1"> → Pd [β → α]</tspan></text>
<rect x="139.2" y="283.9" width="96" height="4.7" fill="#27b2e6" stroke="none" stroke-width="1" />
<rect x="139.2" y="288.6" width="96" height="3.9" fill="#e4e246" stroke="none" stroke-width="1" />
<rect x="139.2" y="292.5" width="96" height="4" fill="#f0a6b6" stroke="none" stroke-width="1" />
<rect x="139.2" y="296.5" width="96" height="11.5" fill="#a9a9a9" stroke="none" stroke-width="1" />
<path d="M183.5,284 L183.5,289 C183.5,293 186,294.5 189,294.5 C192,294.5 194.5,293 194.5,289 L194.5,284 Z" fill="#fff" stroke="none" stroke-width="1" />
<path d="M183,284 C183,281.5 185,281 189,281 C193,281 195,281.5 195,284 Z" fill="#fff" stroke="none" stroke-width="1" />
<rect x="178.6" y="281.8" width="21" height="10" fill="none" stroke="#1e3a78" stroke-width="0.8" stroke-dasharray="2 1.2"/>
<line x1="199.6" y1="286.5" x2="252.7" y2="289.7" stroke="#111" stroke-width="0.6" />
<rect x="252.7" y="269.2" width="47.6" height="41" fill="none" stroke="#1e3a78" stroke-width="1.1" stroke-dasharray="2.4 1.4"/>
<text x="275.5" y="277.2" font-size="5.6" fill="#222" font-weight="normal" text-anchor="middle" >Nanogap</text>
<line x1="277" y1="279.5" x2="274.5" y2="286" stroke="#333" stroke-width="0.5" />
<circle cx="258.8" cy="287.6" r="2" fill="#d4cc2a" stroke="none" stroke-width="1" />
<circle cx="282.3" cy="287.6" r="2" fill="#d4cc2a" stroke="none" stroke-width="1" />
<circle cx="258.8" cy="292" r="2" fill="#d4cc2a" stroke="none" stroke-width="1" />
<circle cx="282.3" cy="292" r="2" fill="#d4cc2a" stroke="none" stroke-width="1" />
<circle cx="258.8" cy="296.4" r="2" fill="#d4cc2a" stroke="none" stroke-width="1" />
<circle cx="282.3" cy="296.4" r="2" fill="#d4cc2a" stroke="none" stroke-width="1" />
<circle cx="258.8" cy="300.8" r="2" fill="#d4cc2a" stroke="none" stroke-width="1" />
<circle cx="282.3" cy="300.8" r="2" fill="#d4cc2a" stroke="none" stroke-width="1" />
<circle cx="262.9" cy="287.6" r="2" fill="#d4cc2a" stroke="none" stroke-width="1" />
<circle cx="286.5" cy="287.6" r="2" fill="#d4cc2a" stroke="none" stroke-width="1" />
<circle cx="262.9" cy="292" r="2" fill="#d4cc2a" stroke="none" stroke-width="1" />
<circle cx="286.5" cy="292" r="2" fill="#d4cc2a" stroke="none" stroke-width="1" />
<circle cx="262.9" cy="296.4" r="2" fill="#d4cc2a" stroke="none" stroke-width="1" />
<circle cx="286.5" cy="296.4" r="2" fill="#d4cc2a" stroke="none" stroke-width="1" />
<circle cx="262.9" cy="300.8" r="2" fill="#d4cc2a" stroke="none" stroke-width="1" />
<circle cx="286.5" cy="300.8" r="2" fill="#d4cc2a" stroke="none" stroke-width="1" />
<circle cx="267" cy="287.6" r="2" fill="#d4cc2a" stroke="none" stroke-width="1" />
<circle cx="290.7" cy="287.6" r="2" fill="#d4cc2a" stroke="none" stroke-width="1" />
<circle cx="267" cy="292" r="2" fill="#d4cc2a" stroke="none" stroke-width="1" />
<circle cx="290.7" cy="292" r="2" fill="#d4cc2a" stroke="none" stroke-width="1" />
<circle cx="267" cy="296.4" r="2" fill="#d4cc2a" stroke="none" stroke-width="1" />
<circle cx="290.7" cy="296.4" r="2" fill="#d4cc2a" stroke="none" stroke-width="1" />
<circle cx="267" cy="300.8" r="2" fill="#d4cc2a" stroke="none" stroke-width="1" />
<circle cx="290.7" cy="300.8" r="2" fill="#d4cc2a" stroke="none" stroke-width="1" />
<circle cx="271.1" cy="287.6" r="2" fill="#d4cc2a" stroke="none" stroke-width="1" />
<circle cx="294.9" cy="287.6" r="2" fill="#d4cc2a" stroke="none" stroke-width="1" />
<circle cx="271.1" cy="292" r="2" fill="#d4cc2a" stroke="none" stroke-width="1" />
<circle cx="294.9" cy="292" r="2" fill="#d4cc2a" stroke="none" stroke-width="1" />
<circle cx="271.1" cy="296.4" r="2" fill="#d4cc2a" stroke="none" stroke-width="1" />
<circle cx="294.9" cy="296.4" r="2" fill="#d4cc2a" stroke="none" stroke-width="1" />
<circle cx="271.1" cy="300.8" r="2" fill="#d4cc2a" stroke="none" stroke-width="1" />
<circle cx="294.9" cy="300.8" r="2" fill="#d4cc2a" stroke="none" stroke-width="1" />
<text x="191.5" y="321" font-size="7.1" fill="#e8383c" font-weight="normal" text-anchor="middle" >Off-state</text>
<text x="316.2" y="182.6" font-size="13.5" fill="#231815" font-weight="bold" text-anchor="start" >f</text>
<polyline points="339.5,301.6 345.9,301.6 346.3,301.35 346.5,299.81 346.7,297.93 346.95,297.21 347.3,296.91 347.8,296.75 348.6,296.55 349.1,296.5 349.5,297.01 349.8,298.54 350.1,299.92 350.5,300.84 351,301.29 351.7,301.55 352.9,301.6 353.3,301.22 353.5,298.91 353.7,296.06 353.95,294.98 354.3,294.52 354.8,294.28 355.6,293.98 356.1,293.9 356.5,294.67 356.8,296.98 357.1,299.06 357.5,300.44 358,301.14 358.7,301.52 359.8,301.6 360.2,300.39 360.4,293.13 360.6,284.18 360.85,280.79 361.2,279.34 361.7,278.61 363.9,277.64 364.4,277.4 364.8,279.82 365.1,287.08 365.4,293.61 365.8,297.97 366.3,300.15 367,301.36 369.2,301.6 369.6,299.6 369.8,287.56 370,272.73 370.25,267.11 370.6,264.71 371.1,263.5 373.3,261.9 373.8,261.5 374.2,265.51 374.5,277.54 374.8,288.37 375.2,295.59 375.7,299.19 376.4,301.2 379.9,301.6 380.3,298.28 380.5,278.36 380.7,253.79 380.95,244.5 381.3,240.51 381.8,238.52 384,235.86 384.5,235.2 384.9,241.84 385.2,261.76 385.5,279.69 385.9,291.64 386.4,297.62 387.1,300.94 391.1,301.6 391.5,296.84 391.7,268.25 391.9,232.98 392.15,219.64 392.5,213.92 393,211.06 395.2,207.25 395.7,206.3 396.1,215.83 396.4,244.42 396.7,270.15 397.1,287.31 397.6,295.88 398.3,300.65 403.1,301.6 403.5,295.98 403.7,262.26 403.9,220.67 404.15,204.94 404.5,198.19 405,194.82 407.2,190.32 407.7,189.2 408.1,200.44 408.4,234.16 408.7,264.51 409.1,284.74 409.6,294.86 410.3,300.48 416.1,301.6 416.5,296.86 416.7,268.38 416.9,233.27 417.15,219.99 417.5,214.29 418,211.44 420.2,207.65 420.7,206.7 421.1,216.19 421.4,244.66 421.7,270.28 422.1,287.37 422.6,295.91 423.3,300.65 428.3,301.6 428.7,298.28 428.9,278.36 429.1,253.79 429.35,244.5 429.7,240.51 430.2,238.52 432.4,235.86 432.9,235.2 433.3,241.84 433.6,261.76 433.9,279.69 434.3,291.64 434.8,297.62 435.5,300.94 441.5,301.6 441.9,299.6 442.1,287.56 442.3,272.73 442.55,267.11 442.9,264.71 443.4,263.5 445.6,261.9 446.1,261.5 446.5,265.51 446.8,277.54 447.1,288.37 447.5,295.59 448,299.19 448.7,301.2 453.5,301.6 453.9,300.58 454.1,294.46 454.3,286.91 454.55,284.06 454.9,282.83 455.4,282.22 457.6,281.4 458.1,281.2 458.5,283.24 458.8,289.36 459.1,294.87 459.5,298.54 460,300.38 460.7,301.4 465.3,301.6 465.7,301.22 465.9,298.91 466.1,296.06 466.35,294.98 466.7,294.52 467.2,294.28 468,293.98 468.5,293.9 468.9,294.67 469.2,296.98 469.5,299.06 469.9,300.44 470.4,301.14 471.1,301.52 475.1,301.6 475.5,301.35 475.7,299.81 475.9,297.93 476.15,297.21 476.5,296.91 477,296.75 477.8,296.55 478.3,296.5 478.7,297.01 479,298.54 479.3,299.92 479.7,300.84 480.2,301.29 480.9,301.55 484,301.6" fill="none" stroke="#25985a" stroke-width="1.1" stroke-linejoin="round" />
<rect x="339.5" y="178.5" width="145" height="132" fill="none" stroke="#333" stroke-width="0.8" />
<line x1="339.5" y1="301.6" x2="341.5" y2="301.6" stroke="#333" stroke-width="0.6" />
<line x1="484.5" y1="301.6" x2="482.5" y2="301.6" stroke="#333" stroke-width="0.6" />
<text x="336.8" y="304.1" font-size="7.2" fill="#222" font-weight="normal" text-anchor="end" >0.0</text>
<line x1="339.5" y1="293.34" x2="340.7" y2="293.34" stroke="#333" stroke-width="0.6" />
<line x1="484.5" y1="293.34" x2="483.3" y2="293.34" stroke="#333" stroke-width="0.6" />
<line x1="339.5" y1="285.08" x2="341.5" y2="285.08" stroke="#333" stroke-width="0.6" />
<line x1="484.5" y1="285.08" x2="482.5" y2="285.08" stroke="#333" stroke-width="0.6" />
<text x="336.8" y="287.58" font-size="7.2" fill="#222" font-weight="normal" text-anchor="end" >0.2</text>
<line x1="339.5" y1="276.82" x2="340.7" y2="276.82" stroke="#333" stroke-width="0.6" />
<line x1="484.5" y1="276.82" x2="483.3" y2="276.82" stroke="#333" stroke-width="0.6" />
<line x1="339.5" y1="268.56" x2="341.5" y2="268.56" stroke="#333" stroke-width="0.6" />
<line x1="484.5" y1="268.56" x2="482.5" y2="268.56" stroke="#333" stroke-width="0.6" />
<text x="336.8" y="271.06" font-size="7.2" fill="#222" font-weight="normal" text-anchor="end" >0.4</text>
<line x1="339.5" y1="260.3" x2="340.7" y2="260.3" stroke="#333" stroke-width="0.6" />
<line x1="484.5" y1="260.3" x2="483.3" y2="260.3" stroke="#333" stroke-width="0.6" />
<line x1="339.5" y1="252.04" x2="341.5" y2="252.04" stroke="#333" stroke-width="0.6" />
<line x1="484.5" y1="252.04" x2="482.5" y2="252.04" stroke="#333" stroke-width="0.6" />
<text x="336.8" y="254.54" font-size="7.2" fill="#222" font-weight="normal" text-anchor="end" >0.6</text>
<line x1="339.5" y1="243.78" x2="340.7" y2="243.78" stroke="#333" stroke-width="0.6" />
<line x1="484.5" y1="243.78" x2="483.3" y2="243.78" stroke="#333" stroke-width="0.6" />
<line x1="339.5" y1="235.52" x2="341.5" y2="235.52" stroke="#333" stroke-width="0.6" />
<line x1="484.5" y1="235.52" x2="482.5" y2="235.52" stroke="#333" stroke-width="0.6" />
<text x="336.8" y="238.02" font-size="7.2" fill="#222" font-weight="normal" text-anchor="end" >0.8</text>
<line x1="339.5" y1="227.26" x2="340.7" y2="227.26" stroke="#333" stroke-width="0.6" />
<line x1="484.5" y1="227.26" x2="483.3" y2="227.26" stroke="#333" stroke-width="0.6" />
<line x1="339.5" y1="219" x2="341.5" y2="219" stroke="#333" stroke-width="0.6" />
<line x1="484.5" y1="219" x2="482.5" y2="219" stroke="#333" stroke-width="0.6" />
<text x="336.8" y="221.5" font-size="7.2" fill="#222" font-weight="normal" text-anchor="end" >1.0</text>
<line x1="339.5" y1="210.74" x2="340.7" y2="210.74" stroke="#333" stroke-width="0.6" />
<line x1="484.5" y1="210.74" x2="483.3" y2="210.74" stroke="#333" stroke-width="0.6" />
<line x1="339.5" y1="202.48" x2="341.5" y2="202.48" stroke="#333" stroke-width="0.6" />
<line x1="484.5" y1="202.48" x2="482.5" y2="202.48" stroke="#333" stroke-width="0.6" />
<text x="336.8" y="204.98" font-size="7.2" fill="#222" font-weight="normal" text-anchor="end" >1.2</text>
<line x1="339.5" y1="194.22" x2="340.7" y2="194.22" stroke="#333" stroke-width="0.6" />
<line x1="484.5" y1="194.22" x2="483.3" y2="194.22" stroke="#333" stroke-width="0.6" />
<line x1="339.5" y1="185.96" x2="341.5" y2="185.96" stroke="#333" stroke-width="0.6" />
<line x1="484.5" y1="185.96" x2="482.5" y2="185.96" stroke="#333" stroke-width="0.6" />
<text x="336.8" y="188.46" font-size="7.2" fill="#222" font-weight="normal" text-anchor="end" >1.4</text>
<line x1="339.7" y1="310.5" x2="339.7" y2="308.5" stroke="#333" stroke-width="0.6" />
<line x1="339.7" y1="178.5" x2="339.7" y2="180.5" stroke="#333" stroke-width="0.6" />
<line x1="357.35" y1="310.5" x2="357.35" y2="309.3" stroke="#333" stroke-width="0.6" />
<line x1="357.35" y1="178.5" x2="357.35" y2="179.7" stroke="#333" stroke-width="0.6" />
<line x1="375" y1="310.5" x2="375" y2="308.5" stroke="#333" stroke-width="0.6" />
<line x1="375" y1="178.5" x2="375" y2="180.5" stroke="#333" stroke-width="0.6" />
<text x="375" y="319.2" font-size="7.2" fill="#222" font-weight="normal" text-anchor="middle" >200</text>
<line x1="392.65" y1="310.5" x2="392.65" y2="309.3" stroke="#333" stroke-width="0.6" />
<line x1="392.65" y1="178.5" x2="392.65" y2="179.7" stroke="#333" stroke-width="0.6" />
<line x1="410.3" y1="310.5" x2="410.3" y2="308.5" stroke="#333" stroke-width="0.6" />
<line x1="410.3" y1="178.5" x2="410.3" y2="180.5" stroke="#333" stroke-width="0.6" />
<text x="410.3" y="319.2" font-size="7.2" fill="#222" font-weight="normal" text-anchor="middle" >400</text>
<line x1="427.95" y1="310.5" x2="427.95" y2="309.3" stroke="#333" stroke-width="0.6" />
<line x1="427.95" y1="178.5" x2="427.95" y2="179.7" stroke="#333" stroke-width="0.6" />
<line x1="445.6" y1="310.5" x2="445.6" y2="308.5" stroke="#333" stroke-width="0.6" />
<line x1="445.6" y1="178.5" x2="445.6" y2="180.5" stroke="#333" stroke-width="0.6" />
<text x="445.6" y="319.2" font-size="7.2" fill="#222" font-weight="normal" text-anchor="middle" >600</text>
<line x1="463.25" y1="310.5" x2="463.25" y2="309.3" stroke="#333" stroke-width="0.6" />
<line x1="463.25" y1="178.5" x2="463.25" y2="179.7" stroke="#333" stroke-width="0.6" />
<line x1="480.9" y1="310.5" x2="480.9" y2="308.5" stroke="#333" stroke-width="0.6" />
<line x1="480.9" y1="178.5" x2="480.9" y2="180.5" stroke="#333" stroke-width="0.6" />
<text x="480.9" y="319.2" font-size="7.2" fill="#222" font-weight="normal" text-anchor="middle" >800</text>
<text x="412.5" y="328.5" font-size="7.4" fill="#222" font-weight="normal" text-anchor="middle" >Time (second)</text>
<text x="318.5" y="246.4" font-size="7.35" fill="#222" font-weight="normal" text-anchor="middle" transform="rotate(-90 318.5 246.4)">Response, S = (R<tspan font-size="4.7" dy="1.5">g</tspan><tspan dy="-1.5"> -R</tspan><tspan font-size="4.7" dy="1.5">a</tspan><tspan dy="-1.5">)/R</tspan><tspan font-size="4.7" dy="1.5">a</tspan></text>
<text x="346" y="292" font-size="4.8" fill="#333" font-weight="normal" text-anchor="middle" >0.001%</text>
<text x="355.5" y="288.5" font-size="4.8" fill="#333" font-weight="normal" text-anchor="middle" >0.01%</text>
<text x="363" y="272.5" font-size="4.8" fill="#333" font-weight="normal" text-anchor="middle" >0.1%</text>
<text x="372" y="257.5" font-size="4.8" fill="#333" font-weight="normal" text-anchor="middle" >1%</text>
<text x="381.5" y="231" font-size="4.8" fill="#333" font-weight="normal" text-anchor="middle" >2%</text>
<text x="393" y="202.3" font-size="4.8" fill="#333" font-weight="normal" text-anchor="middle" >3%</text>
<text x="405" y="185.5" font-size="4.8" fill="#333" font-weight="normal" text-anchor="middle" >4%</text>
<text x="418.5" y="202.5" font-size="4.8" fill="#333" font-weight="normal" text-anchor="middle" >3%</text>
<text x="431.5" y="231" font-size="4.8" fill="#333" font-weight="normal" text-anchor="middle" >2%</text>
<text x="444.5" y="257.5" font-size="4.8" fill="#333" font-weight="normal" text-anchor="middle" >1%</text>
<text x="457" y="277.3" font-size="4.8" fill="#333" font-weight="normal" text-anchor="middle" >0.1%</text>
<text x="467.8" y="290" font-size="4.8" fill="#333" font-weight="normal" text-anchor="middle" >0.01%</text>
<text x="479" y="293.3" font-size="4.8" fill="#333" font-weight="normal" text-anchor="middle" >0.001%</text>
<text x="496.8" y="182.4" font-size="13.5" fill="#231815" font-weight="bold" text-anchor="start" >g</text>
<rect x="528.5" y="179.5" width="149" height="131" fill="none" stroke="#333" stroke-width="0.8" />
<line x1="528.5" y1="301.6" x2="530.5" y2="301.6" stroke="#333" stroke-width="0.6" />
<line x1="677.5" y1="301.6" x2="675.5" y2="301.6" stroke="#333" stroke-width="0.6" />
<line x1="528.5" y1="290.5" x2="529.7" y2="290.5" stroke="#333" stroke-width="0.6" />
<text x="525.6" y="304.1" font-size="7.2" fill="#222" font-weight="normal" text-anchor="end" >0.00</text>
<line x1="528.5" y1="279.4" x2="530.5" y2="279.4" stroke="#333" stroke-width="0.6" />
<line x1="677.5" y1="279.4" x2="675.5" y2="279.4" stroke="#333" stroke-width="0.6" />
<line x1="528.5" y1="268.3" x2="529.7" y2="268.3" stroke="#333" stroke-width="0.6" />
<text x="525.6" y="281.9" font-size="7.2" fill="#222" font-weight="normal" text-anchor="end" >0.05</text>
<line x1="528.5" y1="257.2" x2="530.5" y2="257.2" stroke="#333" stroke-width="0.6" />
<line x1="677.5" y1="257.2" x2="675.5" y2="257.2" stroke="#333" stroke-width="0.6" />
<line x1="528.5" y1="246.1" x2="529.7" y2="246.1" stroke="#333" stroke-width="0.6" />
<text x="525.6" y="259.7" font-size="7.2" fill="#222" font-weight="normal" text-anchor="end" >0.10</text>
<line x1="528.5" y1="235" x2="530.5" y2="235" stroke="#333" stroke-width="0.6" />
<line x1="677.5" y1="235" x2="675.5" y2="235" stroke="#333" stroke-width="0.6" />
<line x1="528.5" y1="223.9" x2="529.7" y2="223.9" stroke="#333" stroke-width="0.6" />
<text x="525.6" y="237.5" font-size="7.2" fill="#222" font-weight="normal" text-anchor="end" >0.15</text>
<line x1="528.5" y1="212.8" x2="530.5" y2="212.8" stroke="#333" stroke-width="0.6" />
<line x1="677.5" y1="212.8" x2="675.5" y2="212.8" stroke="#333" stroke-width="0.6" />
<line x1="528.5" y1="201.7" x2="529.7" y2="201.7" stroke="#333" stroke-width="0.6" />
<text x="525.6" y="215.3" font-size="7.2" fill="#222" font-weight="normal" text-anchor="end" >0.20</text>
<line x1="528.5" y1="190.6" x2="530.5" y2="190.6" stroke="#333" stroke-width="0.6" />
<line x1="677.5" y1="190.6" x2="675.5" y2="190.6" stroke="#333" stroke-width="0.6" />
<line x1="528.5" y1="179.5" x2="529.7" y2="179.5" stroke="#333" stroke-width="0.6" />
<text x="525.6" y="193.1" font-size="7.2" fill="#222" font-weight="normal" text-anchor="end" >0.25</text>
<line x1="532" y1="310.5" x2="532" y2="308.5" stroke="#333" stroke-width="0.6" />
<line x1="532" y1="179.5" x2="532" y2="181.5" stroke="#333" stroke-width="0.6" />
<line x1="549.8" y1="310.5" x2="549.8" y2="309.3" stroke="#333" stroke-width="0.6" />
<text x="532" y="319.6" font-size="7.2" fill="#222" font-weight="normal" text-anchor="middle" >0</text>
<line x1="567.6" y1="310.5" x2="567.6" y2="308.5" stroke="#333" stroke-width="0.6" />
<line x1="567.6" y1="179.5" x2="567.6" y2="181.5" stroke="#333" stroke-width="0.6" />
<line x1="585.4" y1="310.5" x2="585.4" y2="309.3" stroke="#333" stroke-width="0.6" />
<text x="567.6" y="319.6" font-size="7.2" fill="#222" font-weight="normal" text-anchor="middle" >50</text>
<line x1="603.2" y1="310.5" x2="603.2" y2="308.5" stroke="#333" stroke-width="0.6" />
<line x1="603.2" y1="179.5" x2="603.2" y2="181.5" stroke="#333" stroke-width="0.6" />
<line x1="621" y1="310.5" x2="621" y2="309.3" stroke="#333" stroke-width="0.6" />
<text x="603.2" y="319.6" font-size="7.2" fill="#222" font-weight="normal" text-anchor="middle" >100</text>
<line x1="638.8" y1="310.5" x2="638.8" y2="308.5" stroke="#333" stroke-width="0.6" />
<line x1="638.8" y1="179.5" x2="638.8" y2="181.5" stroke="#333" stroke-width="0.6" />
<line x1="656.6" y1="310.5" x2="656.6" y2="309.3" stroke="#333" stroke-width="0.6" />
<text x="638.8" y="319.6" font-size="7.2" fill="#222" font-weight="normal" text-anchor="middle" >150</text>
<line x1="674.4" y1="310.5" x2="674.4" y2="308.5" stroke="#333" stroke-width="0.6" />
<line x1="674.4" y1="179.5" x2="674.4" y2="181.5" stroke="#333" stroke-width="0.6" />
<line x1="692.2" y1="310.5" x2="692.2" y2="309.3" stroke="#333" stroke-width="0.6" />
<text x="674.4" y="319.6" font-size="7.2" fill="#222" font-weight="normal" text-anchor="middle" >200</text>
<line x1="554" y1="274.6" x2="676.5" y2="187.2" stroke="#23a3b6" stroke-width="1.2" />
<line x1="532.7" y1="298.8" x2="560.6" y2="268.9" stroke="#e2404e" stroke-width="1.1" />
<rect x="532.5" y="296.7" width="3" height="3" fill="#c4d64a" stroke="#a8b83a" stroke-width="0.3" />
<rect x="537.5" y="288.7" width="3" height="3" fill="#c4d64a" stroke="#a8b83a" stroke-width="0.3" />
<rect x="553.5" y="273.9" width="3" height="3" fill="#c4d64a" stroke="#a8b83a" stroke-width="0.3" />
<rect x="601.8" y="238.9" width="3" height="3" fill="#c4d64a" stroke="#a8b83a" stroke-width="0.3" />
<rect x="630.8" y="219.9" width="3" height="3" fill="#c4d64a" stroke="#a8b83a" stroke-width="0.3" />
<rect x="653.5" y="201.1" width="3" height="3" fill="#c4d64a" stroke="#a8b83a" stroke-width="0.3" />
<rect x="673" y="186.3" width="3" height="3" fill="#c4d64a" stroke="#a8b83a" stroke-width="0.3" />
<rect x="535.5" y="185.5" width="95.5" height="10.8" fill="#fff" stroke="#777" stroke-width="0.5" />
<rect x="541" y="188.6" width="3" height="3" fill="#c4d64a" stroke="none" stroke-width="1" />
<text x="547.5" y="193" font-size="5.5" fill="#222" font-weight="normal" text-anchor="start" >Experimental value of sample S<tspan font-size="3.4" dy="1">0.5</tspan></text>
<line x1="537" y1="201.6" x2="548" y2="201.6" stroke="#222" stroke-width="1.1" />
<text x="550" y="203.5" font-size="5.3" fill="#222" font-weight="normal" text-anchor="start" >Langmuir model</text>
<text x="647" y="232.6" font-size="5.9" fill="#23a3b6" font-weight="normal" text-anchor="middle" >k = 0.189</text>
<text x="564" y="289.5" font-size="5.9" fill="#e2404e" font-weight="normal" text-anchor="middle" >k = 0.513</text>
<text x="501.5" y="248.8" font-size="7.35" fill="#222" font-weight="normal" text-anchor="middle" transform="rotate(-90 501.5 248.8)">Response, S = (R<tspan font-size="4.7" dy="1.5">g</tspan><tspan dy="-1.5"> -R</tspan><tspan font-size="4.7" dy="1.5">a</tspan><tspan dy="-1.5">)/R</tspan><tspan font-size="4.7" dy="1.5">a</tspan></text>
<text x="603" y="329.5" font-size="6.6" fill="#222" font-weight="normal" text-anchor="middle" >[Concentration of H<tspan font-size="4.3" dy="1.3">2</tspan><tspan dy="-1.3">]</tspan><tspan font-size="4.3" dy="-2.5">1/2</tspan><tspan dy="2.5"> (ppm)</tspan><tspan font-size="4.3" dy="-2.5">1/2</tspan></text>
<rect x="10.8" y="350.7" width="124" height="88.6" fill="#5d5e56" stroke="none" stroke-width="1" />
<g clip-path="url(#chh)">
<path d="M33.6,340 L42.8,340 L42.8,369.2 L111.6,440 L100,440 L33.6,366 Z" fill="#e3a24e" stroke="none" stroke-width="1" />
<path d="M49.89,366.39 L51.8,365.17 L74.54,281.49 L57.93,277.87 L43.78,363.42 L45.01,365.32 Z" fill="#dcc68e" stroke="none" stroke-width="1" />
<line x1="46.26" y1="371.33" x2="47.45" y2="365.86" stroke="#d8d0b8" stroke-width="0.5" />
<circle cx="46" cy="372.5" r="1.5" fill="#50524a" stroke="#1e1e1a" stroke-width="0.6" />
<path d="M58.27,374.65 L60.34,373.73 L95.48,294.46 L79.61,288.36 L52.68,370.79 L53.6,372.86 Z" fill="#dcc68e" stroke="none" stroke-width="1" />
<line x1="53.93" y1="378.98" x2="55.94" y2="373.75" stroke="#d8d0b8" stroke-width="0.5" />
<circle cx="53.5" cy="380.1" r="1.5" fill="#50524a" stroke="#1e1e1a" stroke-width="0.6" />
<path d="M66.88,383.26 L69.06,382.64 L114.89,309.03 L100.02,300.79 L61.89,378.67 L62.51,380.84 Z" fill="#dcc68e" stroke="none" stroke-width="1" />
<line x1="61.98" y1="386.95" x2="64.7" y2="382.05" stroke="#d8d0b8" stroke-width="0.5" />
<circle cx="61.4" cy="388" r="1.5" fill="#50524a" stroke="#1e1e1a" stroke-width="0.6" />
<path d="M75.81,391.71 L78.05,391.4 L134.03,325.18 L120.51,314.88 L71.53,386.43 L71.83,388.68 Z" fill="#dcc68e" stroke="none" stroke-width="1" />
<line x1="70.43" y1="394.65" x2="73.82" y2="390.19" stroke="#d8d0b8" stroke-width="0.5" />
<circle cx="69.7" cy="395.6" r="1.5" fill="#50524a" stroke="#1e1e1a" stroke-width="0.6" />
<path d="M83.77,400.73 L86.03,400.88 L154.27,347.39 L143.12,334.56 L80.65,394.69 L80.49,396.95 Z" fill="#dcc68e" stroke="none" stroke-width="1" />
<line x1="77.91" y1="402.51" x2="82.13" y2="398.84" stroke="#d8d0b8" stroke-width="0.5" />
<circle cx="77" cy="403.3" r="1.5" fill="#50524a" stroke="#1e1e1a" stroke-width="0.6" />
<path d="M91.42,410.04 L93.61,410.59 L170.11,369.76 L161.35,355.19 L89.39,403.56 L88.84,405.75 Z" fill="#dcc68e" stroke="none" stroke-width="1" />
<line x1="85.33" y1="410.78" x2="90.13" y2="407.9" stroke="#d8d0b8" stroke-width="0.5" />
<circle cx="84.3" cy="411.4" r="1.5" fill="#50524a" stroke="#1e1e1a" stroke-width="0.6" />
<path d="M98.74,419.5 L100.81,420.42 L183.24,393.49 L177.14,377.62 L97.87,412.76 L96.95,414.83 Z" fill="#dcc68e" stroke="none" stroke-width="1" />
<line x1="92.62" y1="419.17" x2="97.85" y2="417.16" stroke="#d8d0b8" stroke-width="0.5" />
<circle cx="91.5" cy="419.6" r="1.5" fill="#50524a" stroke="#1e1e1a" stroke-width="0.6" />
<path d="M106.41,428.21 L108.24,429.54 L194.46,420.33 L191.8,403.54 L106.96,421.44 L105.63,423.27 Z" fill="#dcc68e" stroke="none" stroke-width="1" />
<line x1="100.49" y1="426.61" x2="106.02" y2="425.74" stroke="#d8d0b8" stroke-width="0.5" />
<circle cx="99.3" cy="426.8" r="1.5" fill="#50524a" stroke="#1e1e1a" stroke-width="0.6" />
</g>
<text x="13" y="362.7" font-size="13.5" fill="#ffffff" font-weight="bold" text-anchor="start" >h</text>
<text x="35" y="383" font-size="6.9" fill="#e02020" font-weight="normal" text-anchor="middle" >15μm</text>
<line x1="41" y1="380" x2="45.5" y2="373.5" stroke="#e02020" stroke-width="1.1" />
<line x1="70" y1="399.5" x2="53" y2="408" stroke="#ffffff" stroke-width="0.6" />
<text x="50" y="414.2" font-size="7.3" fill="#ffffff" font-weight="normal" text-anchor="middle" >Etch window</text>
<rect x="27.7" y="431" width="30.5" height="8.3" fill="#e8a456" stroke="none" stroke-width="1" />
<text x="12" y="438.2" font-size="7.3" fill="#ffffff" font-weight="normal" text-anchor="start" >Etch window pattern</text>
<rect x="112.2" y="426" width="22.6" height="13.3" fill="#000" stroke="none" stroke-width="1" />
<rect x="115" y="427.6" width="17.5" height="1.6" fill="#fff" stroke="none" stroke-width="1" />
<text x="123.6" y="437.8" font-size="6.9" fill="#fff" font-weight="normal" text-anchor="middle" >50 μm</text>
<rect x="10.5" y="443.3" width="65.5" height="14.8" fill="#f0b428" stroke="none" stroke-width="1" />
<rect x="82.3" y="446.9" width="52.7" height="11.2" fill="#1e4c7c" stroke="none" stroke-width="1" />
<path d="M10.5,458.1 L30.6,458.1 L68,467.2 L87.8,467.2 L125.2,458.1 L135,458.1 L135,470.5 L10.5,470.5 Z" fill="#a2a4a4" stroke="none" stroke-width="1" />
<rect x="10.5" y="470.5" width="124.5" height="19.1" fill="#7288aa" stroke="none" stroke-width="1" />
<text x="13.6" y="453.8" font-size="7.6" fill="#fff" font-weight="normal" text-anchor="start" >Ti/Au</text>
<text x="108.5" y="455.3" font-size="7.6" fill="#fff" font-weight="normal" text-anchor="middle" >Ti/Pd</text>
<text x="13.6" y="467.5" font-size="7.6" fill="#fff" font-weight="normal" text-anchor="start" >SiO<tspan font-size="4.8" dy="1.6">2</tspan></text>
<text x="13.6" y="483" font-size="7.6" fill="#fff" font-weight="normal" text-anchor="start" >Si</text>
<text x="136.4" y="364.3" font-size="13.5" fill="#231815" font-weight="bold" text-anchor="start" >i</text>
<text x="156.6" y="358.8" font-size="7.0" fill="#222" font-weight="normal" text-anchor="start" >[H<tspan font-size="4.5" dy="1.5">2</tspan><tspan dy="-1.5">] = 1-2 %</tspan></text>
<rect x="163.5" y="363.6" width="144.5" height="12.7" fill="#f0cf6c" stroke="none" stroke-width="1" />
<path d="M229.5,363.6 L237.5,363.6 L235.70000000000002,369.95000000000005 Z M229.5,376.3 L237.5,376.3 L235.70000000000002,369.95000000000005 Z" fill="#fff" stroke="none" stroke-width="1" />
<path d="M163.5,363.6 L229.5,363.6 L235.4,369.95000000000005 L229.5,376.3 L163.5,376.3 Z" fill="#5b70a2" stroke="none" stroke-width="1" />
<text x="168.2" y="373.5" font-size="7.2" fill="#fff" font-weight="normal" text-anchor="start" >Pd</text>
<text x="305" y="373.5" font-size="7.2" fill="#222" font-weight="normal" text-anchor="end" >Au</text>
<text x="236.2" y="385.5" font-size="5.9" fill="#222" font-weight="bold" text-anchor="middle" >Partly Closed</text>
<line x1="193" y1="390.4" x2="276.8" y2="390.4" stroke="#222" stroke-width="0.6" />
<rect x="219" y="389.4" width="12.2" height="2" fill="#fff" stroke="none" stroke-width="1" />
<polyline points="219.2,390.4 220.1,388.2 221.75,392.6 223.4,388.2 225.05,392.6 226.7,388.2 228.35,392.6 230,388.2 231,390.4" fill="none" stroke="#222" stroke-width="0.6" stroke-linejoin="round" />
<rect x="236.1" y="388.9" width="9" height="3" fill="#fff" stroke="none" stroke-width="1" />
<circle cx="237.1" cy="390.4" r="0.9" fill="#fff" stroke="#222" stroke-width="0.5" />
<circle cx="244.1" cy="390.4" r="0.9" fill="#fff" stroke="#222" stroke-width="0.5" />
<line x1="237.8" y1="390" x2="243.2" y2="387.8" stroke="#222" stroke-width="0.6" />
<line x1="193" y1="396.9" x2="276.8" y2="396.9" stroke="#222" stroke-width="0.6" />
<circle cx="193" cy="396.9" r="0.7" fill="#111" stroke="none" stroke-width="1" />
<circle cx="276.8" cy="396.9" r="0.7" fill="#111" stroke="none" stroke-width="1" />
<rect x="219" y="395.9" width="12.2" height="2" fill="#fff" stroke="none" stroke-width="1" />
<polyline points="219.2,396.9 220.1,394.7 221.75,399.1 223.4,394.7 225.05,399.1 226.7,394.7 228.35,399.1 230,394.7 231,396.9" fill="none" stroke="#222" stroke-width="0.6" stroke-linejoin="round" />
<rect x="236.1" y="395.4" width="9" height="3" fill="#fff" stroke="none" stroke-width="1" />
<circle cx="237.1" cy="396.9" r="0.9" fill="#fff" stroke="#222" stroke-width="0.5" />
<circle cx="244.1" cy="396.9" r="0.9" fill="#fff" stroke="#222" stroke-width="0.5" />
<line x1="237.8" y1="396.5" x2="243.2" y2="394.3" stroke="#222" stroke-width="0.6" />
<line x1="193" y1="403.1" x2="276.8" y2="403.1" stroke="#222" stroke-width="0.6" />
<circle cx="193" cy="403.1" r="0.7" fill="#111" stroke="none" stroke-width="1" />
<circle cx="276.8" cy="403.1" r="0.7" fill="#111" stroke="none" stroke-width="1" />
<rect x="219" y="402.1" width="12.2" height="2" fill="#fff" stroke="none" stroke-width="1" />
<polyline points="219.2,403.1 220.1,400.9 221.75,405.3 223.4,400.9 225.05,405.3 226.7,400.9 228.35,405.3 230,400.9 231,403.1" fill="none" stroke="#222" stroke-width="0.6" stroke-linejoin="round" />
<rect x="236.1" y="401.6" width="9" height="3" fill="#fff" stroke="none" stroke-width="1" />
<circle cx="237.1" cy="403.1" r="0.9" fill="#fff" stroke="#222" stroke-width="0.5" />
<circle cx="244.1" cy="403.1" r="0.9" fill="#fff" stroke="#222" stroke-width="0.5" />
<line x1="237.8" y1="402.7" x2="243.2" y2="400.5" stroke="#222" stroke-width="0.6" />
<line x1="193" y1="390.4" x2="193" y2="417.1" stroke="#222" stroke-width="0.6" />
<line x1="276.8" y1="390.4" x2="276.8" y2="417.1" stroke="#222" stroke-width="0.6" />
<line x1="193" y1="417.1" x2="276.8" y2="417.1" stroke="#222" stroke-width="0.6" />
<circle cx="235" cy="417.1" r="5.4" fill="#fff" stroke="#222" stroke-width="0.7" />
<circle cx="233.7" cy="417.1" r="0.6" fill="#222" stroke="none" stroke-width="1" />
<line x1="232.7" y1="417.1" x2="234.7" y2="417.1" stroke="#222" stroke-width="0.4" />
<line x1="236.2" y1="417.1" x2="237.6" y2="417.1" stroke="#222" stroke-width="0.4" />
<text x="158.6" y="425.3" font-size="7.0" fill="#222" font-weight="normal" text-anchor="start" >[H<tspan font-size="4.5" dy="1.5">2</tspan><tspan dy="-1.5">] &gt; 2 %</tspan></text>
<rect x="163.5" y="428.9" width="144.5" height="13" fill="#f0cf6c" stroke="none" stroke-width="1" />
<path d="M163.5,428.9 L237.5,428.9 L244.6,435.4 L237.5,441.9 L163.5,441.9 Z" fill="#5b70a2" stroke="none" stroke-width="1" />
<text x="167" y="438.8" font-size="7.2" fill="#fff" font-weight="normal" text-anchor="start" >Pd</text>
<text x="305" y="438.8" font-size="7.2" fill="#222" font-weight="normal" text-anchor="end" >Au</text>
<text x="236.5" y="450.6" font-size="5.8" fill="#222" font-weight="bold" text-anchor="middle" >Fully Closed</text>
<line x1="190.5" y1="454.4" x2="273.8" y2="454.4" stroke="#222" stroke-width="0.6" />
<rect x="216" y="453.4" width="12.2" height="2" fill="#fff" stroke="none" stroke-width="1" />
<polyline points="216.2,454.4 217.1,452.2 218.75,456.6 220.4,452.2 222.05,456.6 223.7,452.2 225.35,456.6 227,452.2 228,454.4" fill="none" stroke="#222" stroke-width="0.6" stroke-linejoin="round" />
<rect x="233.9" y="452.9" width="9" height="3" fill="#fff" stroke="none" stroke-width="1" />
<circle cx="234.9" cy="454.4" r="0.9" fill="#fff" stroke="#222" stroke-width="0.5" />
<circle cx="241.9" cy="454.4" r="0.9" fill="#fff" stroke="#222" stroke-width="0.5" />
<line x1="235.6" y1="454.2" x2="241.2" y2="453.4" stroke="#222" stroke-width="0.6" />
<line x1="190.5" y1="461.1" x2="273.8" y2="461.1" stroke="#222" stroke-width="0.6" />
<circle cx="190.5" cy="461.1" r="0.7" fill="#111" stroke="none" stroke-width="1" />
<circle cx="273.8" cy="461.1" r="0.7" fill="#111" stroke="none" stroke-width="1" />
<rect x="216" y="460.1" width="12.2" height="2" fill="#fff" stroke="none" stroke-width="1" />
<polyline points="216.2,461.1 217.1,458.9 218.75,463.3 220.4,458.9 222.05,463.3 223.7,458.9 225.35,463.3 227,458.9 228,461.1" fill="none" stroke="#222" stroke-width="0.6" stroke-linejoin="round" />
<rect x="233.9" y="459.6" width="9" height="3" fill="#fff" stroke="none" stroke-width="1" />
<circle cx="234.9" cy="461.1" r="0.9" fill="#fff" stroke="#222" stroke-width="0.5" />
<circle cx="241.9" cy="461.1" r="0.9" fill="#fff" stroke="#222" stroke-width="0.5" />
<line x1="235.6" y1="460.9" x2="241.2" y2="460.1" stroke="#222" stroke-width="0.6" />
<line x1="190.5" y1="467.7" x2="273.8" y2="467.7" stroke="#222" stroke-width="0.6" />
<circle cx="190.5" cy="467.7" r="0.7" fill="#111" stroke="none" stroke-width="1" />
<circle cx="273.8" cy="467.7" r="0.7" fill="#111" stroke="none" stroke-width="1" />
<rect x="216" y="466.7" width="12.2" height="2" fill="#fff" stroke="none" stroke-width="1" />
<polyline points="216.2,467.7 217.1,465.5 218.75,469.9 220.4,465.5 222.05,469.9 223.7,465.5 225.35,469.9 227,465.5 228,467.7" fill="none" stroke="#222" stroke-width="0.6" stroke-linejoin="round" />
<rect x="233.9" y="466.2" width="9" height="3" fill="#fff" stroke="none" stroke-width="1" />
<circle cx="234.9" cy="467.7" r="0.9" fill="#fff" stroke="#222" stroke-width="0.5" />
<circle cx="241.9" cy="467.7" r="0.9" fill="#fff" stroke="#222" stroke-width="0.5" />
<line x1="235.6" y1="467.5" x2="241.2" y2="466.7" stroke="#222" stroke-width="0.6" />
<line x1="190.5" y1="454.4" x2="190.5" y2="481.2" stroke="#222" stroke-width="0.6" />
<line x1="273.8" y1="454.4" x2="273.8" y2="481.2" stroke="#222" stroke-width="0.6" />
<line x1="190.5" y1="481.2" x2="273.8" y2="481.2" stroke="#222" stroke-width="0.6" />
<circle cx="232.2" cy="481.2" r="5.4" fill="#fff" stroke="#222" stroke-width="0.7" />
<circle cx="230.9" cy="481.2" r="0.6" fill="#222" stroke="none" stroke-width="1" />
<line x1="229.9" y1="481.2" x2="231.9" y2="481.2" stroke="#222" stroke-width="0.4" />
<line x1="233.4" y1="481.2" x2="234.8" y2="481.2" stroke="#222" stroke-width="0.4" />
<text x="311" y="367" font-size="13.5" fill="#231815" font-weight="bold" text-anchor="start" >j</text>
<rect x="368.68" y="375.5" width="9.2" height="96" fill="#6bbf8d" stroke="none" stroke-width="1" />
<rect x="387.66" y="375.5" width="9.2" height="96" fill="#6bbf8d" stroke="none" stroke-width="1" />
<rect x="406.64" y="375.5" width="9.2" height="96" fill="#6bbf8d" stroke="none" stroke-width="1" />
<rect x="425.62" y="375.5" width="9.2" height="96" fill="#6bbf8d" stroke="none" stroke-width="1" />
<rect x="444.6" y="375.5" width="9.2" height="96" fill="#6bbf8d" stroke="none" stroke-width="1" />
<rect x="463.58" y="375.5" width="9.2" height="96" fill="#6bbf8d" stroke="none" stroke-width="1" />
<line x1="359.5" y1="369" x2="359.5" y2="471" stroke="#bbb" stroke-width="0.5" stroke-dasharray="0.8 1"/>
<line x1="482.8" y1="369" x2="482.8" y2="471" stroke="#bbb" stroke-width="0.5" stroke-dasharray="0.8 1"/>
<polyline points="352.7,466.6 368.98,466.6 369.28,422.46 369.98,413.21 370.58,401.11 372.18,396.48 373.48,395.41 379.48,395.41 379.98,396.84 380.28,456.98 380.78,444.96 381.08,449.77 381.68,453.36 382.28,456.18 382.88,458.41 383.48,460.15 384.08,461.53 384.68,462.61 385.28,463.46 385.88,464.13 386.48,464.66 387.08,465.07 387.68,465.4 388.28,465.65 388.88,465.86 390.08,466.6 387.96,466.6 388.26,422.46 388.96,413.21 389.56,401.11 391.16,396.48 392.46,395.41 398.46,395.41 398.96,396.84 399.26,456.98 399.76,444.96 400.06,449.77 400.66,453.36 401.26,456.18 401.86,458.41 402.46,460.15 403.06,461.53 403.66,462.61 404.26,463.46 404.86,464.13 405.46,464.66 406.06,465.07 406.66,465.4 407.26,465.65 407.86,465.86 409.06,466.6 406.94,466.6 407.24,421.57 407.94,412.13 408.54,399.78 410.14,395.06 411.44,393.97 417.44,393.97 417.94,395.42 418.24,456.98 418.74,444.96 419.04,449.77 419.64,453.36 420.24,456.18 420.84,458.41 421.44,460.15 422.04,461.53 422.64,462.61 423.24,463.46 423.84,464.13 424.44,464.66 425.04,465.07 425.64,465.4 426.24,465.65 426.84,465.86 428.04,466.6 425.92,466.6 426.22,423.95 426.92,415.01 427.52,403.32 429.12,398.85 430.42,397.82 436.42,397.82 436.92,399.19 437.22,456.98 437.72,444.96 438.02,449.77 438.62,453.36 439.22,456.18 439.82,458.41 440.42,460.15 441.02,461.53 441.62,462.61 442.22,463.46 442.82,464.13 443.42,464.66 444.02,465.07 444.62,465.4 445.22,465.65 445.82,465.86 447.02,466.6 444.9,466.6 445.2,426.04 445.9,417.54 446.5,406.42 448.1,402.17 449.4,401.18 455.4,401.18 455.9,402.49 456.2,456.98 456.7,444.96 457,449.77 457.6,453.36 458.2,456.18 458.8,458.41 459.4,460.15 460,461.53 460.6,462.61 461.2,463.46 461.8,464.13 462.4,464.66 463,465.07 463.6,465.4 464.2,465.65 464.8,465.86 466,466.6 463.88,466.6 464.18,425.74 464.88,417.18 465.48,405.97 467.08,401.69 468.38,400.7 474.38,400.7 474.88,402.02 475.18,456.98 475.68,444.96 475.98,449.77 476.58,453.36 477.18,456.18 477.78,458.41 478.38,460.15 478.98,461.53 479.58,462.61 480.18,463.46 480.78,464.13 481.38,464.66 481.98,465.07 482.58,465.4 483.18,465.65 483.78,465.86 484.98,466.6 493,466.6" fill="none" stroke="#2a54b4" stroke-width="1.1" stroke-linejoin="round" />
<line x1="353.5" y1="368.4" x2="353.5" y2="471.5" stroke="#444" stroke-width="0.9" />
<line x1="353.5" y1="471.5" x2="493.6" y2="471.5" stroke="#444" stroke-width="0.9" />
<line x1="353.2" y1="466.6" x2="351.2" y2="466.6" stroke="#444" stroke-width="0.5" />
<line x1="353.2" y1="454.58" x2="351.2" y2="454.58" stroke="#444" stroke-width="0.5" />
<line x1="353.2" y1="442.55" x2="351.2" y2="442.55" stroke="#444" stroke-width="0.5" />
<line x1="353.2" y1="430.53" x2="351.2" y2="430.53" stroke="#444" stroke-width="0.5" />
<line x1="353.2" y1="418.5" x2="351.2" y2="418.5" stroke="#444" stroke-width="0.5" />
<line x1="353.2" y1="406.48" x2="351.2" y2="406.48" stroke="#444" stroke-width="0.5" />
<line x1="353.2" y1="394.45" x2="351.2" y2="394.45" stroke="#444" stroke-width="0.5" />
<line x1="353.2" y1="382.43" x2="351.2" y2="382.43" stroke="#444" stroke-width="0.5" />
<line x1="353.2" y1="370.4" x2="351.2" y2="370.4" stroke="#444" stroke-width="0.5" />
<text x="349.3" y="468.8" font-size="6.3" fill="#333" font-weight="normal" text-anchor="end" >0.0</text>
<text x="349.4" y="444.75" font-size="6.3" fill="#333" font-weight="normal" text-anchor="end" >5.0 × 10<tspan font-size="4" dy="-2.6">-4</tspan></text>
<text x="349.4" y="420.7" font-size="6.3" fill="#333" font-weight="normal" text-anchor="end" >1.0 × 10<tspan font-size="4" dy="-2.6">-3</tspan></text>
<text x="349.4" y="396.65" font-size="6.3" fill="#333" font-weight="normal" text-anchor="end" >1.5 × 10<tspan font-size="4" dy="-2.6">-3</tspan></text>
<text x="349.4" y="372.6" font-size="6.3" fill="#333" font-weight="normal" text-anchor="end" >2.0 × 10<tspan font-size="4" dy="-2.6">-3</tspan></text>
<line x1="368.98" y1="471.2" x2="368.98" y2="473.2" stroke="#444" stroke-width="0.5" />
<line x1="359.49" y1="471.2" x2="359.49" y2="472.4" stroke="#444" stroke-width="0.5" />
<text x="368.98" y="481.5" font-size="6.5" fill="#333" font-weight="normal" text-anchor="middle" >1 k</text>
<line x1="387.96" y1="471.2" x2="387.96" y2="473.2" stroke="#444" stroke-width="0.5" />
<line x1="378.47" y1="471.2" x2="378.47" y2="472.4" stroke="#444" stroke-width="0.5" />
<text x="387.96" y="481.5" font-size="6.5" fill="#333" font-weight="normal" text-anchor="middle" >2 k</text>
<line x1="406.94" y1="471.2" x2="406.94" y2="473.2" stroke="#444" stroke-width="0.5" />
<line x1="397.45" y1="471.2" x2="397.45" y2="472.4" stroke="#444" stroke-width="0.5" />
<text x="406.94" y="481.5" font-size="6.5" fill="#333" font-weight="normal" text-anchor="middle" >3 k</text>
<line x1="425.92" y1="471.2" x2="425.92" y2="473.2" stroke="#444" stroke-width="0.5" />
<line x1="416.43" y1="471.2" x2="416.43" y2="472.4" stroke="#444" stroke-width="0.5" />
<text x="425.92" y="481.5" font-size="6.5" fill="#333" font-weight="normal" text-anchor="middle" >4 k</text>
<line x1="444.9" y1="471.2" x2="444.9" y2="473.2" stroke="#444" stroke-width="0.5" />
<line x1="435.41" y1="471.2" x2="435.41" y2="472.4" stroke="#444" stroke-width="0.5" />
<text x="444.9" y="481.5" font-size="6.5" fill="#333" font-weight="normal" text-anchor="middle" >5 k</text>
<line x1="463.88" y1="471.2" x2="463.88" y2="473.2" stroke="#444" stroke-width="0.5" />
<line x1="454.39" y1="471.2" x2="454.39" y2="472.4" stroke="#444" stroke-width="0.5" />
<text x="463.88" y="481.5" font-size="6.5" fill="#333" font-weight="normal" text-anchor="middle" >6 k</text>
<line x1="482.86" y1="471.2" x2="482.86" y2="473.2" stroke="#444" stroke-width="0.5" />
<line x1="473.37" y1="471.2" x2="473.37" y2="472.4" stroke="#444" stroke-width="0.5" />
<text x="482.86" y="481.5" font-size="6.5" fill="#333" font-weight="normal" text-anchor="middle" >7 k</text>
<text x="421.5" y="490.5" font-size="6.4" fill="#333" font-weight="normal" text-anchor="middle" >Time(s)</text>
<text x="319.2" y="423.7" font-size="6.5" fill="#222" font-weight="bold" text-anchor="middle" transform="rotate(-90 319.2 423.7)">Current(A)</text>
<text x="371.48" y="371.3" font-size="5.4" fill="#222" font-weight="bold" text-anchor="middle" >H<tspan font-size="3.6" dy="1.2">2</tspan><tspan dy="-1.2">4%</tspan></text>
<line x1="368.98" y1="376" x2="368.98" y2="380" stroke="#222" stroke-width="0.4" />
<path d="M368.18,379 L369.78,379 L368.98,381 Z" fill="#222" stroke="none" stroke-width="1" />
<text x="390.46" y="371.3" font-size="5.4" fill="#222" font-weight="bold" text-anchor="middle" >H<tspan font-size="3.6" dy="1.2">2</tspan><tspan dy="-1.2">4%</tspan></text>
<line x1="387.96" y1="376" x2="387.96" y2="380" stroke="#222" stroke-width="0.4" />
<path d="M387.16,379 L388.76,379 L387.96,381 Z" fill="#222" stroke="none" stroke-width="1" />
<text x="409.44" y="371.3" font-size="5.4" fill="#222" font-weight="bold" text-anchor="middle" >H<tspan font-size="3.6" dy="1.2">2</tspan><tspan dy="-1.2">4%</tspan></text>
<line x1="406.94" y1="376" x2="406.94" y2="380" stroke="#222" stroke-width="0.4" />
<path d="M406.14,379 L407.74,379 L406.94,381 Z" fill="#222" stroke="none" stroke-width="1" />
<text x="428.42" y="371.3" font-size="5.4" fill="#222" font-weight="bold" text-anchor="middle" >H<tspan font-size="3.6" dy="1.2">2</tspan><tspan dy="-1.2">4%</tspan></text>
<line x1="425.92" y1="376" x2="425.92" y2="380" stroke="#222" stroke-width="0.4" />
<path d="M425.12,379 L426.72,379 L425.92,381 Z" fill="#222" stroke="none" stroke-width="1" />
<text x="447.4" y="371.3" font-size="5.4" fill="#222" font-weight="bold" text-anchor="middle" >H<tspan font-size="3.6" dy="1.2">2</tspan><tspan dy="-1.2">4%</tspan></text>
<line x1="444.9" y1="376" x2="444.9" y2="380" stroke="#222" stroke-width="0.4" />
<path d="M444.1,379 L445.7,379 L444.9,381 Z" fill="#222" stroke="none" stroke-width="1" />
<text x="466.38" y="371.3" font-size="5.4" fill="#222" font-weight="bold" text-anchor="middle" >H<tspan font-size="3.6" dy="1.2">2</tspan><tspan dy="-1.2">4%</tspan></text>
<line x1="463.88" y1="376" x2="463.88" y2="380" stroke="#222" stroke-width="0.4" />
<path d="M463.08,379 L464.68,379 L463.88,381 Z" fill="#222" stroke="none" stroke-width="1" />
<text x="490.2" y="366.2" font-size="13.5" fill="#231815" font-weight="bold" text-anchor="start" >k</text>
<rect x="540.08" y="378.6" width="7" height="92.3" fill="#6bbf8d" stroke="none" stroke-width="1" />
<line x1="540.08" y1="375" x2="540.08" y2="470.9" stroke="#bbb" stroke-width="0.4" stroke-dasharray="0.8 1"/>
<rect x="554.02" y="378.6" width="7" height="92.3" fill="#6bbf8d" stroke="none" stroke-width="1" />
<line x1="554.02" y1="375" x2="554.02" y2="470.9" stroke="#bbb" stroke-width="0.4" stroke-dasharray="0.8 1"/>
<rect x="567.98" y="378.6" width="7" height="92.3" fill="#6bbf8d" stroke="none" stroke-width="1" />
<line x1="567.98" y1="375" x2="567.98" y2="470.9" stroke="#bbb" stroke-width="0.4" stroke-dasharray="0.8 1"/>
<rect x="581.93" y="378.6" width="7" height="92.3" fill="#6bbf8d" stroke="none" stroke-width="1" />
<line x1="581.93" y1="375" x2="581.93" y2="470.9" stroke="#bbb" stroke-width="0.4" stroke-dasharray="0.8 1"/>
<rect x="595.88" y="378.6" width="7" height="92.3" fill="#6bbf8d" stroke="none" stroke-width="1" />
<line x1="595.88" y1="375" x2="595.88" y2="470.9" stroke="#bbb" stroke-width="0.4" stroke-dasharray="0.8 1"/>
<rect x="609.83" y="378.6" width="7" height="92.3" fill="#6bbf8d" stroke="none" stroke-width="1" />
<line x1="609.83" y1="375" x2="609.83" y2="470.9" stroke="#bbb" stroke-width="0.4" stroke-dasharray="0.8 1"/>
<rect x="623.77" y="378.6" width="7" height="92.3" fill="#6bbf8d" stroke="none" stroke-width="1" />
<line x1="623.77" y1="375" x2="623.77" y2="470.9" stroke="#bbb" stroke-width="0.4" stroke-dasharray="0.8 1"/>
<rect x="637.73" y="378.6" width="7" height="92.3" fill="#6bbf8d" stroke="none" stroke-width="1" />
<line x1="637.73" y1="375" x2="637.73" y2="470.9" stroke="#bbb" stroke-width="0.4" stroke-dasharray="0.8 1"/>
<rect x="651.68" y="378.6" width="7" height="92.3" fill="#6bbf8d" stroke="none" stroke-width="1" />
<line x1="651.68" y1="375" x2="651.68" y2="470.9" stroke="#bbb" stroke-width="0.4" stroke-dasharray="0.8 1"/>
<rect x="665.62" y="378.6" width="7" height="92.3" fill="#6bbf8d" stroke="none" stroke-width="1" />
<line x1="665.62" y1="375" x2="665.62" y2="470.9" stroke="#bbb" stroke-width="0.4" stroke-dasharray="0.8 1"/>
<text x="543.58" y="376.8" font-size="5.4" fill="#222" font-weight="bold" text-anchor="middle" >1%</text>
<path d="M539.28,381 L540.88,381 L540.08,383 Z" fill="#222" stroke="none" stroke-width="1" />
<line x1="540.08" y1="378.6" x2="540.08" y2="382" stroke="#222" stroke-width="0.4" />
<text x="557.52" y="376.8" font-size="5.4" fill="#222" font-weight="bold" text-anchor="middle" >1.5%</text>
<path d="M553.23,381 L554.82,381 L554.02,383 Z" fill="#222" stroke="none" stroke-width="1" />
<line x1="554.02" y1="378.6" x2="554.02" y2="382" stroke="#222" stroke-width="0.4" />
<text x="571.48" y="376.8" font-size="5.4" fill="#222" font-weight="bold" text-anchor="middle" >2%</text>
<path d="M567.18,381 L568.77,381 L567.98,383 Z" fill="#222" stroke="none" stroke-width="1" />
<line x1="567.98" y1="378.6" x2="567.98" y2="382" stroke="#222" stroke-width="0.4" />
<text x="585.43" y="376.8" font-size="5.4" fill="#222" font-weight="bold" text-anchor="middle" >3%</text>
<path d="M581.13,381 L582.73,381 L581.93,383 Z" fill="#222" stroke="none" stroke-width="1" />
<line x1="581.93" y1="378.6" x2="581.93" y2="382" stroke="#222" stroke-width="0.4" />
<text x="599.38" y="376.8" font-size="5.4" fill="#222" font-weight="bold" text-anchor="middle" >4%</text>
<path d="M595.08,381 L596.67,381 L595.88,383 Z" fill="#222" stroke="none" stroke-width="1" />
<line x1="595.88" y1="378.6" x2="595.88" y2="382" stroke="#222" stroke-width="0.4" />
<text x="613.33" y="376.8" font-size="5.4" fill="#222" font-weight="bold" text-anchor="middle" >4%</text>
<path d="M609.03,381 L610.62,381 L609.83,383 Z" fill="#222" stroke="none" stroke-width="1" />
<line x1="609.83" y1="378.6" x2="609.83" y2="382" stroke="#222" stroke-width="0.4" />
<text x="627.27" y="376.8" font-size="5.4" fill="#222" font-weight="bold" text-anchor="middle" >3%</text>
<path d="M622.98,381 L624.57,381 L623.77,383 Z" fill="#222" stroke="none" stroke-width="1" />
<line x1="623.77" y1="378.6" x2="623.77" y2="382" stroke="#222" stroke-width="0.4" />
<text x="641.23" y="376.8" font-size="5.4" fill="#222" font-weight="bold" text-anchor="middle" >2%</text>
<path d="M636.93,381 L638.52,381 L637.73,383 Z" fill="#222" stroke="none" stroke-width="1" />
<line x1="637.73" y1="378.6" x2="637.73" y2="382" stroke="#222" stroke-width="0.4" />
<text x="655.18" y="376.8" font-size="5.4" fill="#222" font-weight="bold" text-anchor="middle" >1.5%</text>
<path d="M650.88,381 L652.48,381 L651.68,383 Z" fill="#222" stroke="none" stroke-width="1" />
<line x1="651.68" y1="378.6" x2="651.68" y2="382" stroke="#222" stroke-width="0.4" />
<text x="669.12" y="376.8" font-size="5.4" fill="#222" font-weight="bold" text-anchor="middle" >1%</text>
<path d="M664.83,381 L666.42,381 L665.62,383 Z" fill="#222" stroke="none" stroke-width="1" />
<line x1="665.62" y1="378.6" x2="665.62" y2="382" stroke="#222" stroke-width="0.4" />
<polyline points="532.3,465.2 557.4,465.2 557.6,455 558.3,452.8 559,440 560,432 560.7,433 561.3,444 562.3,458 563.5,465.2 569,465.2 569.2,440 571,437.5 573,435 574.8,432 575.4,440 576.5,455 578.7,465.2 583,465.2 583.2,428 584.2,422 585.2,414.3 587.7,414.3 588.1,382.6 588.6,385 589.3,418 590.3,426 591.5,440 593,452 595.6,465.2 596.6,465.2 596.9,420 597.5,392 598.5,386 600,390 602,393 602.4,393.5 602.9,381.5 603.3,395 604,415 605.5,435 607.5,450 610.3,465.2 610.8,465.2 611.1,420 611.6,392 613,390 615,388 617.1,387.2 617.6,395 618.5,420 620,440 622,455 624,465.2 624.8,465.2 625.2,440 626,425 627.5,417 629.6,411 630.4,398.5 630.9,400 631.5,425 633,443 635,455 638.2,465.2 638.8,465.2 639.2,440 640,420 641.5,418 643,413.2 644.5,405 645,401.9 645.5,415 646.5,433 648.5,450 652.2,465.2 655.4,465.2 655.7,447 656.5,446 658,445 659.4,443.7 660.2,455 661.2,465.2 673.5,465.2" fill="none" stroke="#2a54b4" stroke-width="1.1" stroke-linejoin="round" />
<line x1="532.5" y1="365.6" x2="532.5" y2="470.5" stroke="#444" stroke-width="0.9" />
<line x1="532.5" y1="470.5" x2="673.8" y2="470.5" stroke="#444" stroke-width="0.9" />
<line x1="532.3" y1="465.2" x2="530.3" y2="465.2" stroke="#444" stroke-width="0.5" />
<text x="529.5" y="467.6" font-size="6.9" fill="#333" font-weight="normal" text-anchor="end" >0.0</text>
<line x1="532.3" y1="454.2" x2="530.3" y2="454.2" stroke="#444" stroke-width="0.5" />
<text x="530.4" y="456.6" font-size="6.9" fill="#333" font-weight="normal" text-anchor="end" >2.0 × 10<tspan font-size="4.3" dy="-2.8">-4</tspan></text>
<line x1="532.3" y1="443.2" x2="530.3" y2="443.2" stroke="#444" stroke-width="0.5" />
<text x="530.4" y="445.6" font-size="6.9" fill="#333" font-weight="normal" text-anchor="end" >4.0 × 10<tspan font-size="4.3" dy="-2.8">-4</tspan></text>
<line x1="532.3" y1="432.2" x2="530.3" y2="432.2" stroke="#444" stroke-width="0.5" />
<text x="530.4" y="434.6" font-size="6.9" fill="#333" font-weight="normal" text-anchor="end" >6.0 × 10<tspan font-size="4.3" dy="-2.8">-4</tspan></text>
<line x1="532.3" y1="421.2" x2="530.3" y2="421.2" stroke="#444" stroke-width="0.5" />
<text x="530.4" y="423.6" font-size="6.9" fill="#333" font-weight="normal" text-anchor="end" >8.0 × 10<tspan font-size="4.3" dy="-2.8">-4</tspan></text>
<line x1="532.3" y1="410.2" x2="530.3" y2="410.2" stroke="#444" stroke-width="0.5" />
<text x="530.4" y="412.6" font-size="6.9" fill="#333" font-weight="normal" text-anchor="end" >1.0 × 10<tspan font-size="4.3" dy="-2.8">-3</tspan></text>
<line x1="532.3" y1="399.2" x2="530.3" y2="399.2" stroke="#444" stroke-width="0.5" />
<text x="530.4" y="401.6" font-size="6.9" fill="#333" font-weight="normal" text-anchor="end" >1.2 × 10<tspan font-size="4.3" dy="-2.8">-3</tspan></text>
<line x1="532.3" y1="388.2" x2="530.3" y2="388.2" stroke="#444" stroke-width="0.5" />
<text x="530.4" y="390.6" font-size="6.9" fill="#333" font-weight="normal" text-anchor="end" >1.4 × 10<tspan font-size="4.3" dy="-2.8">-3</tspan></text>
<line x1="532.3" y1="377.2" x2="530.3" y2="377.2" stroke="#444" stroke-width="0.5" />
<text x="530.4" y="379.6" font-size="6.9" fill="#333" font-weight="normal" text-anchor="end" >1.6 × 10<tspan font-size="4.3" dy="-2.8">-3</tspan></text>
<line x1="532.3" y1="366.2" x2="530.3" y2="366.2" stroke="#444" stroke-width="0.5" />
<text x="530.4" y="368.6" font-size="6.9" fill="#333" font-weight="normal" text-anchor="end" >1.8 × 10<tspan font-size="4.3" dy="-2.8">-3</tspan></text>
<line x1="532.5" y1="470.9" x2="532.5" y2="472.9" stroke="#444" stroke-width="0.5" />
<text x="532.5" y="482" font-size="6.5" fill="#333" font-weight="normal" text-anchor="middle" >0</text>
<line x1="546.45" y1="470.9" x2="546.45" y2="472.9" stroke="#444" stroke-width="0.5" />
<text x="546.45" y="482" font-size="6.5" fill="#333" font-weight="normal" text-anchor="middle" >2 k</text>
<line x1="560.4" y1="470.9" x2="560.4" y2="472.9" stroke="#444" stroke-width="0.5" />
<text x="560.4" y="482" font-size="6.5" fill="#333" font-weight="normal" text-anchor="middle" >4 k</text>
<line x1="574.35" y1="470.9" x2="574.35" y2="472.9" stroke="#444" stroke-width="0.5" />
<text x="574.35" y="482" font-size="6.5" fill="#333" font-weight="normal" text-anchor="middle" >6 k</text>
<line x1="588.3" y1="470.9" x2="588.3" y2="472.9" stroke="#444" stroke-width="0.5" />
<text x="588.3" y="482" font-size="6.5" fill="#333" font-weight="normal" text-anchor="middle" >8 k</text>
<line x1="602.25" y1="470.9" x2="602.25" y2="472.9" stroke="#444" stroke-width="0.5" />
<text x="602.25" y="482" font-size="6.5" fill="#333" font-weight="normal" text-anchor="middle" >10 k</text>
<line x1="616.2" y1="470.9" x2="616.2" y2="472.9" stroke="#444" stroke-width="0.5" />
<text x="616.2" y="482" font-size="6.5" fill="#333" font-weight="normal" text-anchor="middle" >12 k</text>
<line x1="630.15" y1="470.9" x2="630.15" y2="472.9" stroke="#444" stroke-width="0.5" />
<text x="630.15" y="482" font-size="6.5" fill="#333" font-weight="normal" text-anchor="middle" >14 k</text>
<line x1="644.1" y1="470.9" x2="644.1" y2="472.9" stroke="#444" stroke-width="0.5" />
<text x="644.1" y="482" font-size="6.5" fill="#333" font-weight="normal" text-anchor="middle" >16 k</text>
<line x1="658.05" y1="470.9" x2="658.05" y2="472.9" stroke="#444" stroke-width="0.5" />
<text x="658.05" y="482" font-size="6.5" fill="#333" font-weight="normal" text-anchor="middle" >18 k</text>
<line x1="672" y1="470.9" x2="672" y2="472.9" stroke="#444" stroke-width="0.5" />
<text x="672" y="482" font-size="6.5" fill="#333" font-weight="normal" text-anchor="middle" >20 k</text>
<text x="607.3" y="490.5" font-size="6.4" fill="#333" font-weight="normal" text-anchor="middle" >Time(s)</text>
<text x="497.6" y="417.7" font-size="6.5" fill="#222" font-weight="bold" text-anchor="middle" transform="rotate(-90 497.6 417.7)">Current(A)</text>
<text x="0.3" y="516.2" font-size="13.5" fill="#231815" font-weight="bold" text-anchor="start" >l</text>
<circle cx="24.9" cy="533.6" r="17.6" fill="#afb3b8" stroke="none" stroke-width="1" />
<ellipse cx="24.9" cy="546.3" rx="15.5" ry="3.2" fill="#cdd1d6"/>
<text x="24.5" y="521.6" font-size="3.6" fill="#333" font-weight="bold" text-anchor="middle" >Releasing</text>
<text x="24.5" y="525" font-size="2.8" fill="#555" font-weight="normal" text-anchor="middle" >nanomagnet</text>
<rect x="15.5" y="527.5" width="3" height="13.46" fill="#2aa6e0" stroke="none" stroke-width="1" />
<rect x="15.5" y="540.96" width="3" height="3.96" fill="#2e9e46" stroke="none" stroke-width="1" />
<rect x="15.5" y="544.92" width="3" height="2.38" fill="#e8e03a" stroke="none" stroke-width="1" />
<line x1="15.5" y1="528.3" x2="18.5" y2="528.3" stroke="#1a86c0" stroke-width="0.3" />
<line x1="15.5" y1="529.9" x2="18.5" y2="529.9" stroke="#1a86c0" stroke-width="0.3" />
<line x1="15.5" y1="531.5" x2="18.5" y2="531.5" stroke="#1a86c0" stroke-width="0.3" />
<line x1="15.5" y1="533.1" x2="18.5" y2="533.1" stroke="#1a86c0" stroke-width="0.3" />
<line x1="15.5" y1="534.7" x2="18.5" y2="534.7" stroke="#1a86c0" stroke-width="0.3" />
<line x1="15.5" y1="536.3" x2="18.5" y2="536.3" stroke="#1a86c0" stroke-width="0.3" />
<line x1="15.5" y1="537.9" x2="18.5" y2="537.9" stroke="#1a86c0" stroke-width="0.3" />
<line x1="15.5" y1="539.5" x2="18.5" y2="539.5" stroke="#1a86c0" stroke-width="0.3" />
<circle cx="17" cy="526.9" r="1.6" fill="#2aa6e0" stroke="none" stroke-width="1" />
<circle cx="17" cy="526.9" r="0.9" fill="#e03a5a" stroke="none" stroke-width="1" />
<rect x="20" y="526.8" width="3" height="11.36" fill="#2aa6e0" stroke="none" stroke-width="1" />
<rect x="20" y="538.16" width="3" height="3.34" fill="#2e9e46" stroke="none" stroke-width="1" />
<rect x="20" y="541.5" width="3" height="2" fill="#e8e03a" stroke="none" stroke-width="1" />
<line x1="20" y1="527.6" x2="23" y2="527.6" stroke="#1a86c0" stroke-width="0.3" />
<line x1="20" y1="529.2" x2="23" y2="529.2" stroke="#1a86c0" stroke-width="0.3" />
<line x1="20" y1="530.8" x2="23" y2="530.8" stroke="#1a86c0" stroke-width="0.3" />
<line x1="20" y1="532.4" x2="23" y2="532.4" stroke="#1a86c0" stroke-width="0.3" />
<line x1="20" y1="534" x2="23" y2="534" stroke="#1a86c0" stroke-width="0.3" />
<line x1="20" y1="535.6" x2="23" y2="535.6" stroke="#1a86c0" stroke-width="0.3" />
<line x1="20" y1="537.2" x2="23" y2="537.2" stroke="#1a86c0" stroke-width="0.3" />
<circle cx="21.5" cy="526.2" r="1.6" fill="#2aa6e0" stroke="none" stroke-width="1" />
<circle cx="21.5" cy="526.2" r="0.9" fill="#e03a5a" stroke="none" stroke-width="1" />
<rect x="24.3" y="530.5" width="3" height="11.42" fill="#2aa6e0" stroke="none" stroke-width="1" />
<rect x="24.3" y="541.92" width="3" height="3.36" fill="#2e9e46" stroke="none" stroke-width="1" />
<rect x="24.3" y="545.28" width="3" height="2.02" fill="#e8e03a" stroke="none" stroke-width="1" />
<line x1="24.3" y1="531.3" x2="27.3" y2="531.3" stroke="#1a86c0" stroke-width="0.3" />
<line x1="24.3" y1="532.9" x2="27.3" y2="532.9" stroke="#1a86c0" stroke-width="0.3" />
<line x1="24.3" y1="534.5" x2="27.3" y2="534.5" stroke="#1a86c0" stroke-width="0.3" />
<line x1="24.3" y1="536.1" x2="27.3" y2="536.1" stroke="#1a86c0" stroke-width="0.3" />
<line x1="24.3" y1="537.7" x2="27.3" y2="537.7" stroke="#1a86c0" stroke-width="0.3" />
<line x1="24.3" y1="539.3" x2="27.3" y2="539.3" stroke="#1a86c0" stroke-width="0.3" />
<line x1="24.3" y1="540.9" x2="27.3" y2="540.9" stroke="#1a86c0" stroke-width="0.3" />
<circle cx="25.8" cy="529.9" r="1.6" fill="#2aa6e0" stroke="none" stroke-width="1" />
<circle cx="25.8" cy="529.9" r="0.9" fill="#e03a5a" stroke="none" stroke-width="1" />
<rect x="29.2" y="528" width="3" height="11.42" fill="#2aa6e0" stroke="none" stroke-width="1" />
<rect x="29.2" y="539.42" width="3" height="3.36" fill="#2e9e46" stroke="none" stroke-width="1" />
<rect x="29.2" y="542.78" width="3" height="2.02" fill="#e8e03a" stroke="none" stroke-width="1" />
<line x1="29.2" y1="528.8" x2="32.2" y2="528.8" stroke="#1a86c0" stroke-width="0.3" />
<line x1="29.2" y1="530.4" x2="32.2" y2="530.4" stroke="#1a86c0" stroke-width="0.3" />
<line x1="29.2" y1="532" x2="32.2" y2="532" stroke="#1a86c0" stroke-width="0.3" />
<line x1="29.2" y1="533.6" x2="32.2" y2="533.6" stroke="#1a86c0" stroke-width="0.3" />
<line x1="29.2" y1="535.2" x2="32.2" y2="535.2" stroke="#1a86c0" stroke-width="0.3" />
<line x1="29.2" y1="536.8" x2="32.2" y2="536.8" stroke="#1a86c0" stroke-width="0.3" />
<line x1="29.2" y1="538.4" x2="32.2" y2="538.4" stroke="#1a86c0" stroke-width="0.3" />
<circle cx="30.7" cy="527.4" r="1.6" fill="#2aa6e0" stroke="none" stroke-width="1" />
<circle cx="30.7" cy="527.4" r="0.9" fill="#e03a5a" stroke="none" stroke-width="1" />
<text x="35" y="530.6" font-size="2.6" fill="#444" font-weight="normal" text-anchor="start" >PS</text>
<text x="35" y="536.2" font-size="2.6" fill="#444" font-weight="normal" text-anchor="start" >CP</text>
<text x="35" y="542.2" font-size="2.6" fill="#444" font-weight="normal" text-anchor="start" >CP</text>
<text x="35" y="545.4" font-size="2.6" fill="#444" font-weight="normal" text-anchor="start" >Si</text>
<rect x="47.2" y="516.9" width="37.2" height="28.5" fill="#707070" stroke="none" stroke-width="1" />
<rect x="47.6" y="516.9" width="0.8" height="28.5" fill="#969696" stroke="none" stroke-width="1" />
<rect x="49.55" y="516.9" width="0.8" height="28.5" fill="#969696" stroke="none" stroke-width="1" />
<rect x="51.5" y="516.9" width="0.8" height="28.5" fill="#969696" stroke="none" stroke-width="1" />
<rect x="53.45" y="516.9" width="0.8" height="28.5" fill="#969696" stroke="none" stroke-width="1" />
<rect x="55.4" y="516.9" width="0.8" height="28.5" fill="#969696" stroke="none" stroke-width="1" />
<rect x="57.35" y="516.9" width="0.8" height="28.5" fill="#969696" stroke="none" stroke-width="1" />
<rect x="59.3" y="516.9" width="0.8" height="28.5" fill="#969696" stroke="none" stroke-width="1" />
<rect x="61.25" y="516.9" width="0.8" height="28.5" fill="#969696" stroke="none" stroke-width="1" />
<rect x="63.2" y="516.9" width="0.8" height="28.5" fill="#969696" stroke="none" stroke-width="1" />
<rect x="65.15" y="516.9" width="0.8" height="28.5" fill="#969696" stroke="none" stroke-width="1" />
<rect x="67.1" y="516.9" width="0.8" height="28.5" fill="#969696" stroke="none" stroke-width="1" />
<rect x="69.05" y="516.9" width="0.8" height="28.5" fill="#969696" stroke="none" stroke-width="1" />
<rect x="71" y="516.9" width="0.8" height="28.5" fill="#969696" stroke="none" stroke-width="1" />
<rect x="72.95" y="516.9" width="0.8" height="28.5" fill="#969696" stroke="none" stroke-width="1" />
<rect x="74.9" y="516.9" width="0.8" height="28.5" fill="#969696" stroke="none" stroke-width="1" />
<rect x="76.85" y="516.9" width="0.8" height="28.5" fill="#969696" stroke="none" stroke-width="1" />
<rect x="78.8" y="516.9" width="0.8" height="28.5" fill="#969696" stroke="none" stroke-width="1" />
<rect x="80.75" y="516.9" width="0.8" height="28.5" fill="#969696" stroke="none" stroke-width="1" />
<rect x="82.7" y="516.9" width="0.8" height="28.5" fill="#969696" stroke="none" stroke-width="1" />
<circle cx="75.7" cy="524.3" r="5.2" fill="#1a1a1a" stroke="#c8a040" stroke-width="0.5" />
<ellipse cx="75.7" cy="524.6" rx="3.6" ry="2.6" fill="#e8e8e8"/>
<rect x="69.5" y="528.6" width="14.9" height="3.2" fill="#111" stroke="none" stroke-width="1" />
<text x="77" y="531.2" font-size="2.8" fill="#fff" font-weight="normal" text-anchor="middle" >θ = 90.2°</text>
<rect x="75.7" y="541.7" width="8.7" height="3.7" fill="#111" stroke="none" stroke-width="1" />
<rect x="76.6" y="542.4" width="6.9" height="0.7" fill="#fff" stroke="none" stroke-width="1" />
<path d="M34.1,569.5 L94.4,569.5 L94.4,577.3 L34.1,577.3 Z" fill="#6a92ba" stroke="none" stroke-width="1" />
<path d="M34.1,570.5 L43.8,551.6 L84.2,551.6 L94.4,570.5 Z" fill="#d3dbc2" stroke="none" stroke-width="1" />
<path d="M42.3,566 L48.9,549 L54.5,549 L51.0,566 Z" fill="#e6ecd8" stroke="none" stroke-width="1" />
<path d="M42.3,566 L48.9,549 L50.1,549 L43.9,566 Z" fill="#c8d0b8" stroke="none" stroke-width="1" />
<path d="M51.0,566 L54.5,549 L55.4,549.6 L51.9,566.7 Z" fill="#6a7898" stroke="none" stroke-width="1" />
<rect x="42.3" y="566" width="8.7" height="1.5" fill="#dfe5d0" stroke="none" stroke-width="1" />
<rect x="42.3" y="567.5" width="8.7" height="1.3" fill="#c23846" stroke="none" stroke-width="1" />
<rect x="42.3" y="568.8" width="8.7" height="0.9" fill="#7a7a80" stroke="none" stroke-width="1" />
<path d="M59.6,566 L61.2,549 L66.8,549 L67.8,566 Z" fill="#e6ecd8" stroke="none" stroke-width="1" />
<path d="M59.6,566 L61.2,549 L62.400000000000006,549 L61.2,566 Z" fill="#c8d0b8" stroke="none" stroke-width="1" />
<path d="M67.8,566 L66.8,549 L67.7,549.6 L68.7,566.7 Z" fill="#6a7898" stroke="none" stroke-width="1" />
<rect x="59.6" y="566" width="8.2" height="1.5" fill="#dfe5d0" stroke="none" stroke-width="1" />
<rect x="59.6" y="567.5" width="8.2" height="1.3" fill="#c23846" stroke="none" stroke-width="1" />
<rect x="59.6" y="568.8" width="8.2" height="0.9" fill="#7a7a80" stroke="none" stroke-width="1" />
<path d="M77.0,566 L72.4,549 L78.0,549 L85.7,566 Z" fill="#e6ecd8" stroke="none" stroke-width="1" />
<path d="M77.0,566 L72.4,549 L73.60000000000001,549 L78.6,566 Z" fill="#c8d0b8" stroke="none" stroke-width="1" />
<path d="M85.7,566 L78.0,549 L78.9,549.6 L86.60000000000001,566.7 Z" fill="#6a7898" stroke="none" stroke-width="1" />
<rect x="77" y="566" width="8.7" height="1.5" fill="#dfe5d0" stroke="none" stroke-width="1" />
<rect x="77" y="567.5" width="8.7" height="1.3" fill="#c23846" stroke="none" stroke-width="1" />
<rect x="77" y="568.8" width="8.7" height="0.9" fill="#7a7a80" stroke="none" stroke-width="1" />
<rect x="34.1" y="569.2" width="8.2" height="1" fill="#d6dcc8" stroke="none" stroke-width="1" />
<rect x="34.1" y="570.2" width="8.2" height="1" fill="#b84050" stroke="none" stroke-width="1" />
<rect x="51" y="569.2" width="8.6" height="1" fill="#d6dcc8" stroke="none" stroke-width="1" />
<rect x="51" y="570.2" width="8.6" height="1" fill="#b84050" stroke="none" stroke-width="1" />
<rect x="67.8" y="569.2" width="9.2" height="1" fill="#d6dcc8" stroke="none" stroke-width="1" />
<rect x="67.8" y="570.2" width="9.2" height="1" fill="#b84050" stroke="none" stroke-width="1" />
<rect x="85.7" y="569.2" width="8.7" height="1" fill="#d6dcc8" stroke="none" stroke-width="1" />
<rect x="85.7" y="570.2" width="8.7" height="1" fill="#b84050" stroke="none" stroke-width="1" />
<text x="63.8" y="576.5" font-size="3.6" fill="#fff" font-weight="normal" text-anchor="middle" >Si</text>
<rect x="7" y="557.6" width="18.5" height="5.4" fill="#7c7c7c" stroke="none" stroke-width="1" rx="0.8"/>
<text x="16.2" y="561.5" font-size="3.4" fill="#fff" font-weight="normal" text-anchor="middle" >PdAu</text>
<rect x="7" y="567" width="18.5" height="6.2" fill="#e6282a" stroke="none" stroke-width="1" rx="0.8"/>
<text x="16.2" y="571.2" font-size="3.4" fill="#fff" font-weight="normal" text-anchor="middle" >SAM</text>
<line x1="25.5" y1="560.3" x2="36" y2="564" stroke="#222" stroke-width="0.4" />
<line x1="25.5" y1="570" x2="34" y2="572" stroke="#222" stroke-width="0.4" />
<text x="50" y="583.6" font-size="3.65" fill="#444" font-weight="normal" text-anchor="middle" >Preparation of PdAu/SAM on Si stamp</text>
<path d="M104.8,530.7 L104.8,552.7 M106,530.7 L104.8,530.7 M106,552.7 L104.8,552.7 M122.5,530.7 L123.7,530.7 L123.7,552.7 L122.5,552.7" fill="none" stroke="#999" stroke-width="0.4" />
<path d="M108,536 L111,533 L115,533 L117,536 L115,539 L111,539 Z M113,539 L113,546" fill="none" stroke="#999" stroke-width="0.4" />
<line x1="101.5" y1="545.6" x2="126" y2="545.6" stroke="#aaa" stroke-width="0.4" stroke-dasharray="1 0.6"/>
<path d="M126.3,541 L136.8,539.7 L157.8,541.4 C161,542.5 163.5,544 164.5,545.2 C164.8,552 163.5,562 160.3,570.3 C155,566 150,560 145.2,555.2 C140,551.5 132,548.5 126.7,547.7 Z" fill="#2a5c9e" stroke="none" stroke-width="1" />
<path d="M130,541.2 L157.8,541.8 C160.5,543 162.5,545 163.2,546.8 C162.8,550 161.8,553 160.3,555.5 C154,553 150,551 145.2,548.5 C140,545.5 135,543.5 130,542.8 Z" fill="#173a6e" stroke="none" stroke-width="1" />
<path d="M125.9,533.4 L137.6,525.9 L166.1,528 L164.5,536.5 Z" fill="#72aee0" stroke="none" stroke-width="1" />
<path d="M125.9,533.4 L164.5,536.5 L164.5,538.9 L125.9,536.4 Z" fill="#9ac6e6" stroke="none" stroke-width="1" />
<path d="M164.5,536.5 L166.1,528 L166.1,530.5 L164.5,538.9 Z" fill="#4a88c0" stroke="none" stroke-width="1" />
<rect x="131" y="538.6" width="5" height="2.6" fill="#9ac6e6" stroke="none" stroke-width="1" />
<rect x="131" y="540.2" width="5" height="0.9" fill="#d06a6a" stroke="none" stroke-width="1" />
<rect x="139.8" y="538.85" width="5" height="2.6" fill="#9ac6e6" stroke="none" stroke-width="1" />
<rect x="139.8" y="540.45" width="5" height="0.9" fill="#d06a6a" stroke="none" stroke-width="1" />
<rect x="148.6" y="539.1" width="5" height="2.6" fill="#9ac6e6" stroke="none" stroke-width="1" />
<rect x="148.6" y="540.7" width="5" height="0.9" fill="#d06a6a" stroke="none" stroke-width="1" />
<rect x="157.4" y="539.35" width="5" height="2.6" fill="#9ac6e6" stroke="none" stroke-width="1" />
<rect x="157.4" y="540.95" width="5" height="0.9" fill="#d06a6a" stroke="none" stroke-width="1" />
<rect x="109" y="560" width="26.2" height="7.3" fill="#2a5a98" stroke="none" stroke-width="1" rx="1"/>
<text x="122" y="565" font-size="3.4" fill="#fff" font-weight="normal" text-anchor="middle" >PS substrate</text>
<line x1="135.2" y1="563.7" x2="145" y2="556.3" stroke="#222" stroke-width="0.4" />
<text x="137.5" y="583.8" font-size="3.66" fill="#444" font-weight="normal" text-anchor="middle" >Stamp attachment on PS substrate</text>
<path d="M6.4,618.2 L15.3,606.7 L52.4,608 L48.5,620.8 Z" fill="#72a8da" stroke="none" stroke-width="1" />
<path d="M6.4,618.2 L48.5,620.8 L48.5,624 L6.4,621.5 Z" fill="#8abce4" stroke="none" stroke-width="1" />
<path d="M6.4,621.5 L48.5,624 L48.5,633.5 L6.4,630.5 Z" fill="#254f86" stroke="none" stroke-width="1" />
<path d="M48.5,620.8 L52.4,608 L52.4,621 L48.5,633.5 Z" fill="#1e4070" stroke="none" stroke-width="1" />
<path d="M9.0,621.9 L14.0,622.2 L14.0,624.6 L9.0,624.3 Z" fill="#8abce4" stroke="none" stroke-width="1" />
<rect x="9" y="623.5" width="5" height="0.8" fill="#d06a6a" stroke="none" stroke-width="1" />
<path d="M19.5,622.5 L24.5,622.8000000000001 L24.5,625.2 L19.5,624.9 Z" fill="#8abce4" stroke="none" stroke-width="1" />
<rect x="19.5" y="624.1" width="5" height="0.8" fill="#d06a6a" stroke="none" stroke-width="1" />
<path d="M30.0,623.1 L35.0,623.4000000000001 L35.0,625.8000000000001 L30.0,625.5 Z" fill="#8abce4" stroke="none" stroke-width="1" />
<rect x="30" y="624.7" width="5" height="0.8" fill="#d06a6a" stroke="none" stroke-width="1" />
<path d="M40.5,623.6999999999999 L45.5,624.0 L45.5,626.4 L40.5,626.0999999999999 Z" fill="#8abce4" stroke="none" stroke-width="1" />
<rect x="40.5" y="625.3" width="5" height="0.8" fill="#d06a6a" stroke="none" stroke-width="1" />
<path d="M21.4,599 L24.6,599 L24.6,605 L26.2,605 L23,610.5 L19.8,605 L21.4,605 Z" fill="#1ea650" stroke="none" stroke-width="1" />
<path d="M29.599999999999998,599 L32.8,599 L32.8,605 L34.4,605 L31.2,610.5 L28.0,605 L29.599999999999998,605 Z" fill="#1ea650" stroke="none" stroke-width="1" />
<path d="M39.199999999999996,599 L42.4,599 L42.4,605 L44.0,605 L40.8,610.5 L37.599999999999994,605 L39.199999999999996,605 Z" fill="#1ea650" stroke="none" stroke-width="1" />
<text x="32.5" y="595.6" font-size="3.66" fill="#333" font-weight="normal" text-anchor="middle" >Pressing at 1.100 MPa</text>
<text x="28" y="639.8" font-size="3.64" fill="#333" font-weight="normal" text-anchor="middle" >Thermal treatment at 120 °C</text>
<path d="M63.9,623.3 L74,610.5 L108.6,612.6 L104.8,625.9 Z" fill="#8a8e90" stroke="none" stroke-width="1" />
<path d="M66.0,623.8 L75.5,611.0 L79.0,611.2 L69.5,624.1 Z" fill="#3c3e42" stroke="none" stroke-width="1" />
<path d="M75.5,624.0999999999999 L85.0,611.3 L88.5,611.5 L79.0,624.4 Z" fill="#3c3e42" stroke="none" stroke-width="1" />
<path d="M85.0,624.4 L94.5,611.6 L98.0,611.8000000000001 L88.5,624.7 Z" fill="#3c3e42" stroke="none" stroke-width="1" />
<path d="M94.5,624.6999999999999 L104.0,611.9 L107.5,612.1 L98.0,625.0 Z" fill="#3c3e42" stroke="none" stroke-width="1" />
<path d="M63.9,623.3 L104.8,625.9 L104.8,634.8 L63.9,631.5 Z" fill="#254f86" stroke="none" stroke-width="1" />
<path d="M104.8,625.9 L108.6,612.6 L108.6,622 L104.8,634.8 Z" fill="#1e4070" stroke="none" stroke-width="1" />
<path d="M62.6,605.4 L70.3,597.8 L109.9,599.8 L103.5,609.3 Z" fill="#6ea8dc" stroke="none" stroke-width="1" />
<path d="M62.6,605.4 L103.5,609.3 L103.5,611 L62.6,607.3 Z" fill="#9cc8ea" stroke="none" stroke-width="1" />
<path d="M103.5,609.3 L109.9,599.8 L109.9,601.5 L103.5,611 Z" fill="#4c8ac0" stroke="none" stroke-width="1" />
<path d="M80.9,600.3 L83.9,600.3 L83.9,594.6 L85.4,594.6 L82.4,589.6 L79.4,594.6 L80.9,594.6 Z" fill="#2aa8e4" stroke="none" stroke-width="1" />
<path d="M88.5,600.3 L91.5,600.3 L91.5,594.6 L93,594.6 L90,589.6 L87,594.6 L88.5,594.6 Z" fill="#2aa8e4" stroke="none" stroke-width="1" />
<path d="M97.5,600.3 L100.5,600.3 L100.5,594.6 L102,594.6 L99,589.6 L96,594.6 L97.5,594.6 Z" fill="#2aa8e4" stroke="none" stroke-width="1" />
<text x="86.5" y="639.8" font-size="3.64" fill="#333" font-weight="normal" text-anchor="middle" >Stamp detachment at 95 °C</text>
<path d="M121.4,623.3 L130.3,609.3 L167.3,610.5 L163.5,624.6 Z" fill="#d8d8d0" stroke="none" stroke-width="1" />
<path d="M127,623.5 L135,610.0 L137,610.1 L129,623.7 Z" fill="#6a7080" stroke="none" stroke-width="1" />
<path d="M135,623.8 L143,610.3 L145,610.4 L137,624.0 Z" fill="#6a7080" stroke="none" stroke-width="1" />
<path d="M143,624.1 L151,610.6 L153,610.7 L145,624.3000000000001 Z" fill="#6a7080" stroke="none" stroke-width="1" />
<path d="M151,624.4 L159,610.9 L161,611.0 L153,624.6 Z" fill="#6a7080" stroke="none" stroke-width="1" />
<path d="M121.4,623.3 L163.5,624.6 L163.5,634.8 L121.4,632 Z" fill="#254f86" stroke="none" stroke-width="1" />
<path d="M163.5,624.6 L167.3,610.5 L167.3,622 L163.5,634.8 Z" fill="#1e4070" stroke="none" stroke-width="1" />
<path d="M121.4,623.3 L130,609.5 L135,609.7 L126.5,623.5 Z" fill="#f0d020" stroke="none" stroke-width="1" />
<path d="M121.4,619.5 L121.4,623.3 L126.5,623.5 L126.5,620 Z" fill="#c8a810" stroke="none" stroke-width="1" />
<path d="M157.8,624.4 L163,611 L167.3,611.2 L163.5,624.6 Z" fill="#f0d020" stroke="none" stroke-width="1" />
<path d="M157.8,620 L157.8,624.4 L163.5,624.6 L163.5,620.5 Z" fill="#d0b010" stroke="none" stroke-width="1" />
<rect x="140.5" y="594.7" width="26.8" height="5.6" fill="#f2e43a" stroke="#333" stroke-width="0.4" rx="0.8"/>
<text x="153.9" y="598.9" font-size="3.5" fill="#333" font-weight="normal" text-anchor="middle" >Au electrode</text>
<line x1="157" y1="600.3" x2="161.5" y2="611" stroke="#222" stroke-width="0.4" />
<text x="145.7" y="639.8" font-size="3.67" fill="#333" font-weight="normal" text-anchor="middle" >Electrode metal deposition</text>
<text x="161" y="516.2" font-size="13.5" fill="#231815" font-weight="bold" text-anchor="start" >m</text>
<rect x="180.9" y="517.9" width="76.1" height="58.1" fill="url(#gm1)" stroke="none" stroke-width="1" />
<rect x="180.9" y="517.9" width="76.1" height="58.1" fill="#000" stroke="none" stroke-width="1" filter="url(#noise)" opacity="0.38"/>
<rect x="180.9" y="517.9" width="76.1" height="58.1" fill="#fff" stroke="none" stroke-width="1" filter="url(#noiseW)" opacity="0.16"/>
<rect x="260" y="517.9" width="76.2" height="58.5" fill="url(#gm2)" stroke="none" stroke-width="1" />
<rect x="260" y="517.9" width="76.2" height="58.5" fill="#000" stroke="none" stroke-width="1" filter="url(#noise)" opacity="0.38"/>
<rect x="260" y="517.9" width="76.2" height="58.5" fill="#fff" stroke="none" stroke-width="1" filter="url(#noiseW)" opacity="0.16"/>
<rect x="180.9" y="578.6" width="76.1" height="58" fill="url(#gm3)" stroke="none" stroke-width="1" />
<rect x="180.9" y="578.6" width="76.1" height="58" fill="#000" stroke="none" stroke-width="1" filter="url(#noise)" opacity="0.38"/>
<rect x="180.9" y="578.6" width="76.1" height="58" fill="#fff" stroke="none" stroke-width="1" filter="url(#noiseW)" opacity="0.16"/>
<rect x="260" y="578" width="76.2" height="59" fill="url(#gm4)" stroke="none" stroke-width="1" />
<rect x="260" y="578" width="76.2" height="59" fill="#000" stroke="none" stroke-width="1" filter="url(#noise)" opacity="0.38"/>
<rect x="260" y="578" width="76.2" height="59" fill="#fff" stroke="none" stroke-width="1" filter="url(#noiseW)" opacity="0.16"/>
<rect x="180.7" y="517.8" width="25.1" height="12.7" fill="#111" stroke="none" stroke-width="1" />
<text x="182.9" y="522.8" font-size="5.0" fill="#fff" font-weight="bold" text-anchor="start" >T &lt; 90 °C</text>
<text x="183.9" y="529.1" font-size="5.0" fill="#f0b020" font-weight="bold" text-anchor="start" >~ 40 nm</text>
<rect x="260" y="517.8" width="25.1" height="12.7" fill="#111" stroke="none" stroke-width="1" />
<text x="262.2" y="522.8" font-size="5.0" fill="#fff" font-weight="bold" text-anchor="start" >T ~ 95 °C</text>
<text x="263.2" y="529.1" font-size="5.0" fill="#f0b020" font-weight="bold" text-anchor="start" >~ 15 nm</text>
<rect x="180.7" y="578.6" width="25.1" height="12.7" fill="#111" stroke="none" stroke-width="1" />
<text x="182.9" y="583.6" font-size="5.0" fill="#fff" font-weight="bold" text-anchor="start" >T ~ 100 °C</text>
<text x="183.9" y="589.9" font-size="5.0" fill="#f0b020" font-weight="bold" text-anchor="start" >~ 3 nm</text>
<rect x="260" y="578.6" width="25.1" height="12.7" fill="#111" stroke="none" stroke-width="1" />
<text x="262.2" y="583.6" font-size="5.0" fill="#fff" font-weight="bold" text-anchor="start" >T &gt; 105 °C</text>
<text x="263.2" y="589.9" font-size="5.0" fill="#f0b020" font-weight="bold" text-anchor="start" >Overlap</text>
<rect x="232.6" y="566" width="24.3" height="9.5" fill="#111" stroke="none" stroke-width="1" />
<text x="244.8" y="571.6" font-size="5.2" fill="#fff" font-weight="bold" text-anchor="middle" >100 nm</text>
<rect x="235.1" y="573" width="19.3" height="1.3" fill="#fff" stroke="none" stroke-width="1" />
<rect x="311" y="566" width="24.3" height="9.5" fill="#111" stroke="none" stroke-width="1" />
<text x="323.2" y="571.6" font-size="5.2" fill="#fff" font-weight="bold" text-anchor="middle" >100 nm</text>
<rect x="313.5" y="573" width="19.3" height="1.3" fill="#fff" stroke="none" stroke-width="1" />
<rect x="232.6" y="626.6" width="24.3" height="9.5" fill="#111" stroke="none" stroke-width="1" />
<text x="244.8" y="632.2" font-size="5.2" fill="#fff" font-weight="bold" text-anchor="middle" >100 nm</text>
<rect x="235.1" y="633.6" width="19.3" height="1.3" fill="#fff" stroke="none" stroke-width="1" />
<rect x="311" y="626.6" width="24.3" height="9.5" fill="#111" stroke="none" stroke-width="1" />
<text x="323.2" y="632.2" font-size="5.2" fill="#fff" font-weight="bold" text-anchor="middle" >100 nm</text>
<rect x="313.5" y="633.6" width="19.3" height="1.3" fill="#fff" stroke="none" stroke-width="1" />
<text x="339.1" y="516.5" font-size="13.5" fill="#231815" font-weight="bold" text-anchor="start" >n</text>
<polyline points="372,624.68 374.3,624.04 374.6,580.77 374.9,555.83 375.5,550.2 376.4,546.18 377.2,544.57 377.6,546.99 377.9,592.83 378.2,622.45 380.6,624.04 386.11,624.04 386.41,581.47 386.71,556.93 387.31,551.39 388.21,547.43 389.01,545.85 389.41,548.23 389.71,593.34 390.01,622.45 392.41,624.04 398,624.04 398.3,583.57 398.6,560.23 399.2,554.95 400.1,551.19 400.9,549.68 401.3,551.94 401.6,594.87 401.9,622.45 404.3,624.04 410.03,624.04 410.33,588.84 410.63,568.46 411.23,563.86 412.13,560.57 412.93,559.26 413.33,561.23 413.63,598.7 413.93,622.45 416.33,624.04 422.16,624.04 422.46,592.35 422.76,573.95 423.36,569.79 424.26,566.83 425.06,565.64 425.46,567.42 425.76,601.26 426.06,622.45 428.46,624.04 433.93,624.04 434.23,596.56 434.53,580.54 435.13,576.92 436.03,574.33 436.83,573.3 437.23,574.85 437.53,604.32 437.83,622.45 440.23,624.04 445.69,624.04 445.99,602.18 446.29,589.32 446.89,586.41 447.79,584.34 448.59,583.51 448.99,584.76 449.29,608.4 449.59,622.45 451.99,624.04 457.46,624.04 457.76,615.87 458.06,610.73 458.66,609.57 459.56,608.74 460.36,608.4 460.76,608.9 461.06,618.36 461.36,622.45 462.76,623.09 463.76,624.04 468.87,624.04 469.17,620.09 469.47,617.31 470.07,616.69 470.97,616.24 471.77,616.06 472.17,616.33 472.47,621.43 472.77,622.45 474.17,623.09 475.17,624.04 480.11,624.04 480.41,622.54 480.71,621.16 481.31,620.84 482.21,620.62 483.01,620.53 483.41,620.67 483.71,623.21 484.01,622.45 485.41,623.09 486.41,624.04 491.52,624.04 491.82,622.72 492.12,621.43 492.72,621.14 493.62,620.93 494.42,620.85 494.82,620.98 495.12,623.34 495.42,622.45 496.82,623.09 497.82,624.04 504.83,624.04" fill="none" stroke="#3a78c8" stroke-width="1.5" stroke-linejoin="round" />
<rect x="366.5" y="516.5" width="139" height="112" fill="none" stroke="#222" stroke-width="0.9" />
<line x1="366.5" y1="625" x2="368.5" y2="625" stroke="#222" stroke-width="0.6" />
<line x1="366.5" y1="615.4" x2="367.7" y2="615.4" stroke="#222" stroke-width="0.6" />
<text x="362.2" y="627.7" font-size="7.6" fill="#222" font-weight="bold" text-anchor="end" >0</text>
<line x1="366.5" y1="605.85" x2="368.5" y2="605.85" stroke="#222" stroke-width="0.6" />
<line x1="366.5" y1="596.25" x2="367.7" y2="596.25" stroke="#222" stroke-width="0.6" />
<text x="362.2" y="608.55" font-size="7.6" fill="#222" font-weight="bold" text-anchor="end" >3</text>
<line x1="366.5" y1="586.7" x2="368.5" y2="586.7" stroke="#222" stroke-width="0.6" />
<line x1="366.5" y1="577.1" x2="367.7" y2="577.1" stroke="#222" stroke-width="0.6" />
<text x="362.2" y="589.4" font-size="7.6" fill="#222" font-weight="bold" text-anchor="end" >6</text>
<line x1="366.5" y1="567.55" x2="368.5" y2="567.55" stroke="#222" stroke-width="0.6" />
<line x1="366.5" y1="557.95" x2="367.7" y2="557.95" stroke="#222" stroke-width="0.6" />
<text x="362.2" y="570.25" font-size="7.6" fill="#222" font-weight="bold" text-anchor="end" >9</text>
<line x1="366.5" y1="548.4" x2="368.5" y2="548.4" stroke="#222" stroke-width="0.6" />
<line x1="366.5" y1="538.8" x2="367.7" y2="538.8" stroke="#222" stroke-width="0.6" />
<text x="362.2" y="551.1" font-size="7.6" fill="#222" font-weight="bold" text-anchor="end" >12</text>
<line x1="366.5" y1="529.25" x2="368.5" y2="529.25" stroke="#222" stroke-width="0.6" />
<line x1="366.5" y1="519.65" x2="367.7" y2="519.65" stroke="#222" stroke-width="0.6" />
<text x="362.2" y="531.96" font-size="7.6" fill="#222" font-weight="bold" text-anchor="end" >15</text>
<line x1="372" y1="628.5" x2="372" y2="630.5" stroke="#222" stroke-width="0.6" />
<line x1="385.4" y1="628.5" x2="385.4" y2="629.8" stroke="#222" stroke-width="0.6" />
<text x="372" y="639.5" font-size="7.6" fill="#222" font-weight="bold" text-anchor="middle" >0</text>
<line x1="398.75" y1="628.5" x2="398.75" y2="630.5" stroke="#222" stroke-width="0.6" />
<line x1="412.14" y1="628.5" x2="412.14" y2="629.8" stroke="#222" stroke-width="0.6" />
<text x="398.75" y="639.5" font-size="7.6" fill="#222" font-weight="bold" text-anchor="middle" >15</text>
<line x1="425.49" y1="628.5" x2="425.49" y2="630.5" stroke="#222" stroke-width="0.6" />
<line x1="438.89" y1="628.5" x2="438.89" y2="629.8" stroke="#222" stroke-width="0.6" />
<text x="425.49" y="639.5" font-size="7.6" fill="#222" font-weight="bold" text-anchor="middle" >30</text>
<line x1="452.24" y1="628.5" x2="452.24" y2="630.5" stroke="#222" stroke-width="0.6" />
<line x1="465.63" y1="628.5" x2="465.63" y2="629.8" stroke="#222" stroke-width="0.6" />
<text x="452.24" y="639.5" font-size="7.6" fill="#222" font-weight="bold" text-anchor="middle" >45</text>
<line x1="478.98" y1="628.5" x2="478.98" y2="630.5" stroke="#222" stroke-width="0.6" />
<line x1="492.38" y1="628.5" x2="492.38" y2="629.8" stroke="#222" stroke-width="0.6" />
<text x="478.98" y="639.5" font-size="7.6" fill="#222" font-weight="bold" text-anchor="middle" >60</text>
<line x1="505.73" y1="628.5" x2="505.73" y2="630.5" stroke="#222" stroke-width="0.6" />
<text x="505.73" y="639.5" font-size="7.6" fill="#222" font-weight="bold" text-anchor="middle" >75</text>
<text x="438.5" y="649.3" font-size="7.3" fill="#222" font-weight="bold" text-anchor="middle" >Time (min)</text>
<text x="345.5" y="571" font-size="7.3" fill="#222" font-weight="bold" text-anchor="middle" transform="rotate(-90 345.5 571)">G<tspan font-size="4.6" dy="1.5">R</tspan><tspan dy="-1.5"> (%)</tspan></text>
<text x="370.3" y="524.6" font-size="6.3" fill="#222" font-weight="normal" text-anchor="start" >15 nm  Pd<tspan font-size="3.6" dy="1.2">0.6</tspan><tspan dy="-1.2">Au</tspan><tspan font-size="3.6" dy="1.2">0.4</tspan><tspan dy="-1.2"> NRB</tspan></text>
<text x="376.4" y="538.8" font-size="5.9" fill="#222" font-weight="bold" text-anchor="middle" >10 %</text>
<text x="390" y="540.5" font-size="5.9" fill="#222" font-weight="bold" text-anchor="middle" >8 %</text>
<text x="400" y="545" font-size="5.9" fill="#222" font-weight="bold" text-anchor="middle" >6 %</text>
<text x="410.3" y="552.6" font-size="5.9" fill="#222" font-weight="bold" text-anchor="middle" >4 %</text>
<text x="423" y="558.6" font-size="5.9" fill="#222" font-weight="bold" text-anchor="middle" >2 %</text>
<text x="436.5" y="567" font-size="5.9" fill="#222" font-weight="bold" text-anchor="middle" >1 %</text>
<text x="448.3" y="579.4" font-size="5.9" fill="#222" font-weight="bold" text-anchor="middle" >0.5 %</text>
<text x="461" y="593.6" font-size="5.9" fill="#222" font-weight="bold" text-anchor="middle" >0.1 %</text>
<text x="472.8" y="600.8" font-size="5.9" fill="#222" font-weight="bold" text-anchor="middle" >0.05 %</text>
<text x="484.7" y="606.7" font-size="5.9" fill="#222" font-weight="bold" text-anchor="middle" >0.01 %</text>
<text x="494.6" y="613.3" font-size="5.9" fill="#222" font-weight="bold" text-anchor="middle" >0.005 %</text>
<line x1="459" y1="596.9" x2="459" y2="603.2" stroke="#222" stroke-width="0.6" />
<path d="M458,602.7 L460,602.7 L459,604.7 Z" fill="#222" stroke="none" stroke-width="1" />
<line x1="471.5" y1="604" x2="471.5" y2="611.8" stroke="#222" stroke-width="0.6" />
<path d="M470.5,611.3 L472.5,611.3 L471.5,613.3 Z" fill="#222" stroke="none" stroke-width="1" />
<line x1="481.7" y1="608.7" x2="481.7" y2="616.3" stroke="#222" stroke-width="0.6" />
<path d="M480.7,615.8 L482.7,615.8 L481.7,617.8 Z" fill="#222" stroke="none" stroke-width="1" />
<line x1="493.5" y1="614.6" x2="493.5" y2="619" stroke="#222" stroke-width="0.6" />
<path d="M492.5,618.5 L494.5,618.5 L493.5,620.5 Z" fill="#222" stroke="none" stroke-width="1" />
<rect x="447.6" y="516.5" width="57.9" height="47.6" fill="#fff" stroke="#222" stroke-width="0.8" />
<polyline points="449.8,560.1 456.5,560.1 472.3,560.1 479.2,560.1 495.1,560.1 502.3,558.7" fill="none" stroke="#e03a40" stroke-width="0.9" stroke-linejoin="round" />
<polyline points="449.8,557.1 456.5,556.7 472.3,555.2 479.2,548.7 495.1,528.1 502.3,520" fill="none" stroke="#3a78c8" stroke-width="0.9" stroke-linejoin="round" />
<circle cx="449.8" cy="560.1" r="1.5" fill="#e03a40" stroke="none" stroke-width="1" />
<circle cx="456.5" cy="560.1" r="1.5" fill="#e03a40" stroke="none" stroke-width="1" />
<circle cx="472.3" cy="560.1" r="1.5" fill="#e03a40" stroke="none" stroke-width="1" />
<circle cx="479.2" cy="560.1" r="1.5" fill="#e03a40" stroke="none" stroke-width="1" />
<circle cx="495.1" cy="560.1" r="1.5" fill="#e03a40" stroke="none" stroke-width="1" />
<circle cx="502.3" cy="558.7" r="1.5" fill="#e03a40" stroke="none" stroke-width="1" />
<circle cx="449.8" cy="557.1" r="1.5" fill="#3a78c8" stroke="none" stroke-width="1" />
<circle cx="456.5" cy="556.7" r="1.5" fill="#3a78c8" stroke="none" stroke-width="1" />
<circle cx="472.3" cy="555.2" r="1.5" fill="#3a78c8" stroke="none" stroke-width="1" />
<circle cx="479.2" cy="548.7" r="1.5" fill="#3a78c8" stroke="none" stroke-width="1" />
<circle cx="495.1" cy="528.1" r="1.5" fill="#3a78c8" stroke="none" stroke-width="1" />
<circle cx="502.3" cy="520" r="1.5" fill="#3a78c8" stroke="none" stroke-width="1" />
<line x1="448.9" y1="519.6" x2="460.6" y2="519.6" stroke="#3a78c8" stroke-width="0.9" />
<circle cx="454.5" cy="519.6" r="1.5" fill="#3a78c8" stroke="none" stroke-width="1" />
<line x1="448.9" y1="525.9" x2="460.6" y2="525.9" stroke="#e03a40" stroke-width="0.9" />
<circle cx="454.5" cy="525.9" r="1.5" fill="#e03a40" stroke="none" stroke-width="1" />
<text x="464" y="521.8" font-size="5.4" fill="#333" font-weight="bold" text-anchor="start" >PdA u NRB</text>
<text x="464" y="528.2" font-size="5.4" fill="#333" font-weight="bold" text-anchor="start" >Pd NRB</text>
<text x="456.7" y="572" font-size="5.6" fill="#222" font-weight="bold" text-anchor="middle" >0.01</text>
<text x="479.5" y="572" font-size="5.6" fill="#222" font-weight="bold" text-anchor="middle" >0.1</text>
<text x="502.9" y="572" font-size="5.6" fill="#222" font-weight="bold" text-anchor="middle" >1</text>
<text x="477.2" y="579.2" font-size="5.6" fill="#222" font-weight="bold" text-anchor="middle" >Cont. (%)</text>
<text x="444.5" y="540.5" font-size="5.4" fill="#222" font-weight="bold" text-anchor="middle" transform="rotate(-90 444.5 540.5)">G<tspan font-size="3.5" dy="1">R</tspan></text>
<line x1="456.5" y1="564.1" x2="456.5" y2="562.5" stroke="#222" stroke-width="0.5" />
<line x1="479.2" y1="564.1" x2="479.2" y2="562.5" stroke="#222" stroke-width="0.5" />
<line x1="502.3" y1="564.1" x2="502.3" y2="562.5" stroke="#222" stroke-width="0.5" />
<text x="514.5" y="518.2" font-size="13.5" fill="#231815" font-weight="bold" text-anchor="start" >o</text>
<polyline points="548,617.42 548.2,560.89 548.49,562.89 549.09,611.01 549.49,613.31 549.99,617.94 550.34,617.27 550.54,560.41 550.83,562.41 551.43,611.01 551.83,616.26 552.33,617.69 552.68,616.14 552.88,559.75 553.18,561.75 553.77,611.01 554.17,616.63 554.67,618.83 555.02,616.05 555.22,560.87 555.52,562.87 556.11,611.01 556.51,614.23 557.01,620.27 557.36,615.2 557.56,558.13 557.86,560.13 558.45,611.01 558.85,614.39 559.35,617.12 559.7,620.41 559.9,560.02 560.2,562.02 560.79,611.01 561.19,614.89 561.69,620.17 562.04,619.17 562.24,559.6 562.54,561.6 563.14,611.01 563.53,616.88 564.03,617.95 564.38,615.87 564.58,558.6 564.88,560.59 565.48,611.01 565.87,614.93 566.37,616.98 566.72,616.86 566.92,558.1 567.22,560.1 567.82,611.01 568.21,615.18 568.71,618.97 569.06,615.03 569.26,556.43 569.56,558.43 570.16,611.01 570.56,613.65 571.05,616.61 571.4,619.23 571.6,557.94 571.9,559.93 572.5,611.01 572.9,615.85 573.39,620.11 573.74,618.3 573.94,556.39 574.24,558.38 574.84,611.01 575.24,613.62 575.73,618.37 576.08,615.84 576.28,555.54 576.58,557.53 577.18,611.01 577.58,617 578.08,619.34 578.42,617.92 578.62,555.33 578.92,557.33 579.52,611.01 579.92,613.09 580.42,618.31 580.76,617.04 580.96,557.26 581.26,559.25 581.86,611.01 582.26,613.89 582.76,619.01 583.11,618.67 583.3,556.89 583.6,558.88 584.2,611.01 584.6,613.15 585.1,616.33 585.45,619.14 585.64,556.47 585.94,558.47 586.54,611.01 586.94,616.6 587.44,620.17 587.79,619.52 587.99,554.31 588.28,556.31 588.88,611.01 589.28,614.77 589.78,618.04 590.13,616.48 590.33,555.61 590.62,557.61 591.22,611.01 591.62,616.48 592.12,616.96 592.47,618.19 592.67,555.81 592.97,557.81 593.56,611.01 593.96,616.15 594.46,619.01 594.81,616.09 595.01,553.51 595.31,555.5 595.9,611.01 596.3,615.79 596.8,615.64 597.15,618.33 597.35,555.56 597.65,557.55 598.24,611.01 598.64,613.59 599.14,616.97 599.49,615.06 599.69,555.85 599.99,557.85 600.58,611.01 600.98,616.15 601.48,619.08 601.83,618.69 602.03,554.04 602.33,556.04 602.93,611.01 603.32,615.82 603.82,620.09 604.17,617.3 604.37,555.88 604.67,557.88 605.27,611.01 605.66,616.03 606.16,617.19 606.51,618.01 606.71,555.12 607.01,557.12 607.61,611.01 608,613.17 608.5,617.84 608.85,615.74 609.05,554.58 609.35,556.57 609.95,611.01 610.35,616.27 610.84,619.65 611.19,616.01 611.39,553.68 611.69,555.67 612.29,611.01 612.69,616.01 613.18,619.45 613.53,615.33 613.73,554.13 614.03,556.13 614.63,611.01 615.03,616.22 615.52,615.28 615.87,617.18 616.07,553.75 616.37,555.74 616.97,611.01 617.37,615.32 617.87,619.93 618.21,615.21 618.41,556.02 618.71,558.02 619.31,611.01 619.71,616.05 620.21,616.63 620.55,615.97 620.75,555.43 621.05,557.43 621.65,611.01 622.05,614.62 622.55,618.88 622.9,616.54 623.09,555.65 623.39,557.65 623.99,611.01 624.39,616.73 624.89,619.24 625.24,615.82 625.43,547.64 625.73,549.64 626.33,611.01 626.73,614.55 627.23,618.96 627.58,619.38 627.78,553.65 628.07,555.65 628.67,611.01 629.07,616.94 629.57,619.02 629.92,620.16 630.12,554.92 630.41,556.92 631.01,611.01 631.41,616.3 631.91,618.47 632.26,619.77 632.46,554.58 632.76,556.58 633.35,611.01 633.75,615.56 634.25,615.6 634.6,616.89 634.8,553.48 635.1,555.48 635.69,611.01 636.09,614.24 636.59,617.29 636.94,620.3 637.14,555.75 637.44,557.74 638.03,611.01 638.43,616.93 638.93,615.5 639.28,615.21 639.48,554.24 639.78,556.23 640.38,611.01 640.77,616.92 641.27,617 641.62,616.49 641.82,554.82 642.12,556.82 642.72,611.01 643.11,615.73 643.61,615.01 643.96,617.5 644.16,549.64 644.46,551.63 645.06,611.01 645.45,614.06 645.95,615.55 646.3,616.63 646.5,554.14 646.8,556.13 647.4,611.01 647.8,613.84 648.29,615.47 648.64,616.73 648.84,555.18 649.14,557.17 649.74,611.01 650.14,613.41 650.63,615.71 650.98,616.16 651.18,555 651.48,557 652.08,611.01 652.48,613.56 652.97,617.35 653.32,618.4 653.52,554.44 653.82,556.44 654.42,611.01 654.82,614.68 655.32,617.15 655.66,616.99 655.86,555.91 656.16,557.9 656.76,611.01 657.16,613.04 657.66,615.67 658,618.36 658.2,554.16 658.5,556.16 659.1,611.01 659.5,614.07 660,617.31 660.34,615.89 660.54,554.94 660.84,556.93 661.44,611.01 661.84,616.67 662.34,616.38 662.69,617.19 662.88,556.04 663.18,558.04 663.78,611.01 664.18,615.08 664.68,619.23 666.02,617" fill="none" stroke="#3b7bc8" stroke-width="1.0" stroke-linejoin="round" />
<rect x="537.5" y="516.5" width="140" height="112" fill="none" stroke="#222" stroke-width="0.9" />
<line x1="537.5" y1="618" x2="539.5" y2="618" stroke="#222" stroke-width="0.6" />
<line x1="677.5" y1="618" x2="675.5" y2="618" stroke="#222" stroke-width="0.6" />
<line x1="537.5" y1="603" x2="538.7" y2="603" stroke="#222" stroke-width="0.6" />
<line x1="677.5" y1="603" x2="676.3" y2="603" stroke="#222" stroke-width="0.6" />
<text x="531" y="620.7" font-size="7.6" fill="#222" font-weight="bold" text-anchor="middle" >0</text>
<line x1="537.5" y1="588.06" x2="539.5" y2="588.06" stroke="#222" stroke-width="0.6" />
<line x1="677.5" y1="588.06" x2="675.5" y2="588.06" stroke="#222" stroke-width="0.6" />
<line x1="537.5" y1="573.06" x2="538.7" y2="573.06" stroke="#222" stroke-width="0.6" />
<line x1="677.5" y1="573.06" x2="676.3" y2="573.06" stroke="#222" stroke-width="0.6" />
<text x="531" y="590.76" font-size="7.6" fill="#222" font-weight="bold" text-anchor="middle" >3</text>
<line x1="537.5" y1="558.12" x2="539.5" y2="558.12" stroke="#222" stroke-width="0.6" />
<line x1="677.5" y1="558.12" x2="675.5" y2="558.12" stroke="#222" stroke-width="0.6" />
<line x1="537.5" y1="543.12" x2="538.7" y2="543.12" stroke="#222" stroke-width="0.6" />
<line x1="677.5" y1="543.12" x2="676.3" y2="543.12" stroke="#222" stroke-width="0.6" />
<text x="531" y="560.82" font-size="7.6" fill="#222" font-weight="bold" text-anchor="middle" >6</text>
<line x1="537.5" y1="528.18" x2="539.5" y2="528.18" stroke="#222" stroke-width="0.6" />
<line x1="677.5" y1="528.18" x2="675.5" y2="528.18" stroke="#222" stroke-width="0.6" />
<line x1="537.5" y1="513.18" x2="538.7" y2="513.18" stroke="#222" stroke-width="0.6" />
<line x1="677.5" y1="513.18" x2="676.3" y2="513.18" stroke="#222" stroke-width="0.6" />
<text x="531" y="530.88" font-size="7.6" fill="#222" font-weight="bold" text-anchor="middle" >9</text>
<line x1="547" y1="628.5" x2="547" y2="630.5" stroke="#222" stroke-width="0.6" />
<line x1="559.45" y1="628.5" x2="559.45" y2="629.8" stroke="#222" stroke-width="0.6" />
<line x1="540.8" y1="628.5" x2="540.8" y2="629.5" stroke="#222" stroke-width="0.6" />
<text x="547" y="639" font-size="7.6" fill="#222" font-weight="bold" text-anchor="middle" >0</text>
<line x1="571.9" y1="628.5" x2="571.9" y2="630.5" stroke="#222" stroke-width="0.6" />
<line x1="584.35" y1="628.5" x2="584.35" y2="629.8" stroke="#222" stroke-width="0.6" />
<line x1="565.7" y1="628.5" x2="565.7" y2="629.5" stroke="#222" stroke-width="0.6" />
<text x="571.9" y="639" font-size="7.6" fill="#222" font-weight="bold" text-anchor="middle" >50</text>
<line x1="596.8" y1="628.5" x2="596.8" y2="630.5" stroke="#222" stroke-width="0.6" />
<line x1="609.25" y1="628.5" x2="609.25" y2="629.8" stroke="#222" stroke-width="0.6" />
<line x1="590.6" y1="628.5" x2="590.6" y2="629.5" stroke="#222" stroke-width="0.6" />
<text x="596.8" y="639" font-size="7.6" fill="#222" font-weight="bold" text-anchor="middle" >100</text>
<line x1="621.7" y1="628.5" x2="621.7" y2="630.5" stroke="#222" stroke-width="0.6" />
<line x1="634.15" y1="628.5" x2="634.15" y2="629.8" stroke="#222" stroke-width="0.6" />
<line x1="615.5" y1="628.5" x2="615.5" y2="629.5" stroke="#222" stroke-width="0.6" />
<text x="621.7" y="639" font-size="7.6" fill="#222" font-weight="bold" text-anchor="middle" >150</text>
<line x1="646.6" y1="628.5" x2="646.6" y2="630.5" stroke="#222" stroke-width="0.6" />
<line x1="659.05" y1="628.5" x2="659.05" y2="629.8" stroke="#222" stroke-width="0.6" />
<line x1="640.4" y1="628.5" x2="640.4" y2="629.5" stroke="#222" stroke-width="0.6" />
<text x="646.6" y="639" font-size="7.6" fill="#222" font-weight="bold" text-anchor="middle" >200</text>
<line x1="671.5" y1="628.5" x2="671.5" y2="630.5" stroke="#222" stroke-width="0.6" />
<line x1="683.95" y1="628.5" x2="683.95" y2="629.8" stroke="#222" stroke-width="0.6" />
<line x1="665.3" y1="628.5" x2="665.3" y2="629.5" stroke="#222" stroke-width="0.6" />
<text x="671.5" y="639" font-size="7.6" fill="#222" font-weight="bold" text-anchor="middle" >250</text>
<text x="606" y="650" font-size="7.3" fill="#222" font-weight="bold" text-anchor="middle" >Time (min)</text>
<text x="605" y="527" font-size="7.3" fill="#222" font-weight="bold" text-anchor="middle" >50 cycles at 0.5 % H<tspan font-size="4.6" dy="1.5">2</tspan></text>
<text x="522" y="578.5" font-size="7.3" fill="#222" font-weight="bold" text-anchor="middle" transform="rotate(-90 522 578.5)">G<tspan font-size="4.6" dy="1.5">R</tspan><tspan dy="-1.5"> (%)</tspan></text>
</svg></body></html>
